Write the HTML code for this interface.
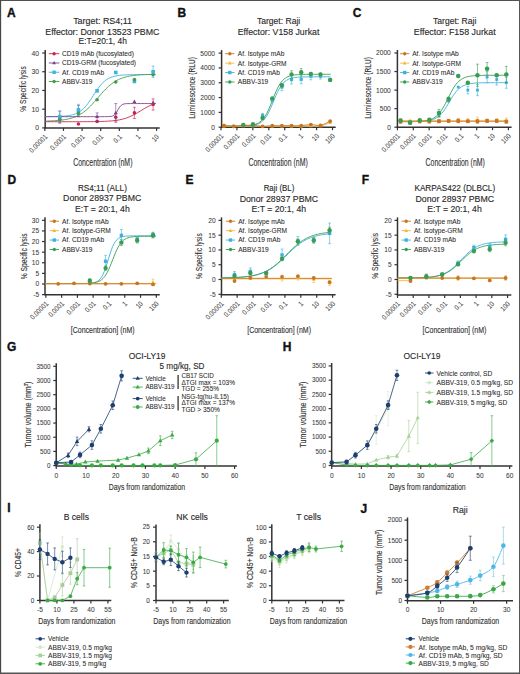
<!DOCTYPE html><html><head><meta charset="utf-8"><style>html,body{margin:0;padding:0;background:#fff;overflow:hidden;}svg{display:block;font-family:"Liberation Sans", sans-serif;}</style></head><body><svg width="520" height="674" viewBox="0 0 520 674">
<rect x="0" y="0" width="520" height="674" fill="#fff"/>
<text x="7.00" y="16.90" font-size="12" text-anchor="start" fill="#111" stroke="#111" stroke-width="0.35" font-weight="bold">A</text>
<text x="102.60" y="24.40" font-size="9" text-anchor="middle" fill="#2a2a2a" font-weight="normal" stroke="#2a2a2a" stroke-width="0.13" textLength="58.9" lengthAdjust="spacingAndGlyphs">Target: RS4;11</text>
<text x="102.40" y="34.70" font-size="9" text-anchor="middle" fill="#2a2a2a" font-weight="normal" stroke="#2a2a2a" stroke-width="0.13" textLength="114.2" lengthAdjust="spacingAndGlyphs">Effector: Donor 13523 PBMC</text>
<text x="102.70" y="44.20" font-size="9" text-anchor="middle" fill="#2a2a2a" font-weight="normal" stroke="#2a2a2a" stroke-width="0.13" textLength="48.5" lengthAdjust="spacingAndGlyphs">E:T=20:1, 4h</text>
<line x1="45.20" y1="50.00" x2="45.20" y2="127.90" stroke="#333" stroke-width="1.5"/>
<line x1="42.20" y1="127.90" x2="45.20" y2="127.90" stroke="#333" stroke-width="1.2"/>
<text x="39.00" y="130.42" font-size="7.62" text-anchor="end" fill="#3a3a3a" font-weight="normal" stroke="#3a3a3a" stroke-width="0.06" textLength="3.78" lengthAdjust="spacingAndGlyphs">0</text>
<line x1="42.20" y1="109.18" x2="45.20" y2="109.18" stroke="#333" stroke-width="1.2"/>
<text x="39.00" y="111.69" font-size="7.62" text-anchor="end" fill="#3a3a3a" font-weight="normal" stroke="#3a3a3a" stroke-width="0.06" textLength="7.56" lengthAdjust="spacingAndGlyphs">10</text>
<line x1="42.20" y1="90.45" x2="45.20" y2="90.45" stroke="#333" stroke-width="1.2"/>
<text x="39.00" y="92.97" font-size="7.62" text-anchor="end" fill="#3a3a3a" font-weight="normal" stroke="#3a3a3a" stroke-width="0.06" textLength="7.56" lengthAdjust="spacingAndGlyphs">20</text>
<line x1="42.20" y1="71.72" x2="45.20" y2="71.72" stroke="#333" stroke-width="1.2"/>
<text x="39.00" y="74.24" font-size="7.62" text-anchor="end" fill="#3a3a3a" font-weight="normal" stroke="#3a3a3a" stroke-width="0.06" textLength="7.56" lengthAdjust="spacingAndGlyphs">30</text>
<line x1="42.20" y1="53.00" x2="45.20" y2="53.00" stroke="#333" stroke-width="1.2"/>
<text x="39.00" y="55.52" font-size="7.62" text-anchor="end" fill="#3a3a3a" font-weight="normal" stroke="#3a3a3a" stroke-width="0.06" textLength="7.56" lengthAdjust="spacingAndGlyphs">40</text>
<line x1="44.50" y1="127.90" x2="159.70" y2="127.90" stroke="#333" stroke-width="1.5"/>
<line x1="44.85" y1="127.90" x2="44.85" y2="130.90" stroke="#333" stroke-width="1.2"/>
<text x="47.85" y="137.30" font-size="7.25" text-anchor="end" fill="#3a3a3a" font-weight="normal" stroke="#3a3a3a" stroke-width="0.06" transform="rotate(-45 47.85 137.30)" textLength="22.41" lengthAdjust="spacingAndGlyphs">0.00001</text>
<line x1="63.47" y1="127.90" x2="63.47" y2="130.90" stroke="#333" stroke-width="1.2"/>
<text x="66.47" y="137.30" font-size="7.25" text-anchor="end" fill="#3a3a3a" font-weight="normal" stroke="#3a3a3a" stroke-width="0.06" transform="rotate(-45 66.47 137.30)" textLength="18.96" lengthAdjust="spacingAndGlyphs">0.0001</text>
<line x1="82.09" y1="127.90" x2="82.09" y2="130.90" stroke="#333" stroke-width="1.2"/>
<text x="85.09" y="137.30" font-size="7.25" text-anchor="end" fill="#3a3a3a" font-weight="normal" stroke="#3a3a3a" stroke-width="0.06" transform="rotate(-45 85.09 137.30)" textLength="15.52" lengthAdjust="spacingAndGlyphs">0.001</text>
<line x1="100.71" y1="127.90" x2="100.71" y2="130.90" stroke="#333" stroke-width="1.2"/>
<text x="103.71" y="137.30" font-size="7.25" text-anchor="end" fill="#3a3a3a" font-weight="normal" stroke="#3a3a3a" stroke-width="0.06" transform="rotate(-45 103.71 137.30)" textLength="12.07" lengthAdjust="spacingAndGlyphs">0.01</text>
<line x1="119.33" y1="127.90" x2="119.33" y2="130.90" stroke="#333" stroke-width="1.2"/>
<text x="122.33" y="137.30" font-size="7.25" text-anchor="end" fill="#3a3a3a" font-weight="normal" stroke="#3a3a3a" stroke-width="0.06" transform="rotate(-45 122.33 137.30)" textLength="8.62" lengthAdjust="spacingAndGlyphs">0.1</text>
<line x1="137.95" y1="127.90" x2="137.95" y2="130.90" stroke="#333" stroke-width="1.2"/>
<text x="140.95" y="137.30" font-size="7.25" text-anchor="end" fill="#3a3a3a" font-weight="normal" stroke="#3a3a3a" stroke-width="0.06" transform="rotate(-45 140.95 137.30)" textLength="3.45" lengthAdjust="spacingAndGlyphs">1</text>
<line x1="156.57" y1="127.90" x2="156.57" y2="130.90" stroke="#333" stroke-width="1.2"/>
<text x="159.57" y="137.30" font-size="7.25" text-anchor="end" fill="#3a3a3a" font-weight="normal" stroke="#3a3a3a" stroke-width="0.06" transform="rotate(-45 159.57 137.30)" textLength="6.9" lengthAdjust="spacingAndGlyphs">10</text>
<text x="26.00" y="89.00" font-size="8.8" text-anchor="middle" fill="#333" font-weight="normal" stroke="#333" stroke-width="0.13" transform="rotate(-90 26.00 89.00)" textLength="45.4" lengthAdjust="spacingAndGlyphs">% Specific lysis</text>
<text x="102.80" y="165.60" font-size="10.5" text-anchor="middle" fill="#333" font-weight="normal" stroke="#333" stroke-width="0.13" textLength="59.3" lengthAdjust="spacingAndGlyphs">Concentration (nM)</text>
<line x1="48.80" y1="53.70" x2="59.40" y2="53.70" stroke="#c8244e" stroke-width="0.9"/>
<circle cx="54.10" cy="53.70" r="1.7" fill="#c8244e"/>
<text x="62.00" y="56.08" font-size="6.6" text-anchor="start" fill="#2a2a2a" font-weight="normal" stroke="#2a2a2a" stroke-width="0.06">CD19 mAb (fucosylated)</text>
<line x1="48.80" y1="62.97" x2="59.40" y2="62.97" stroke="#7b3f8e" stroke-width="0.9"/>
<polygon points="54.10,60.93 55.97,64.33 52.23,64.33" fill="#7b3f8e"/>
<text x="62.00" y="65.35" font-size="6.6" text-anchor="start" fill="#2a2a2a" font-weight="normal" stroke="#2a2a2a" stroke-width="0.06">CD19-GRM (fucosylated)</text>
<line x1="48.80" y1="72.24" x2="59.40" y2="72.24" stroke="#3db3de" stroke-width="0.9"/>
<rect x="52.40" y="70.54" width="3.40" height="3.40" fill="#3db3de"/>
<text x="62.00" y="74.62" font-size="6.6" text-anchor="start" fill="#2a2a2a" font-weight="normal" stroke="#2a2a2a" stroke-width="0.06">Af. CD19 mAb</text>
<line x1="48.80" y1="81.51" x2="59.40" y2="81.51" stroke="#3f9f4a" stroke-width="0.9"/>
<circle cx="54.10" cy="81.51" r="1.7" fill="#3f9f4a"/>
<text x="62.00" y="83.89" font-size="6.6" text-anchor="start" fill="#2a2a2a" font-weight="normal" stroke="#2a2a2a" stroke-width="0.06">ABBV-319</text>
<polyline points="44.85,116.63 46.23,116.63 47.62,116.62 49.00,116.61 50.39,116.59 51.77,116.58 53.16,116.56 54.54,116.53 55.93,116.50 57.31,116.46 58.70,116.42 60.08,116.36 61.47,116.29 62.85,116.21 64.24,116.10 65.62,115.98 67.01,115.83 68.39,115.64 69.78,115.41 71.16,115.14 72.55,114.80 73.93,114.40 75.32,113.92 76.70,113.34 78.09,112.65 79.47,111.84 80.86,110.90 82.24,109.79 83.63,108.53 85.01,107.09 86.40,105.49 87.78,103.72 89.17,101.81 90.55,99.78 91.94,97.67 93.32,95.51 94.71,93.35 96.09,91.24 97.47,89.22 98.86,87.32 100.24,85.57 101.63,83.98 103.01,82.56 104.40,81.31 105.78,80.22 107.17,79.28 108.55,78.48 109.94,77.81 111.32,77.24 112.71,76.76 114.09,76.37 115.48,76.04 116.86,75.77 118.25,75.54 119.63,75.36 121.02,75.21 122.40,75.08 123.79,74.98 125.17,74.90 126.56,74.83 127.94,74.78 129.33,74.73 130.71,74.70 132.10,74.67 133.48,74.64 134.87,74.62 136.25,74.61 137.64,74.59 139.02,74.58 140.41,74.57 141.79,74.57 143.18,74.56 144.56,74.55 145.94,74.55 147.33,74.55 148.71,74.54 150.10,74.54 151.48,74.54 152.87,74.54 154.25,74.54 155.64,74.54" fill="none" stroke="#3db3de" stroke-width="0.9" stroke-linejoin="round"/>
<polyline points="44.85,121.10 46.23,121.06 47.62,121.02 49.00,120.98 50.39,120.92 51.77,120.86 53.16,120.79 54.54,120.71 55.93,120.62 57.31,120.51 58.70,120.39 60.08,120.25 61.47,120.10 62.85,119.92 64.24,119.72 65.62,119.49 67.01,119.23 68.39,118.93 69.78,118.60 71.16,118.22 72.55,117.80 73.93,117.32 75.32,116.79 76.70,116.19 78.09,115.53 79.47,114.79 80.86,113.98 82.24,113.09 83.63,112.11 85.01,111.05 86.40,109.91 87.78,108.68 89.17,107.37 90.55,105.99 91.94,104.54 93.32,103.03 94.71,101.47 96.09,99.88 97.47,98.27 98.86,96.65 100.24,95.05 101.63,93.47 103.01,91.93 104.40,90.44 105.78,89.01 107.17,87.65 108.55,86.37 109.94,85.17 111.32,84.06 112.71,83.03 114.09,82.08 115.48,81.22 116.86,80.44 118.25,79.73 119.63,79.09 121.02,78.52 122.40,78.00 123.79,77.55 125.17,77.14 126.56,76.78 127.94,76.46 129.33,76.18 130.71,75.93 132.10,75.71 133.48,75.52 134.87,75.35 136.25,75.20 137.64,75.07 139.02,74.95 140.41,74.85 141.79,74.77 143.18,74.69 144.56,74.62 145.94,74.56 147.33,74.51 148.71,74.47 150.10,74.43 151.48,74.39 152.87,74.36 154.25,74.34 155.64,74.31" fill="none" stroke="#3f9f4a" stroke-width="0.9" stroke-linejoin="round"/>
<polyline points="44.85,116.67 46.23,116.67 47.62,116.67 49.00,116.67 50.39,116.67 51.77,116.67 53.16,116.67 54.54,116.66 55.93,116.66 57.31,116.66 58.70,116.66 60.08,116.66 61.47,116.66 62.85,116.66 64.24,116.66 65.62,116.66 67.01,116.66 68.39,116.66 69.78,116.66 71.16,116.66 72.55,116.66 73.93,116.66 75.32,116.66 76.70,116.66 78.09,116.66 79.47,116.66 80.86,116.66 82.24,116.66 83.63,116.66 85.01,116.66 86.40,116.66 87.78,116.66 89.17,116.66 90.55,116.66 91.94,116.66 93.32,116.66 94.71,116.66 96.09,116.66 97.47,116.66 98.86,116.66 100.24,116.66 101.63,116.66 103.01,116.66 104.40,116.66 105.78,116.65 107.17,116.63 108.55,116.59 109.94,116.51 111.32,116.33 112.71,115.95 114.09,115.22 115.48,113.89 116.86,111.85 118.25,109.37 119.63,107.09 121.02,105.47 122.40,104.52 123.79,104.02 125.17,103.78 126.56,103.66 127.94,103.60 129.33,103.58 130.71,103.57 132.10,103.56 133.48,103.56 134.87,103.56 136.25,103.56 137.64,103.56 139.02,103.56 140.41,103.56 141.79,103.56 143.18,103.56 144.56,103.56 145.94,103.56 147.33,103.56 148.71,103.56 150.10,103.56 151.48,103.56 152.87,103.56 154.25,103.56 155.64,103.56" fill="none" stroke="#7b3f8e" stroke-width="0.9" stroke-linejoin="round"/>
<polyline points="44.85,121.72 46.23,121.72 47.62,121.72 49.00,121.72 50.39,121.72 51.77,121.72 53.16,121.72 54.54,121.72 55.93,121.72 57.31,121.72 58.70,121.72 60.08,121.72 61.47,121.72 62.85,121.72 64.24,121.72 65.62,121.72 67.01,121.71 68.39,121.71 69.78,121.71 71.16,121.71 72.55,121.71 73.93,121.71 75.32,121.71 76.70,121.70 78.09,121.70 79.47,121.70 80.86,121.69 82.24,121.69 83.63,121.68 85.01,121.68 86.40,121.67 87.78,121.66 89.17,121.65 90.55,121.64 91.94,121.63 93.32,121.61 94.71,121.59 96.09,121.57 97.47,121.54 98.86,121.52 100.24,121.48 101.63,121.44 103.01,121.40 104.40,121.34 105.78,121.28 107.17,121.21 108.55,121.13 109.94,121.03 111.32,120.92 112.71,120.79 114.09,120.65 115.48,120.48 116.86,120.29 118.25,120.06 119.63,119.81 121.02,119.53 122.40,119.20 123.79,118.84 125.17,118.43 126.56,117.98 127.94,117.47 129.33,116.92 130.71,116.32 132.10,115.67 133.48,114.97 134.87,114.23 136.25,113.45 137.64,112.64 139.02,111.81 140.41,110.97 141.79,110.13 143.18,109.29 144.56,108.47 145.94,107.68 147.33,106.92 148.71,106.20 150.10,105.53 151.48,104.90 152.87,104.32 154.25,103.80 155.64,103.32" fill="none" stroke="#c8244e" stroke-width="0.9" stroke-linejoin="round"/>
<line x1="59.76" y1="115.73" x2="59.76" y2="123.22" stroke="#c8244e" stroke-width="0.6"/>
<line x1="58.26" y1="115.73" x2="61.26" y2="115.73" stroke="#c8244e" stroke-width="0.6"/>
<line x1="58.26" y1="123.22" x2="61.26" y2="123.22" stroke="#c8244e" stroke-width="0.6"/>
<circle cx="59.76" cy="119.47" r="1.8" fill="#c8244e"/>
<circle cx="78.43" cy="123.97" r="1.8" fill="#c8244e"/>
<circle cx="97.10" cy="121.53" r="1.8" fill="#c8244e"/>
<line x1="115.77" y1="113.48" x2="115.77" y2="120.97" stroke="#c8244e" stroke-width="0.6"/>
<line x1="114.27" y1="113.48" x2="117.27" y2="113.48" stroke="#c8244e" stroke-width="0.6"/>
<line x1="114.27" y1="120.97" x2="117.27" y2="120.97" stroke="#c8244e" stroke-width="0.6"/>
<circle cx="115.77" cy="117.23" r="1.8" fill="#c8244e"/>
<line x1="134.44" y1="107.30" x2="134.44" y2="118.54" stroke="#c8244e" stroke-width="0.6"/>
<line x1="132.94" y1="107.30" x2="135.94" y2="107.30" stroke="#c8244e" stroke-width="0.6"/>
<line x1="132.94" y1="118.54" x2="135.94" y2="118.54" stroke="#c8244e" stroke-width="0.6"/>
<circle cx="134.44" cy="112.92" r="1.8" fill="#c8244e"/>
<line x1="153.11" y1="98.88" x2="153.11" y2="110.11" stroke="#c8244e" stroke-width="0.6"/>
<line x1="151.61" y1="98.88" x2="154.61" y2="98.88" stroke="#c8244e" stroke-width="0.6"/>
<line x1="151.61" y1="110.11" x2="154.61" y2="110.11" stroke="#c8244e" stroke-width="0.6"/>
<circle cx="153.11" cy="104.49" r="1.8" fill="#c8244e"/>
<line x1="59.76" y1="111.05" x2="59.76" y2="122.28" stroke="#7b3f8e" stroke-width="0.6"/>
<line x1="58.26" y1="111.05" x2="61.26" y2="111.05" stroke="#7b3f8e" stroke-width="0.6"/>
<line x1="58.26" y1="122.28" x2="61.26" y2="122.28" stroke="#7b3f8e" stroke-width="0.6"/>
<polygon points="59.76,114.51 61.74,118.11 57.78,118.11" fill="#7b3f8e"/>
<line x1="78.43" y1="105.43" x2="78.43" y2="116.67" stroke="#7b3f8e" stroke-width="0.6"/>
<line x1="76.93" y1="105.43" x2="79.93" y2="105.43" stroke="#7b3f8e" stroke-width="0.6"/>
<line x1="76.93" y1="116.67" x2="79.93" y2="116.67" stroke="#7b3f8e" stroke-width="0.6"/>
<polygon points="78.43,108.89 80.41,112.49 76.45,112.49" fill="#7b3f8e"/>
<line x1="97.10" y1="112.92" x2="97.10" y2="120.41" stroke="#7b3f8e" stroke-width="0.6"/>
<line x1="95.60" y1="112.92" x2="98.60" y2="112.92" stroke="#7b3f8e" stroke-width="0.6"/>
<line x1="95.60" y1="120.41" x2="98.60" y2="120.41" stroke="#7b3f8e" stroke-width="0.6"/>
<polygon points="97.10,114.51 99.08,118.11 95.12,118.11" fill="#7b3f8e"/>
<line x1="115.77" y1="103.56" x2="115.77" y2="122.28" stroke="#7b3f8e" stroke-width="0.6"/>
<line x1="114.27" y1="103.56" x2="117.27" y2="103.56" stroke="#7b3f8e" stroke-width="0.6"/>
<line x1="114.27" y1="122.28" x2="117.27" y2="122.28" stroke="#7b3f8e" stroke-width="0.6"/>
<polygon points="115.77,110.76 117.75,114.36 113.79,114.36" fill="#7b3f8e"/>
<polygon points="134.44,99.53 136.42,103.12 132.46,103.12" fill="#7b3f8e"/>
<polygon points="153.11,100.46 155.09,104.06 151.13,104.06" fill="#7b3f8e"/>
<line x1="59.76" y1="111.05" x2="59.76" y2="122.28" stroke="#3db3de" stroke-width="0.6"/>
<line x1="58.26" y1="111.05" x2="61.26" y2="111.05" stroke="#3db3de" stroke-width="0.6"/>
<line x1="58.26" y1="122.28" x2="61.26" y2="122.28" stroke="#3db3de" stroke-width="0.6"/>
<rect x="57.96" y="114.87" width="3.60" height="3.60" fill="#3db3de"/>
<line x1="78.43" y1="104.31" x2="78.43" y2="115.54" stroke="#3db3de" stroke-width="0.6"/>
<line x1="76.93" y1="104.31" x2="79.93" y2="104.31" stroke="#3db3de" stroke-width="0.6"/>
<line x1="76.93" y1="115.54" x2="79.93" y2="115.54" stroke="#3db3de" stroke-width="0.6"/>
<rect x="76.63" y="108.12" width="3.60" height="3.60" fill="#3db3de"/>
<rect x="95.30" y="89.02" width="3.60" height="3.60" fill="#3db3de"/>
<rect x="113.97" y="70.67" width="3.60" height="3.60" fill="#3db3de"/>
<rect x="132.64" y="79.66" width="3.60" height="3.60" fill="#3db3de"/>
<line x1="153.11" y1="66.11" x2="153.11" y2="77.34" stroke="#3db3de" stroke-width="0.6"/>
<line x1="151.61" y1="66.11" x2="154.61" y2="66.11" stroke="#3db3de" stroke-width="0.6"/>
<line x1="151.61" y1="77.34" x2="154.61" y2="77.34" stroke="#3db3de" stroke-width="0.6"/>
<rect x="151.31" y="69.92" width="3.60" height="3.60" fill="#3db3de"/>
<circle cx="59.76" cy="119.66" r="1.8" fill="#3f9f4a"/>
<circle cx="78.43" cy="113.48" r="1.8" fill="#3f9f4a"/>
<circle cx="97.10" cy="99.81" r="1.8" fill="#3f9f4a"/>
<circle cx="115.77" cy="82.02" r="1.8" fill="#3f9f4a"/>
<circle cx="134.44" cy="79.59" r="1.8" fill="#3f9f4a"/>
<circle cx="153.11" cy="74.72" r="1.8" fill="#3f9f4a"/>
<text x="177.40" y="16.80" font-size="12" text-anchor="start" fill="#111" stroke="#111" stroke-width="0.35" font-weight="bold">B</text>
<text x="278.60" y="24.40" font-size="9" text-anchor="middle" fill="#2a2a2a" font-weight="normal" stroke="#2a2a2a" stroke-width="0.13" textLength="43.3" lengthAdjust="spacingAndGlyphs">Target: Raji</text>
<text x="278.50" y="35.00" font-size="9" text-anchor="middle" fill="#2a2a2a" font-weight="normal" stroke="#2a2a2a" stroke-width="0.13" textLength="81.7" lengthAdjust="spacingAndGlyphs">Effector: V158 Jurkat</text>
<line x1="221.60" y1="50.10" x2="221.60" y2="127.20" stroke="#333" stroke-width="1.5"/>
<line x1="218.60" y1="127.20" x2="221.60" y2="127.20" stroke="#333" stroke-width="1.2"/>
<text x="215.00" y="129.64" font-size="7.39" text-anchor="end" fill="#3a3a3a" font-weight="normal" stroke="#3a3a3a" stroke-width="0.06" textLength="3.67" lengthAdjust="spacingAndGlyphs">0</text>
<line x1="218.60" y1="112.38" x2="221.60" y2="112.38" stroke="#333" stroke-width="1.2"/>
<text x="215.00" y="114.82" font-size="7.39" text-anchor="end" fill="#3a3a3a" font-weight="normal" stroke="#3a3a3a" stroke-width="0.06" textLength="14.68" lengthAdjust="spacingAndGlyphs">1000</text>
<line x1="218.60" y1="97.56" x2="221.60" y2="97.56" stroke="#333" stroke-width="1.2"/>
<text x="215.00" y="100.00" font-size="7.39" text-anchor="end" fill="#3a3a3a" font-weight="normal" stroke="#3a3a3a" stroke-width="0.06" textLength="14.68" lengthAdjust="spacingAndGlyphs">2000</text>
<line x1="218.60" y1="82.74" x2="221.60" y2="82.74" stroke="#333" stroke-width="1.2"/>
<text x="215.00" y="85.18" font-size="7.39" text-anchor="end" fill="#3a3a3a" font-weight="normal" stroke="#3a3a3a" stroke-width="0.06" textLength="14.68" lengthAdjust="spacingAndGlyphs">3000</text>
<line x1="218.60" y1="67.92" x2="221.60" y2="67.92" stroke="#333" stroke-width="1.2"/>
<text x="215.00" y="70.36" font-size="7.39" text-anchor="end" fill="#3a3a3a" font-weight="normal" stroke="#3a3a3a" stroke-width="0.06" textLength="14.68" lengthAdjust="spacingAndGlyphs">4000</text>
<line x1="218.60" y1="53.10" x2="221.60" y2="53.10" stroke="#333" stroke-width="1.2"/>
<text x="215.00" y="55.54" font-size="7.39" text-anchor="end" fill="#3a3a3a" font-weight="normal" stroke="#3a3a3a" stroke-width="0.06" textLength="14.68" lengthAdjust="spacingAndGlyphs">5000</text>
<line x1="220.90" y1="127.20" x2="335.70" y2="127.20" stroke="#333" stroke-width="1.5"/>
<line x1="221.00" y1="127.20" x2="221.00" y2="130.20" stroke="#333" stroke-width="1.2"/>
<text x="224.00" y="136.60" font-size="7.25" text-anchor="end" fill="#3a3a3a" font-weight="normal" stroke="#3a3a3a" stroke-width="0.06" transform="rotate(-45 224.00 136.60)" textLength="22.41" lengthAdjust="spacingAndGlyphs">0.00001</text>
<line x1="236.93" y1="127.20" x2="236.93" y2="130.20" stroke="#333" stroke-width="1.2"/>
<text x="239.93" y="136.60" font-size="7.25" text-anchor="end" fill="#3a3a3a" font-weight="normal" stroke="#3a3a3a" stroke-width="0.06" transform="rotate(-45 239.93 136.60)" textLength="18.96" lengthAdjust="spacingAndGlyphs">0.0001</text>
<line x1="252.86" y1="127.20" x2="252.86" y2="130.20" stroke="#333" stroke-width="1.2"/>
<text x="255.86" y="136.60" font-size="7.25" text-anchor="end" fill="#3a3a3a" font-weight="normal" stroke="#3a3a3a" stroke-width="0.06" transform="rotate(-45 255.86 136.60)" textLength="15.52" lengthAdjust="spacingAndGlyphs">0.001</text>
<line x1="268.79" y1="127.20" x2="268.79" y2="130.20" stroke="#333" stroke-width="1.2"/>
<text x="271.79" y="136.60" font-size="7.25" text-anchor="end" fill="#3a3a3a" font-weight="normal" stroke="#3a3a3a" stroke-width="0.06" transform="rotate(-45 271.79 136.60)" textLength="12.07" lengthAdjust="spacingAndGlyphs">0.01</text>
<line x1="284.72" y1="127.20" x2="284.72" y2="130.20" stroke="#333" stroke-width="1.2"/>
<text x="287.72" y="136.60" font-size="7.25" text-anchor="end" fill="#3a3a3a" font-weight="normal" stroke="#3a3a3a" stroke-width="0.06" transform="rotate(-45 287.72 136.60)" textLength="8.62" lengthAdjust="spacingAndGlyphs">0.1</text>
<line x1="300.65" y1="127.20" x2="300.65" y2="130.20" stroke="#333" stroke-width="1.2"/>
<text x="303.65" y="136.60" font-size="7.25" text-anchor="end" fill="#3a3a3a" font-weight="normal" stroke="#3a3a3a" stroke-width="0.06" transform="rotate(-45 303.65 136.60)" textLength="3.45" lengthAdjust="spacingAndGlyphs">1</text>
<line x1="316.58" y1="127.20" x2="316.58" y2="130.20" stroke="#333" stroke-width="1.2"/>
<text x="319.58" y="136.60" font-size="7.25" text-anchor="end" fill="#3a3a3a" font-weight="normal" stroke="#3a3a3a" stroke-width="0.06" transform="rotate(-45 319.58 136.60)" textLength="6.9" lengthAdjust="spacingAndGlyphs">10</text>
<line x1="332.51" y1="127.20" x2="332.51" y2="130.20" stroke="#333" stroke-width="1.2"/>
<text x="335.51" y="136.60" font-size="7.25" text-anchor="end" fill="#3a3a3a" font-weight="normal" stroke="#3a3a3a" stroke-width="0.06" transform="rotate(-45 335.51 136.60)" textLength="10.34" lengthAdjust="spacingAndGlyphs">100</text>
<text x="195.40" y="88.00" font-size="9" text-anchor="middle" fill="#333" font-weight="normal" stroke="#333" stroke-width="0.13" transform="rotate(-90 195.40 88.00)" textLength="61.7" lengthAdjust="spacingAndGlyphs">Luminescence (RLU)</text>
<text x="278.10" y="165.60" font-size="10.5" text-anchor="middle" fill="#333" font-weight="normal" stroke="#333" stroke-width="0.13" textLength="59.3" lengthAdjust="spacingAndGlyphs">Concentration (nM)</text>
<line x1="225.10" y1="53.70" x2="234.50" y2="53.70" stroke="#c9741f" stroke-width="0.9"/>
<circle cx="229.80" cy="53.70" r="1.7" fill="#c9741f"/>
<text x="237.80" y="56.08" font-size="6.6" text-anchor="start" fill="#2a2a2a" font-weight="normal" stroke="#2a2a2a" stroke-width="0.06">Af. Isotype mAb</text>
<line x1="225.10" y1="63.13" x2="234.50" y2="63.13" stroke="#f4b840" stroke-width="0.9"/>
<polygon points="229.80,61.09 231.67,64.49 227.93,64.49" fill="#f4b840"/>
<text x="237.80" y="65.51" font-size="6.6" text-anchor="start" fill="#2a2a2a" font-weight="normal" stroke="#2a2a2a" stroke-width="0.06">Af. Isotype-GRM</text>
<line x1="225.10" y1="72.56" x2="234.50" y2="72.56" stroke="#3cb1dd" stroke-width="0.9"/>
<rect x="228.10" y="70.86" width="3.40" height="3.40" fill="#3cb1dd"/>
<text x="237.80" y="74.94" font-size="6.6" text-anchor="start" fill="#2a2a2a" font-weight="normal" stroke="#2a2a2a" stroke-width="0.06">Af. CD19 mAb</text>
<line x1="225.10" y1="81.99" x2="234.50" y2="81.99" stroke="#3a9c52" stroke-width="0.9"/>
<circle cx="229.80" cy="81.99" r="1.7" fill="#3a9c52"/>
<text x="237.80" y="84.37" font-size="6.6" text-anchor="start" fill="#2a2a2a" font-weight="normal" stroke="#2a2a2a" stroke-width="0.06">ABBV-319</text>
<polyline points="223.97,126.31 225.30,126.31 226.64,126.31 227.97,126.30 229.30,126.30 230.64,126.30 231.97,126.30 233.30,126.29 234.63,126.29 235.97,126.28 237.30,126.27 238.63,126.26 239.97,126.24 241.30,126.22 242.63,126.20 243.97,126.16 245.30,126.12 246.63,126.06 247.97,125.98 249.30,125.88 250.63,125.76 251.97,125.59 253.30,125.38 254.63,125.11 255.97,124.77 257.30,124.32 258.63,123.75 259.96,123.04 261.30,122.14 262.63,121.02 263.96,119.65 265.30,117.99 266.63,116.01 267.96,113.71 269.30,111.09 270.63,108.20 271.96,105.10 273.30,101.87 274.63,98.64 275.96,95.51 277.30,92.57 278.63,89.89 279.96,87.53 281.29,85.49 282.63,83.77 283.96,82.34 285.29,81.18 286.63,80.24 287.96,79.49 289.29,78.90 290.63,78.43 291.96,78.07 293.29,77.79 294.63,77.56 295.96,77.39 297.29,77.26 298.62,77.16 299.96,77.08 301.29,77.02 302.62,76.97 303.96,76.93 305.29,76.91 306.62,76.88 307.96,76.87 309.29,76.85 310.62,76.84 311.96,76.84 313.29,76.83 314.62,76.83 315.96,76.82 317.29,76.82 318.62,76.82 319.96,76.82 321.29,76.82 322.62,76.82 323.95,76.81 325.29,76.81 326.62,76.81 327.95,76.81 329.29,76.81 330.62,76.81" fill="none" stroke="#3cb1dd" stroke-width="0.9" stroke-linejoin="round"/>
<polyline points="223.97,126.01 225.30,126.01 226.64,126.01 227.97,126.01 229.30,126.00 230.64,126.00 231.97,126.00 233.30,125.99 234.63,125.98 235.97,125.98 237.30,125.96 238.63,125.95 239.97,125.93 241.30,125.90 242.63,125.87 243.97,125.83 245.30,125.77 246.63,125.70 247.97,125.60 249.30,125.48 250.63,125.32 251.97,125.12 253.30,124.85 254.63,124.51 255.97,124.08 257.30,123.53 258.63,122.83 259.96,121.95 261.30,120.85 262.63,119.50 263.96,117.85 265.30,115.88 266.63,113.58 267.96,110.93 269.30,107.99 270.63,104.80 271.96,101.46 273.30,98.07 274.63,94.76 275.96,91.62 277.30,88.74 278.63,86.17 279.96,83.94 281.29,82.05 282.63,80.47 283.96,79.18 285.29,78.14 286.63,77.30 287.96,76.64 289.29,76.12 290.63,75.71 291.96,75.39 293.29,75.14 294.63,74.95 295.96,74.80 297.29,74.68 298.62,74.59 299.96,74.52 301.29,74.47 302.62,74.43 303.96,74.40 305.29,74.37 306.62,74.36 307.96,74.34 309.29,74.33 310.62,74.32 311.96,74.31 313.29,74.31 314.62,74.31 315.96,74.30 317.29,74.30 318.62,74.30 319.96,74.30 321.29,74.30 322.62,74.30 323.95,74.29 325.29,74.29 326.62,74.29 327.95,74.29 329.29,74.29 330.62,74.29" fill="none" stroke="#3a9c52" stroke-width="0.9" stroke-linejoin="round"/>
<path d="M224.00,126.31 C225.61,126.36 230.43,126.66 233.65,126.61 C236.87,126.56 240.08,126.14 243.30,126.01 C246.52,125.89 249.73,125.79 252.95,125.87 C256.17,125.94 259.38,126.38 262.60,126.46 C265.82,126.53 269.03,126.36 272.25,126.31 C275.47,126.26 278.68,126.16 281.90,126.16 C285.12,126.16 288.33,126.29 291.55,126.31 C294.77,126.34 297.98,126.38 301.20,126.31 C304.42,126.24 307.63,125.92 310.85,125.87 C314.07,125.82 317.28,126.53 320.50,126.01 C323.72,125.50 328.54,123.30 330.15,122.75" fill="none" stroke="#f4b840" stroke-width="0.9"/>
<path d="M224.00,125.72 C225.61,125.82 230.43,126.38 233.65,126.31 C236.87,126.24 240.08,125.42 243.30,125.27 C246.52,125.13 249.73,125.25 252.95,125.42 C256.17,125.59 259.38,126.26 262.60,126.31 C265.82,126.36 269.03,125.82 272.25,125.72 C275.47,125.62 278.68,125.72 281.90,125.72 C285.12,125.72 288.33,125.72 291.55,125.72 C294.77,125.72 297.98,125.92 301.20,125.72 C304.42,125.52 307.63,124.58 310.85,124.53 C314.07,124.48 317.28,125.97 320.50,125.42 C323.72,124.88 328.54,121.96 330.15,121.27" fill="none" stroke="#c9741f" stroke-width="0.9"/>
<polygon points="224.00,124.39 225.76,127.59 222.24,127.59" fill="#f4b840"/>
<polygon points="233.65,124.69 235.41,127.89 231.89,127.89" fill="#f4b840"/>
<polygon points="243.30,124.09 245.06,127.29 241.54,127.29" fill="#f4b840"/>
<polygon points="252.95,123.95 254.71,127.15 251.19,127.15" fill="#f4b840"/>
<polygon points="262.60,124.54 264.36,127.74 260.84,127.74" fill="#f4b840"/>
<polygon points="272.25,124.39 274.01,127.59 270.49,127.59" fill="#f4b840"/>
<polygon points="281.90,124.24 283.66,127.44 280.14,127.44" fill="#f4b840"/>
<polygon points="291.55,124.39 293.31,127.59 289.79,127.59" fill="#f4b840"/>
<polygon points="301.20,124.39 302.96,127.59 299.44,127.59" fill="#f4b840"/>
<polygon points="310.85,123.95 312.61,127.15 309.09,127.15" fill="#f4b840"/>
<polygon points="320.50,124.09 322.26,127.29 318.74,127.29" fill="#f4b840"/>
<polygon points="330.15,120.83 331.91,124.03 328.39,124.03" fill="#f4b840"/>
<circle cx="224.00" cy="125.72" r="1.9" fill="#c9741f"/>
<circle cx="233.65" cy="126.31" r="1.9" fill="#c9741f"/>
<circle cx="243.30" cy="125.27" r="1.9" fill="#c9741f"/>
<circle cx="252.95" cy="125.42" r="1.9" fill="#c9741f"/>
<circle cx="262.60" cy="126.31" r="1.9" fill="#c9741f"/>
<circle cx="272.25" cy="125.72" r="1.9" fill="#c9741f"/>
<circle cx="281.90" cy="125.72" r="1.9" fill="#c9741f"/>
<circle cx="291.55" cy="125.72" r="1.9" fill="#c9741f"/>
<circle cx="301.20" cy="125.72" r="1.9" fill="#c9741f"/>
<circle cx="310.85" cy="124.53" r="1.9" fill="#c9741f"/>
<circle cx="320.50" cy="125.42" r="1.9" fill="#c9741f"/>
<circle cx="330.15" cy="121.27" r="1.9" fill="#c9741f"/>
<rect x="251.35" y="123.38" width="3.20" height="3.20" fill="#3cb1dd"/>
<line x1="262.60" y1="113.37" x2="262.60" y2="117.82" stroke="#3cb1dd" stroke-width="0.6"/>
<line x1="261.20" y1="113.37" x2="264.00" y2="113.37" stroke="#3cb1dd" stroke-width="0.6"/>
<line x1="261.20" y1="117.82" x2="264.00" y2="117.82" stroke="#3cb1dd" stroke-width="0.6"/>
<rect x="261.00" y="114.00" width="3.20" height="3.20" fill="#3cb1dd"/>
<line x1="272.25" y1="97.78" x2="272.25" y2="102.23" stroke="#3cb1dd" stroke-width="0.6"/>
<line x1="270.85" y1="97.78" x2="273.65" y2="97.78" stroke="#3cb1dd" stroke-width="0.6"/>
<line x1="270.85" y1="102.23" x2="273.65" y2="102.23" stroke="#3cb1dd" stroke-width="0.6"/>
<rect x="270.65" y="98.41" width="3.20" height="3.20" fill="#3cb1dd"/>
<line x1="281.90" y1="83.30" x2="281.90" y2="90.71" stroke="#3cb1dd" stroke-width="0.6"/>
<line x1="280.50" y1="83.30" x2="283.30" y2="83.30" stroke="#3cb1dd" stroke-width="0.6"/>
<line x1="280.50" y1="90.71" x2="283.30" y2="90.71" stroke="#3cb1dd" stroke-width="0.6"/>
<rect x="280.30" y="85.41" width="3.20" height="3.20" fill="#3cb1dd"/>
<line x1="291.55" y1="75.15" x2="291.55" y2="84.04" stroke="#3cb1dd" stroke-width="0.6"/>
<line x1="290.15" y1="75.15" x2="292.95" y2="75.15" stroke="#3cb1dd" stroke-width="0.6"/>
<line x1="290.15" y1="84.04" x2="292.95" y2="84.04" stroke="#3cb1dd" stroke-width="0.6"/>
<rect x="289.95" y="78.00" width="3.20" height="3.20" fill="#3cb1dd"/>
<line x1="301.20" y1="74.86" x2="301.20" y2="83.75" stroke="#3cb1dd" stroke-width="0.6"/>
<line x1="299.80" y1="74.86" x2="302.60" y2="74.86" stroke="#3cb1dd" stroke-width="0.6"/>
<line x1="299.80" y1="83.75" x2="302.60" y2="83.75" stroke="#3cb1dd" stroke-width="0.6"/>
<rect x="299.60" y="77.70" width="3.20" height="3.20" fill="#3cb1dd"/>
<line x1="310.85" y1="72.37" x2="310.85" y2="79.78" stroke="#3cb1dd" stroke-width="0.6"/>
<line x1="309.45" y1="72.37" x2="312.25" y2="72.37" stroke="#3cb1dd" stroke-width="0.6"/>
<line x1="309.45" y1="79.78" x2="312.25" y2="79.78" stroke="#3cb1dd" stroke-width="0.6"/>
<rect x="309.25" y="74.47" width="3.20" height="3.20" fill="#3cb1dd"/>
<line x1="320.50" y1="73.11" x2="320.50" y2="79.03" stroke="#3cb1dd" stroke-width="0.6"/>
<line x1="319.10" y1="73.11" x2="321.90" y2="73.11" stroke="#3cb1dd" stroke-width="0.6"/>
<line x1="319.10" y1="79.03" x2="321.90" y2="79.03" stroke="#3cb1dd" stroke-width="0.6"/>
<rect x="318.90" y="74.47" width="3.20" height="3.20" fill="#3cb1dd"/>
<line x1="330.15" y1="78.29" x2="330.15" y2="81.26" stroke="#3cb1dd" stroke-width="0.6"/>
<line x1="328.75" y1="78.29" x2="331.55" y2="78.29" stroke="#3cb1dd" stroke-width="0.6"/>
<line x1="328.75" y1="81.26" x2="331.55" y2="81.26" stroke="#3cb1dd" stroke-width="0.6"/>
<rect x="328.55" y="78.18" width="3.20" height="3.20" fill="#3cb1dd"/>
<circle cx="243.30" cy="124.83" r="2.2" fill="#3a9c52"/>
<circle cx="252.95" cy="124.24" r="2.2" fill="#3a9c52"/>
<circle cx="262.60" cy="118.01" r="2.2" fill="#3a9c52"/>
<circle cx="272.25" cy="98.40" r="2.2" fill="#3a9c52"/>
<circle cx="281.90" cy="85.30" r="2.2" fill="#3a9c52"/>
<line x1="291.55" y1="70.71" x2="291.55" y2="78.12" stroke="#3a9c52" stroke-width="0.6"/>
<line x1="290.15" y1="70.71" x2="292.95" y2="70.71" stroke="#3a9c52" stroke-width="0.6"/>
<line x1="290.15" y1="78.12" x2="292.95" y2="78.12" stroke="#3a9c52" stroke-width="0.6"/>
<circle cx="291.55" cy="74.41" r="2.2" fill="#3a9c52"/>
<line x1="301.20" y1="68.60" x2="301.20" y2="76.01" stroke="#3a9c52" stroke-width="0.6"/>
<line x1="299.80" y1="68.60" x2="302.60" y2="68.60" stroke="#3a9c52" stroke-width="0.6"/>
<line x1="299.80" y1="76.01" x2="302.60" y2="76.01" stroke="#3a9c52" stroke-width="0.6"/>
<circle cx="301.20" cy="72.31" r="2.2" fill="#3a9c52"/>
<circle cx="310.85" cy="73.91" r="2.2" fill="#3a9c52"/>
<circle cx="320.50" cy="74.41" r="2.2" fill="#3a9c52"/>
<circle cx="330.15" cy="79.89" r="2.2" fill="#3a9c52"/>
<circle cx="224.00" cy="125.72" r="1.9" fill="#c9741f"/>
<circle cx="233.65" cy="126.31" r="1.9" fill="#c9741f"/>
<text x="352.80" y="17.10" font-size="12" text-anchor="start" fill="#111" stroke="#111" stroke-width="0.35" font-weight="bold">C</text>
<text x="454.70" y="24.40" font-size="9" text-anchor="middle" fill="#2a2a2a" font-weight="normal" stroke="#2a2a2a" stroke-width="0.13" textLength="43.2" lengthAdjust="spacingAndGlyphs">Target: Raji</text>
<text x="454.70" y="35.00" font-size="9" text-anchor="middle" fill="#2a2a2a" font-weight="normal" stroke="#2a2a2a" stroke-width="0.13" textLength="81.8" lengthAdjust="spacingAndGlyphs">Effector: F158 Jurkat</text>
<line x1="397.40" y1="50.00" x2="397.40" y2="127.20" stroke="#333" stroke-width="1.5"/>
<line x1="394.40" y1="127.20" x2="397.40" y2="127.20" stroke="#333" stroke-width="1.2"/>
<text x="390.80" y="129.64" font-size="7.39" text-anchor="end" fill="#3a3a3a" font-weight="normal" stroke="#3a3a3a" stroke-width="0.06" textLength="3.67" lengthAdjust="spacingAndGlyphs">0</text>
<line x1="394.40" y1="108.65" x2="397.40" y2="108.65" stroke="#333" stroke-width="1.2"/>
<text x="390.80" y="111.09" font-size="7.39" text-anchor="end" fill="#3a3a3a" font-weight="normal" stroke="#3a3a3a" stroke-width="0.06" textLength="11.01" lengthAdjust="spacingAndGlyphs">500</text>
<line x1="394.40" y1="90.10" x2="397.40" y2="90.10" stroke="#333" stroke-width="1.2"/>
<text x="390.80" y="92.54" font-size="7.39" text-anchor="end" fill="#3a3a3a" font-weight="normal" stroke="#3a3a3a" stroke-width="0.06" textLength="14.68" lengthAdjust="spacingAndGlyphs">1000</text>
<line x1="394.40" y1="71.55" x2="397.40" y2="71.55" stroke="#333" stroke-width="1.2"/>
<text x="390.80" y="73.99" font-size="7.39" text-anchor="end" fill="#3a3a3a" font-weight="normal" stroke="#3a3a3a" stroke-width="0.06" textLength="14.68" lengthAdjust="spacingAndGlyphs">1500</text>
<line x1="394.40" y1="53.00" x2="397.40" y2="53.00" stroke="#333" stroke-width="1.2"/>
<text x="390.80" y="55.44" font-size="7.39" text-anchor="end" fill="#3a3a3a" font-weight="normal" stroke="#3a3a3a" stroke-width="0.06" textLength="14.68" lengthAdjust="spacingAndGlyphs">2000</text>
<line x1="396.70" y1="127.20" x2="511.60" y2="127.20" stroke="#333" stroke-width="1.5"/>
<line x1="397.45" y1="127.20" x2="397.45" y2="130.20" stroke="#333" stroke-width="1.2"/>
<text x="400.45" y="136.60" font-size="7.25" text-anchor="end" fill="#3a3a3a" font-weight="normal" stroke="#3a3a3a" stroke-width="0.06" transform="rotate(-45 400.45 136.60)" textLength="22.41" lengthAdjust="spacingAndGlyphs">0.00001</text>
<line x1="413.30" y1="127.20" x2="413.30" y2="130.20" stroke="#333" stroke-width="1.2"/>
<text x="416.30" y="136.60" font-size="7.25" text-anchor="end" fill="#3a3a3a" font-weight="normal" stroke="#3a3a3a" stroke-width="0.06" transform="rotate(-45 416.30 136.60)" textLength="18.96" lengthAdjust="spacingAndGlyphs">0.0001</text>
<line x1="429.15" y1="127.20" x2="429.15" y2="130.20" stroke="#333" stroke-width="1.2"/>
<text x="432.15" y="136.60" font-size="7.25" text-anchor="end" fill="#3a3a3a" font-weight="normal" stroke="#3a3a3a" stroke-width="0.06" transform="rotate(-45 432.15 136.60)" textLength="15.52" lengthAdjust="spacingAndGlyphs">0.001</text>
<line x1="445.00" y1="127.20" x2="445.00" y2="130.20" stroke="#333" stroke-width="1.2"/>
<text x="448.00" y="136.60" font-size="7.25" text-anchor="end" fill="#3a3a3a" font-weight="normal" stroke="#3a3a3a" stroke-width="0.06" transform="rotate(-45 448.00 136.60)" textLength="12.07" lengthAdjust="spacingAndGlyphs">0.01</text>
<line x1="460.85" y1="127.20" x2="460.85" y2="130.20" stroke="#333" stroke-width="1.2"/>
<text x="463.85" y="136.60" font-size="7.25" text-anchor="end" fill="#3a3a3a" font-weight="normal" stroke="#3a3a3a" stroke-width="0.06" transform="rotate(-45 463.85 136.60)" textLength="8.62" lengthAdjust="spacingAndGlyphs">0.1</text>
<line x1="476.70" y1="127.20" x2="476.70" y2="130.20" stroke="#333" stroke-width="1.2"/>
<text x="479.70" y="136.60" font-size="7.25" text-anchor="end" fill="#3a3a3a" font-weight="normal" stroke="#3a3a3a" stroke-width="0.06" transform="rotate(-45 479.70 136.60)" textLength="3.45" lengthAdjust="spacingAndGlyphs">1</text>
<line x1="492.55" y1="127.20" x2="492.55" y2="130.20" stroke="#333" stroke-width="1.2"/>
<text x="495.55" y="136.60" font-size="7.25" text-anchor="end" fill="#3a3a3a" font-weight="normal" stroke="#3a3a3a" stroke-width="0.06" transform="rotate(-45 495.55 136.60)" textLength="6.9" lengthAdjust="spacingAndGlyphs">10</text>
<line x1="508.40" y1="127.20" x2="508.40" y2="130.20" stroke="#333" stroke-width="1.2"/>
<text x="511.40" y="136.60" font-size="7.25" text-anchor="end" fill="#3a3a3a" font-weight="normal" stroke="#3a3a3a" stroke-width="0.06" transform="rotate(-45 511.40 136.60)" textLength="10.34" lengthAdjust="spacingAndGlyphs">100</text>
<text x="371.20" y="88.00" font-size="9" text-anchor="middle" fill="#333" font-weight="normal" stroke="#333" stroke-width="0.13" transform="rotate(-90 371.20 88.00)" textLength="61.7" lengthAdjust="spacingAndGlyphs">Luminescence (RLU)</text>
<text x="455.20" y="165.60" font-size="10.5" text-anchor="middle" fill="#333" font-weight="normal" stroke="#333" stroke-width="0.13" textLength="59.3" lengthAdjust="spacingAndGlyphs">Concentration (nM)</text>
<line x1="400.10" y1="53.70" x2="409.30" y2="53.70" stroke="#c9741f" stroke-width="0.9"/>
<circle cx="404.70" cy="53.70" r="1.7" fill="#c9741f"/>
<text x="412.20" y="56.08" font-size="6.6" text-anchor="start" fill="#2a2a2a" font-weight="normal" stroke="#2a2a2a" stroke-width="0.06">Af. Isotype mAb</text>
<line x1="400.10" y1="63.13" x2="409.30" y2="63.13" stroke="#f4b840" stroke-width="0.9"/>
<polygon points="404.70,61.09 406.57,64.49 402.83,64.49" fill="#f4b840"/>
<text x="412.20" y="65.51" font-size="6.6" text-anchor="start" fill="#2a2a2a" font-weight="normal" stroke="#2a2a2a" stroke-width="0.06">Af. Isotype-GRM</text>
<line x1="400.10" y1="72.56" x2="409.30" y2="72.56" stroke="#3cb1dd" stroke-width="0.9"/>
<rect x="403.00" y="70.86" width="3.40" height="3.40" fill="#3cb1dd"/>
<text x="412.20" y="74.94" font-size="6.6" text-anchor="start" fill="#2a2a2a" font-weight="normal" stroke="#2a2a2a" stroke-width="0.06">Af. CD19 mAb</text>
<line x1="400.10" y1="81.99" x2="409.30" y2="81.99" stroke="#3a9c52" stroke-width="0.9"/>
<circle cx="404.70" cy="81.99" r="1.7" fill="#3a9c52"/>
<text x="412.20" y="84.37" font-size="6.6" text-anchor="start" fill="#2a2a2a" font-weight="normal" stroke="#2a2a2a" stroke-width="0.06">ABBV-319</text>
<polyline points="400.56,121.63 401.88,121.63 403.21,121.62 404.53,121.62 405.85,121.62 407.18,121.61 408.50,121.60 409.82,121.60 411.15,121.59 412.47,121.57 413.79,121.56 415.12,121.54 416.44,121.51 417.76,121.48 419.09,121.44 420.41,121.38 421.73,121.32 423.06,121.24 424.38,121.14 425.70,121.01 427.02,120.85 428.35,120.65 429.67,120.40 430.99,120.09 432.32,119.71 433.64,119.24 434.96,118.66 436.29,117.96 437.61,117.12 438.93,116.11 440.26,114.92 441.58,113.53 442.90,111.94 444.23,110.16 445.55,108.21 446.87,106.10 448.20,103.90 449.52,101.65 450.84,99.42 452.17,97.25 453.49,95.21 454.81,93.33 456.14,91.64 457.46,90.14 458.78,88.84 460.11,87.73 461.43,86.80 462.75,86.02 464.08,85.38 465.40,84.85 466.72,84.42 468.05,84.08 469.37,83.80 470.69,83.57 472.02,83.39 473.34,83.25 474.66,83.13 475.99,83.04 477.31,82.96 478.63,82.91 479.95,82.86 481.28,82.82 482.60,82.79 483.92,82.77 485.25,82.75 486.57,82.74 487.89,82.72 489.22,82.72 490.54,82.71 491.86,82.70 493.19,82.70 494.51,82.69 495.83,82.69 497.16,82.69 498.48,82.69 499.80,82.69 501.13,82.68 502.45,82.68 503.77,82.68 505.10,82.68 506.42,82.68" fill="none" stroke="#3cb1dd" stroke-width="0.9" stroke-linejoin="round"/>
<polyline points="400.56,121.62 401.88,121.62 403.21,121.62 404.53,121.61 405.85,121.61 407.18,121.60 408.50,121.59 409.82,121.58 411.15,121.56 412.47,121.54 413.79,121.52 415.12,121.49 416.44,121.45 417.76,121.40 419.09,121.34 420.41,121.26 421.73,121.17 423.06,121.05 424.38,120.90 425.70,120.71 427.02,120.47 428.35,120.18 429.67,119.82 430.99,119.37 432.32,118.81 433.64,118.13 434.96,117.30 436.29,116.30 437.61,115.11 438.93,113.70 440.26,112.07 441.58,110.19 442.90,108.08 444.23,105.76 445.55,103.26 446.87,100.64 448.20,97.97 449.52,95.30 450.84,92.72 452.17,90.28 453.49,88.03 454.81,86.01 456.14,84.22 457.46,82.66 458.78,81.33 460.11,80.21 461.43,79.28 462.75,78.51 464.08,77.87 465.40,77.36 466.72,76.94 468.05,76.60 469.37,76.33 470.69,76.11 472.02,75.94 473.34,75.80 474.66,75.69 475.99,75.60 477.31,75.53 478.63,75.48 479.95,75.43 481.28,75.40 482.60,75.37 483.92,75.35 485.25,75.33 486.57,75.31 487.89,75.30 489.22,75.29 490.54,75.29 491.86,75.28 493.19,75.28 494.51,75.27 495.83,75.27 497.16,75.27 498.48,75.27 499.80,75.27 501.13,75.26 502.45,75.26 503.77,75.26 505.10,75.26 506.42,75.26" fill="none" stroke="#3a9c52" stroke-width="0.9" stroke-linejoin="round"/>
<line x1="400.50" y1="121.26" x2="506.32" y2="121.26" stroke="#f4b840" stroke-width="1.0"/>
<line x1="400.50" y1="121.08" x2="506.32" y2="121.08" stroke="#c9741f" stroke-width="0.9"/>
<line x1="400.50" y1="118.67" x2="400.50" y2="123.12" stroke="#f4b840" stroke-width="0.6"/>
<line x1="399.10" y1="118.67" x2="401.90" y2="118.67" stroke="#f4b840" stroke-width="0.6"/>
<line x1="399.10" y1="123.12" x2="401.90" y2="123.12" stroke="#f4b840" stroke-width="0.6"/>
<polygon points="400.50,118.97 402.26,122.17 398.74,122.17" fill="#f4b840"/>
<line x1="410.12" y1="119.78" x2="410.12" y2="122.75" stroke="#f4b840" stroke-width="0.6"/>
<line x1="408.72" y1="119.78" x2="411.52" y2="119.78" stroke="#f4b840" stroke-width="0.6"/>
<line x1="408.72" y1="122.75" x2="411.52" y2="122.75" stroke="#f4b840" stroke-width="0.6"/>
<polygon points="410.12,119.34 411.88,122.54 408.36,122.54" fill="#f4b840"/>
<line x1="419.74" y1="118.30" x2="419.74" y2="122.75" stroke="#f4b840" stroke-width="0.6"/>
<line x1="418.34" y1="118.30" x2="421.14" y2="118.30" stroke="#f4b840" stroke-width="0.6"/>
<line x1="418.34" y1="122.75" x2="421.14" y2="122.75" stroke="#f4b840" stroke-width="0.6"/>
<polygon points="419.74,118.60 421.50,121.80 417.98,121.80" fill="#f4b840"/>
<line x1="429.36" y1="119.04" x2="429.36" y2="122.75" stroke="#f4b840" stroke-width="0.6"/>
<line x1="427.96" y1="119.04" x2="430.76" y2="119.04" stroke="#f4b840" stroke-width="0.6"/>
<line x1="427.96" y1="122.75" x2="430.76" y2="122.75" stroke="#f4b840" stroke-width="0.6"/>
<polygon points="429.36,118.97 431.12,122.17 427.60,122.17" fill="#f4b840"/>
<line x1="438.98" y1="119.41" x2="438.98" y2="122.38" stroke="#f4b840" stroke-width="0.6"/>
<line x1="437.58" y1="119.41" x2="440.38" y2="119.41" stroke="#f4b840" stroke-width="0.6"/>
<line x1="437.58" y1="122.38" x2="440.38" y2="122.38" stroke="#f4b840" stroke-width="0.6"/>
<polygon points="438.98,118.97 440.74,122.17 437.22,122.17" fill="#f4b840"/>
<line x1="448.60" y1="119.41" x2="448.60" y2="122.38" stroke="#f4b840" stroke-width="0.6"/>
<line x1="447.20" y1="119.41" x2="450.00" y2="119.41" stroke="#f4b840" stroke-width="0.6"/>
<line x1="447.20" y1="122.38" x2="450.00" y2="122.38" stroke="#f4b840" stroke-width="0.6"/>
<polygon points="448.60,118.97 450.36,122.17 446.84,122.17" fill="#f4b840"/>
<line x1="458.22" y1="118.67" x2="458.22" y2="122.38" stroke="#f4b840" stroke-width="0.6"/>
<line x1="456.82" y1="118.67" x2="459.62" y2="118.67" stroke="#f4b840" stroke-width="0.6"/>
<line x1="456.82" y1="122.38" x2="459.62" y2="122.38" stroke="#f4b840" stroke-width="0.6"/>
<polygon points="458.22,118.60 459.98,121.80 456.46,121.80" fill="#f4b840"/>
<line x1="467.84" y1="118.67" x2="467.84" y2="122.38" stroke="#f4b840" stroke-width="0.6"/>
<line x1="466.44" y1="118.67" x2="469.24" y2="118.67" stroke="#f4b840" stroke-width="0.6"/>
<line x1="466.44" y1="122.38" x2="469.24" y2="122.38" stroke="#f4b840" stroke-width="0.6"/>
<polygon points="467.84,118.60 469.60,121.80 466.08,121.80" fill="#f4b840"/>
<line x1="477.46" y1="117.18" x2="477.46" y2="123.12" stroke="#f4b840" stroke-width="0.6"/>
<line x1="476.06" y1="117.18" x2="478.86" y2="117.18" stroke="#f4b840" stroke-width="0.6"/>
<line x1="476.06" y1="123.12" x2="478.86" y2="123.12" stroke="#f4b840" stroke-width="0.6"/>
<polygon points="477.46,118.23 479.22,121.43 475.70,121.43" fill="#f4b840"/>
<line x1="487.08" y1="119.04" x2="487.08" y2="122.01" stroke="#f4b840" stroke-width="0.6"/>
<line x1="485.68" y1="119.04" x2="488.48" y2="119.04" stroke="#f4b840" stroke-width="0.6"/>
<line x1="485.68" y1="122.01" x2="488.48" y2="122.01" stroke="#f4b840" stroke-width="0.6"/>
<polygon points="487.08,118.60 488.84,121.80 485.32,121.80" fill="#f4b840"/>
<line x1="496.70" y1="118.67" x2="496.70" y2="122.38" stroke="#f4b840" stroke-width="0.6"/>
<line x1="495.30" y1="118.67" x2="498.10" y2="118.67" stroke="#f4b840" stroke-width="0.6"/>
<line x1="495.30" y1="122.38" x2="498.10" y2="122.38" stroke="#f4b840" stroke-width="0.6"/>
<polygon points="496.70,118.60 498.46,121.80 494.94,121.80" fill="#f4b840"/>
<line x1="506.32" y1="117.92" x2="506.32" y2="122.38" stroke="#f4b840" stroke-width="0.6"/>
<line x1="504.92" y1="117.92" x2="507.72" y2="117.92" stroke="#f4b840" stroke-width="0.6"/>
<line x1="504.92" y1="122.38" x2="507.72" y2="122.38" stroke="#f4b840" stroke-width="0.6"/>
<polygon points="506.32,118.23 508.08,121.43 504.56,121.43" fill="#f4b840"/>
<line x1="400.50" y1="120.15" x2="400.50" y2="123.12" stroke="#c9741f" stroke-width="0.6"/>
<line x1="399.10" y1="120.15" x2="401.90" y2="120.15" stroke="#c9741f" stroke-width="0.6"/>
<line x1="399.10" y1="123.12" x2="401.90" y2="123.12" stroke="#c9741f" stroke-width="0.6"/>
<rect x="398.70" y="119.84" width="3.60" height="3.60" fill="#c9741f"/>
<line x1="410.12" y1="120.89" x2="410.12" y2="123.86" stroke="#c9741f" stroke-width="0.6"/>
<line x1="408.72" y1="120.89" x2="411.52" y2="120.89" stroke="#c9741f" stroke-width="0.6"/>
<line x1="408.72" y1="123.86" x2="411.52" y2="123.86" stroke="#c9741f" stroke-width="0.6"/>
<rect x="408.32" y="120.58" width="3.60" height="3.60" fill="#c9741f"/>
<line x1="419.74" y1="118.67" x2="419.74" y2="123.12" stroke="#c9741f" stroke-width="0.6"/>
<line x1="418.34" y1="118.67" x2="421.14" y2="118.67" stroke="#c9741f" stroke-width="0.6"/>
<line x1="418.34" y1="123.12" x2="421.14" y2="123.12" stroke="#c9741f" stroke-width="0.6"/>
<rect x="417.94" y="119.09" width="3.60" height="3.60" fill="#c9741f"/>
<line x1="429.36" y1="119.41" x2="429.36" y2="123.12" stroke="#c9741f" stroke-width="0.6"/>
<line x1="427.96" y1="119.41" x2="430.76" y2="119.41" stroke="#c9741f" stroke-width="0.6"/>
<line x1="427.96" y1="123.12" x2="430.76" y2="123.12" stroke="#c9741f" stroke-width="0.6"/>
<rect x="427.56" y="119.46" width="3.60" height="3.60" fill="#c9741f"/>
<line x1="438.98" y1="119.78" x2="438.98" y2="122.75" stroke="#c9741f" stroke-width="0.6"/>
<line x1="437.58" y1="119.78" x2="440.38" y2="119.78" stroke="#c9741f" stroke-width="0.6"/>
<line x1="437.58" y1="122.75" x2="440.38" y2="122.75" stroke="#c9741f" stroke-width="0.6"/>
<rect x="437.18" y="119.46" width="3.60" height="3.60" fill="#c9741f"/>
<line x1="448.60" y1="119.41" x2="448.60" y2="122.38" stroke="#c9741f" stroke-width="0.6"/>
<line x1="447.20" y1="119.41" x2="450.00" y2="119.41" stroke="#c9741f" stroke-width="0.6"/>
<line x1="447.20" y1="122.38" x2="450.00" y2="122.38" stroke="#c9741f" stroke-width="0.6"/>
<rect x="446.80" y="119.09" width="3.60" height="3.60" fill="#c9741f"/>
<line x1="458.22" y1="119.04" x2="458.22" y2="122.75" stroke="#c9741f" stroke-width="0.6"/>
<line x1="456.82" y1="119.04" x2="459.62" y2="119.04" stroke="#c9741f" stroke-width="0.6"/>
<line x1="456.82" y1="122.75" x2="459.62" y2="122.75" stroke="#c9741f" stroke-width="0.6"/>
<rect x="456.42" y="119.09" width="3.60" height="3.60" fill="#c9741f"/>
<line x1="467.84" y1="120.15" x2="467.84" y2="122.38" stroke="#c9741f" stroke-width="0.6"/>
<line x1="466.44" y1="120.15" x2="469.24" y2="120.15" stroke="#c9741f" stroke-width="0.6"/>
<line x1="466.44" y1="122.38" x2="469.24" y2="122.38" stroke="#c9741f" stroke-width="0.6"/>
<rect x="466.04" y="119.46" width="3.60" height="3.60" fill="#c9741f"/>
<line x1="477.46" y1="119.41" x2="477.46" y2="123.12" stroke="#c9741f" stroke-width="0.6"/>
<line x1="476.06" y1="119.41" x2="478.86" y2="119.41" stroke="#c9741f" stroke-width="0.6"/>
<line x1="476.06" y1="123.12" x2="478.86" y2="123.12" stroke="#c9741f" stroke-width="0.6"/>
<rect x="475.66" y="119.46" width="3.60" height="3.60" fill="#c9741f"/>
<line x1="487.08" y1="119.41" x2="487.08" y2="122.38" stroke="#c9741f" stroke-width="0.6"/>
<line x1="485.68" y1="119.41" x2="488.48" y2="119.41" stroke="#c9741f" stroke-width="0.6"/>
<line x1="485.68" y1="122.38" x2="488.48" y2="122.38" stroke="#c9741f" stroke-width="0.6"/>
<rect x="485.28" y="119.09" width="3.60" height="3.60" fill="#c9741f"/>
<line x1="496.70" y1="119.41" x2="496.70" y2="122.38" stroke="#c9741f" stroke-width="0.6"/>
<line x1="495.30" y1="119.41" x2="498.10" y2="119.41" stroke="#c9741f" stroke-width="0.6"/>
<line x1="495.30" y1="122.38" x2="498.10" y2="122.38" stroke="#c9741f" stroke-width="0.6"/>
<rect x="494.90" y="119.09" width="3.60" height="3.60" fill="#c9741f"/>
<line x1="506.32" y1="120.15" x2="506.32" y2="123.12" stroke="#c9741f" stroke-width="0.6"/>
<line x1="504.92" y1="120.15" x2="507.72" y2="120.15" stroke="#c9741f" stroke-width="0.6"/>
<line x1="504.92" y1="123.12" x2="507.72" y2="123.12" stroke="#c9741f" stroke-width="0.6"/>
<rect x="504.52" y="119.84" width="3.60" height="3.60" fill="#c9741f"/>
<rect x="399.10" y="119.12" width="2.80" height="2.80" fill="#3cb1dd"/>
<rect x="408.72" y="120.23" width="2.80" height="2.80" fill="#3cb1dd"/>
<rect x="418.34" y="119.49" width="2.80" height="2.80" fill="#3cb1dd"/>
<rect x="427.96" y="118.38" width="2.80" height="2.80" fill="#3cb1dd"/>
<rect x="437.58" y="114.67" width="2.80" height="2.80" fill="#3cb1dd"/>
<rect x="447.20" y="99.83" width="2.80" height="2.80" fill="#3cb1dd"/>
<rect x="456.82" y="85.73" width="2.80" height="2.80" fill="#3cb1dd"/>
<line x1="467.84" y1="86.39" x2="467.84" y2="93.81" stroke="#3cb1dd" stroke-width="0.6"/>
<line x1="466.44" y1="86.39" x2="469.24" y2="86.39" stroke="#3cb1dd" stroke-width="0.6"/>
<line x1="466.44" y1="93.81" x2="469.24" y2="93.81" stroke="#3cb1dd" stroke-width="0.6"/>
<rect x="466.44" y="88.70" width="2.80" height="2.80" fill="#3cb1dd"/>
<line x1="477.46" y1="84.53" x2="477.46" y2="95.67" stroke="#3cb1dd" stroke-width="0.6"/>
<line x1="476.06" y1="84.53" x2="478.86" y2="84.53" stroke="#3cb1dd" stroke-width="0.6"/>
<line x1="476.06" y1="95.67" x2="478.86" y2="95.67" stroke="#3cb1dd" stroke-width="0.6"/>
<rect x="476.06" y="88.70" width="2.80" height="2.80" fill="#3cb1dd"/>
<line x1="487.08" y1="71.55" x2="487.08" y2="82.68" stroke="#3cb1dd" stroke-width="0.6"/>
<line x1="485.68" y1="71.55" x2="488.48" y2="71.55" stroke="#3cb1dd" stroke-width="0.6"/>
<line x1="485.68" y1="82.68" x2="488.48" y2="82.68" stroke="#3cb1dd" stroke-width="0.6"/>
<rect x="485.68" y="75.72" width="2.80" height="2.80" fill="#3cb1dd"/>
<line x1="496.70" y1="73.96" x2="496.70" y2="85.09" stroke="#3cb1dd" stroke-width="0.6"/>
<line x1="495.30" y1="73.96" x2="498.10" y2="73.96" stroke="#3cb1dd" stroke-width="0.6"/>
<line x1="495.30" y1="85.09" x2="498.10" y2="85.09" stroke="#3cb1dd" stroke-width="0.6"/>
<rect x="495.30" y="78.13" width="2.80" height="2.80" fill="#3cb1dd"/>
<line x1="506.32" y1="77.12" x2="506.32" y2="88.25" stroke="#3cb1dd" stroke-width="0.6"/>
<line x1="504.92" y1="77.12" x2="507.72" y2="77.12" stroke="#3cb1dd" stroke-width="0.6"/>
<line x1="504.92" y1="88.25" x2="507.72" y2="88.25" stroke="#3cb1dd" stroke-width="0.6"/>
<rect x="504.92" y="81.28" width="2.80" height="2.80" fill="#3cb1dd"/>
<circle cx="400.50" cy="120.52" r="2.3" fill="#3a9c52"/>
<circle cx="410.12" cy="122.75" r="2.3" fill="#3a9c52"/>
<circle cx="419.74" cy="120.52" r="2.3" fill="#3a9c52"/>
<circle cx="429.36" cy="119.78" r="2.3" fill="#3a9c52"/>
<line x1="438.98" y1="109.39" x2="438.98" y2="116.81" stroke="#3a9c52" stroke-width="0.6"/>
<line x1="437.58" y1="109.39" x2="440.38" y2="109.39" stroke="#3a9c52" stroke-width="0.6"/>
<line x1="437.58" y1="116.81" x2="440.38" y2="116.81" stroke="#3a9c52" stroke-width="0.6"/>
<circle cx="438.98" cy="113.10" r="2.3" fill="#3a9c52"/>
<line x1="448.60" y1="97.15" x2="448.60" y2="100.86" stroke="#3a9c52" stroke-width="0.6"/>
<line x1="447.20" y1="97.15" x2="450.00" y2="97.15" stroke="#3a9c52" stroke-width="0.6"/>
<line x1="447.20" y1="100.86" x2="450.00" y2="100.86" stroke="#3a9c52" stroke-width="0.6"/>
<circle cx="448.60" cy="99.00" r="2.3" fill="#3a9c52"/>
<circle cx="458.22" cy="76.00" r="2.3" fill="#3a9c52"/>
<circle cx="467.84" cy="82.68" r="2.3" fill="#3a9c52"/>
<line x1="477.46" y1="64.13" x2="477.46" y2="86.39" stroke="#3a9c52" stroke-width="0.6"/>
<line x1="476.06" y1="64.13" x2="478.86" y2="64.13" stroke="#3a9c52" stroke-width="0.6"/>
<line x1="476.06" y1="86.39" x2="478.86" y2="86.39" stroke="#3a9c52" stroke-width="0.6"/>
<circle cx="477.46" cy="75.26" r="2.3" fill="#3a9c52"/>
<line x1="487.08" y1="62.46" x2="487.08" y2="75.07" stroke="#3a9c52" stroke-width="0.6"/>
<line x1="485.68" y1="62.46" x2="488.48" y2="62.46" stroke="#3a9c52" stroke-width="0.6"/>
<line x1="485.68" y1="75.07" x2="488.48" y2="75.07" stroke="#3a9c52" stroke-width="0.6"/>
<circle cx="487.08" cy="68.77" r="2.3" fill="#3a9c52"/>
<circle cx="496.70" cy="75.26" r="2.3" fill="#3a9c52"/>
<line x1="506.32" y1="66.36" x2="506.32" y2="82.68" stroke="#3a9c52" stroke-width="0.6"/>
<line x1="504.92" y1="66.36" x2="507.72" y2="66.36" stroke="#3a9c52" stroke-width="0.6"/>
<line x1="504.92" y1="82.68" x2="507.72" y2="82.68" stroke="#3a9c52" stroke-width="0.6"/>
<circle cx="506.32" cy="74.52" r="2.3" fill="#3a9c52"/>
<text x="7.60" y="184.00" font-size="12" text-anchor="start" fill="#111" stroke="#111" stroke-width="0.35" font-weight="bold">D</text>
<text x="102.40" y="190.80" font-size="9" text-anchor="middle" fill="#2a2a2a" font-weight="normal" stroke="#2a2a2a" stroke-width="0.13" textLength="49" lengthAdjust="spacingAndGlyphs">RS4;11 (ALL)</text>
<text x="102.20" y="201.30" font-size="9" text-anchor="middle" fill="#2a2a2a" font-weight="normal" stroke="#2a2a2a" stroke-width="0.13" textLength="78.2" lengthAdjust="spacingAndGlyphs">Donor 28937 PBMC</text>
<text x="102.40" y="211.60" font-size="9" text-anchor="middle" fill="#2a2a2a" font-weight="normal" stroke="#2a2a2a" stroke-width="0.13" textLength="54.8" lengthAdjust="spacingAndGlyphs">E:T = 20:1, 4h</text>
<line x1="45.00" y1="217.30" x2="45.00" y2="294.80" stroke="#333" stroke-width="1.5"/>
<line x1="42.00" y1="294.62" x2="45.00" y2="294.62" stroke="#333" stroke-width="1.2"/>
<text x="39.20" y="297.06" font-size="7.39" text-anchor="end" fill="#3a3a3a" font-weight="normal" stroke="#3a3a3a" stroke-width="0.06" textLength="5.87" lengthAdjust="spacingAndGlyphs">-5</text>
<line x1="42.00" y1="284.00" x2="45.00" y2="284.00" stroke="#333" stroke-width="1.2"/>
<text x="39.20" y="286.44" font-size="7.39" text-anchor="end" fill="#3a3a3a" font-weight="normal" stroke="#3a3a3a" stroke-width="0.06" textLength="3.67" lengthAdjust="spacingAndGlyphs">0</text>
<line x1="42.00" y1="273.38" x2="45.00" y2="273.38" stroke="#333" stroke-width="1.2"/>
<text x="39.20" y="275.83" font-size="7.39" text-anchor="end" fill="#3a3a3a" font-weight="normal" stroke="#3a3a3a" stroke-width="0.06" textLength="3.67" lengthAdjust="spacingAndGlyphs">5</text>
<line x1="42.00" y1="262.77" x2="45.00" y2="262.77" stroke="#333" stroke-width="1.2"/>
<text x="39.20" y="265.21" font-size="7.39" text-anchor="end" fill="#3a3a3a" font-weight="normal" stroke="#3a3a3a" stroke-width="0.06" textLength="7.34" lengthAdjust="spacingAndGlyphs">10</text>
<line x1="42.00" y1="252.16" x2="45.00" y2="252.16" stroke="#333" stroke-width="1.2"/>
<text x="39.20" y="254.60" font-size="7.39" text-anchor="end" fill="#3a3a3a" font-weight="normal" stroke="#3a3a3a" stroke-width="0.06" textLength="7.34" lengthAdjust="spacingAndGlyphs">15</text>
<line x1="42.00" y1="241.54" x2="45.00" y2="241.54" stroke="#333" stroke-width="1.2"/>
<text x="39.20" y="243.98" font-size="7.39" text-anchor="end" fill="#3a3a3a" font-weight="normal" stroke="#3a3a3a" stroke-width="0.06" textLength="7.34" lengthAdjust="spacingAndGlyphs">20</text>
<line x1="42.00" y1="230.93" x2="45.00" y2="230.93" stroke="#333" stroke-width="1.2"/>
<text x="39.20" y="233.37" font-size="7.39" text-anchor="end" fill="#3a3a3a" font-weight="normal" stroke="#3a3a3a" stroke-width="0.06" textLength="7.34" lengthAdjust="spacingAndGlyphs">25</text>
<line x1="42.00" y1="220.31" x2="45.00" y2="220.31" stroke="#333" stroke-width="1.2"/>
<text x="39.20" y="222.75" font-size="7.39" text-anchor="end" fill="#3a3a3a" font-weight="normal" stroke="#3a3a3a" stroke-width="0.06" textLength="7.34" lengthAdjust="spacingAndGlyphs">30</text>
<line x1="44.30" y1="294.80" x2="159.80" y2="294.80" stroke="#333" stroke-width="1.5"/>
<line x1="45.85" y1="294.80" x2="45.85" y2="297.80" stroke="#333" stroke-width="1.2"/>
<text x="48.85" y="304.20" font-size="7.25" text-anchor="end" fill="#3a3a3a" font-weight="normal" stroke="#3a3a3a" stroke-width="0.06" transform="rotate(-45 48.85 304.20)" textLength="22.41" lengthAdjust="spacingAndGlyphs">0.00001</text>
<line x1="61.63" y1="294.80" x2="61.63" y2="297.80" stroke="#333" stroke-width="1.2"/>
<text x="64.63" y="304.20" font-size="7.25" text-anchor="end" fill="#3a3a3a" font-weight="normal" stroke="#3a3a3a" stroke-width="0.06" transform="rotate(-45 64.63 304.20)" textLength="18.96" lengthAdjust="spacingAndGlyphs">0.0001</text>
<line x1="77.41" y1="294.80" x2="77.41" y2="297.80" stroke="#333" stroke-width="1.2"/>
<text x="80.41" y="304.20" font-size="7.25" text-anchor="end" fill="#3a3a3a" font-weight="normal" stroke="#3a3a3a" stroke-width="0.06" transform="rotate(-45 80.41 304.20)" textLength="15.52" lengthAdjust="spacingAndGlyphs">0.001</text>
<line x1="93.19" y1="294.80" x2="93.19" y2="297.80" stroke="#333" stroke-width="1.2"/>
<text x="96.19" y="304.20" font-size="7.25" text-anchor="end" fill="#3a3a3a" font-weight="normal" stroke="#3a3a3a" stroke-width="0.06" transform="rotate(-45 96.19 304.20)" textLength="12.07" lengthAdjust="spacingAndGlyphs">0.01</text>
<line x1="108.97" y1="294.80" x2="108.97" y2="297.80" stroke="#333" stroke-width="1.2"/>
<text x="111.97" y="304.20" font-size="7.25" text-anchor="end" fill="#3a3a3a" font-weight="normal" stroke="#3a3a3a" stroke-width="0.06" transform="rotate(-45 111.97 304.20)" textLength="8.62" lengthAdjust="spacingAndGlyphs">0.1</text>
<line x1="124.75" y1="294.80" x2="124.75" y2="297.80" stroke="#333" stroke-width="1.2"/>
<text x="127.75" y="304.20" font-size="7.25" text-anchor="end" fill="#3a3a3a" font-weight="normal" stroke="#3a3a3a" stroke-width="0.06" transform="rotate(-45 127.75 304.20)" textLength="3.45" lengthAdjust="spacingAndGlyphs">1</text>
<line x1="140.53" y1="294.80" x2="140.53" y2="297.80" stroke="#333" stroke-width="1.2"/>
<text x="143.53" y="304.20" font-size="7.25" text-anchor="end" fill="#3a3a3a" font-weight="normal" stroke="#3a3a3a" stroke-width="0.06" transform="rotate(-45 143.53 304.20)" textLength="6.9" lengthAdjust="spacingAndGlyphs">10</text>
<line x1="156.31" y1="294.80" x2="156.31" y2="297.80" stroke="#333" stroke-width="1.2"/>
<text x="159.31" y="304.20" font-size="7.25" text-anchor="end" fill="#3a3a3a" font-weight="normal" stroke="#3a3a3a" stroke-width="0.06" transform="rotate(-45 159.31 304.20)" textLength="10.34" lengthAdjust="spacingAndGlyphs">100</text>
<text x="26.60" y="256.30" font-size="8.8" text-anchor="middle" fill="#333" font-weight="normal" stroke="#333" stroke-width="0.13" transform="rotate(-90 26.60 256.30)" textLength="45.8" lengthAdjust="spacingAndGlyphs">% Specific lysis</text>
<text x="102.70" y="333.30" font-size="9.5" text-anchor="middle" fill="#333" font-weight="normal" stroke="#333" stroke-width="0.13" textLength="63.8" lengthAdjust="spacingAndGlyphs">[Concentration] (nM)</text>
<line x1="49.60" y1="221.20" x2="59.00" y2="221.20" stroke="#c9741f" stroke-width="0.9"/>
<circle cx="54.30" cy="221.20" r="1.7" fill="#c9741f"/>
<text x="62.00" y="223.58" font-size="6.6" text-anchor="start" fill="#2a2a2a" font-weight="normal" stroke="#2a2a2a" stroke-width="0.06">Af. Isotype mAb</text>
<line x1="49.60" y1="230.63" x2="59.00" y2="230.63" stroke="#f4b840" stroke-width="0.9"/>
<polygon points="54.30,228.59 56.17,231.99 52.43,231.99" fill="#f4b840"/>
<text x="62.00" y="233.01" font-size="6.6" text-anchor="start" fill="#2a2a2a" font-weight="normal" stroke="#2a2a2a" stroke-width="0.06">Af. Isotype-GRM</text>
<line x1="49.60" y1="240.06" x2="59.00" y2="240.06" stroke="#3cb1dd" stroke-width="0.9"/>
<rect x="52.60" y="238.36" width="3.40" height="3.40" fill="#3cb1dd"/>
<text x="62.00" y="242.44" font-size="6.6" text-anchor="start" fill="#2a2a2a" font-weight="normal" stroke="#2a2a2a" stroke-width="0.06">Af. CD19 mAb</text>
<line x1="49.60" y1="249.49" x2="59.00" y2="249.49" stroke="#3a9c52" stroke-width="0.9"/>
<circle cx="54.30" cy="249.49" r="1.7" fill="#3a9c52"/>
<text x="62.00" y="251.87" font-size="6.6" text-anchor="start" fill="#2a2a2a" font-weight="normal" stroke="#2a2a2a" stroke-width="0.06">ABBV-319</text>
<polyline points="45.00,283.58 46.38,283.58 47.77,283.58 49.15,283.58 50.53,283.58 51.91,283.58 53.30,283.58 54.68,283.58 56.06,283.58 57.44,283.58 58.83,283.58 60.21,283.58 61.59,283.58 62.97,283.58 64.36,283.58 65.74,283.58 67.12,283.57 68.50,283.57 69.89,283.57 71.27,283.57 72.65,283.57 74.03,283.57 75.41,283.57 76.80,283.57 78.18,283.56 79.56,283.56 80.94,283.55 82.33,283.54 83.71,283.52 85.09,283.50 86.47,283.46 87.86,283.41 89.24,283.33 90.62,283.21 92.00,283.04 93.39,282.80 94.77,282.44 96.15,281.93 97.53,281.21 98.92,280.18 100.30,278.76 101.68,276.83 103.06,274.29 104.45,271.09 105.83,267.26 107.21,262.94 108.59,258.39 109.98,253.93 111.36,249.86 112.74,246.38 114.12,243.56 115.51,241.39 116.89,239.76 118.27,238.57 119.66,237.73 121.04,237.14 122.42,236.72 123.80,236.43 125.19,236.24 126.57,236.10 127.95,236.01 129.33,235.94 130.72,235.90 132.10,235.87 133.48,235.85 134.86,235.84 136.25,235.83 137.63,235.82 139.01,235.82 140.39,235.81 141.78,235.81 143.16,235.81 144.54,235.81 145.92,235.81 147.31,235.81 148.69,235.81 150.07,235.81 151.45,235.81 152.84,235.81 154.22,235.81 155.60,235.81" fill="none" stroke="#3cb1dd" stroke-width="0.9" stroke-linejoin="round"/>
<polyline points="45.00,283.58 46.38,283.58 47.77,283.58 49.15,283.58 50.53,283.58 51.91,283.58 53.30,283.58 54.68,283.58 56.06,283.58 57.44,283.58 58.83,283.58 60.21,283.57 61.59,283.57 62.97,283.57 64.36,283.57 65.74,283.57 67.12,283.57 68.50,283.57 69.89,283.57 71.27,283.57 72.65,283.57 74.03,283.57 75.41,283.56 76.80,283.56 78.18,283.55 79.56,283.54 80.94,283.53 82.33,283.51 83.71,283.49 85.09,283.46 86.47,283.42 87.86,283.37 89.24,283.29 90.62,283.19 92.00,283.06 93.39,282.88 94.77,282.64 96.15,282.32 97.53,281.89 98.92,281.32 100.30,280.58 101.68,279.61 103.06,278.36 104.45,276.79 105.83,274.83 107.21,272.47 108.59,269.70 109.98,266.57 111.36,263.15 112.74,259.60 114.12,256.05 115.51,252.68 116.89,249.60 118.27,246.90 119.66,244.61 121.04,242.73 122.42,241.21 123.80,240.02 125.19,239.09 126.57,238.38 127.95,237.84 129.33,237.43 130.72,237.12 132.10,236.89 133.48,236.72 134.86,236.60 136.25,236.50 137.63,236.43 139.01,236.38 140.39,236.34 141.78,236.31 143.16,236.29 144.54,236.28 145.92,236.27 147.31,236.26 148.69,236.25 150.07,236.25 151.45,236.24 152.84,236.24 154.22,236.24 155.60,236.24" fill="none" stroke="#3a9c52" stroke-width="0.9" stroke-linejoin="round"/>
<line x1="45.00" y1="283.58" x2="155.60" y2="283.58" stroke="#f4b840" stroke-width="0.9"/>
<line x1="45.00" y1="283.79" x2="155.60" y2="283.79" stroke="#c9741f" stroke-width="0.9"/>
<polygon points="58.20,281.66 59.96,284.86 56.44,284.86" fill="#f4b840"/>
<polygon points="74.00,281.44 75.76,284.64 72.24,284.64" fill="#f4b840"/>
<polygon points="89.80,281.66 91.56,284.86 88.04,284.86" fill="#f4b840"/>
<polygon points="105.60,281.87 107.36,285.07 103.84,285.07" fill="#f4b840"/>
<polygon points="121.40,281.87 123.16,285.07 119.64,285.07" fill="#f4b840"/>
<polygon points="137.20,281.44 138.96,284.64 135.44,284.64" fill="#f4b840"/>
<line x1="153.00" y1="279.12" x2="153.00" y2="285.49" stroke="#f4b840" stroke-width="0.6"/>
<line x1="151.60" y1="279.12" x2="154.40" y2="279.12" stroke="#f4b840" stroke-width="0.6"/>
<line x1="151.60" y1="285.49" x2="154.40" y2="285.49" stroke="#f4b840" stroke-width="0.6"/>
<polygon points="153.00,280.38 154.76,283.58 151.24,283.58" fill="#f4b840"/>
<circle cx="58.20" cy="283.79" r="1.9" fill="#c9741f"/>
<circle cx="74.00" cy="283.36" r="1.9" fill="#c9741f"/>
<circle cx="89.80" cy="283.58" r="1.9" fill="#c9741f"/>
<circle cx="105.60" cy="283.79" r="1.9" fill="#c9741f"/>
<circle cx="121.40" cy="283.79" r="1.9" fill="#c9741f"/>
<circle cx="137.20" cy="283.36" r="1.9" fill="#c9741f"/>
<circle cx="153.00" cy="284.42" r="1.9" fill="#c9741f"/>
<rect x="88.10" y="279.12" width="3.40" height="3.40" fill="#3cb1dd"/>
<line x1="105.60" y1="255.34" x2="105.60" y2="267.23" stroke="#3cb1dd" stroke-width="0.6"/>
<line x1="104.20" y1="255.34" x2="107.00" y2="255.34" stroke="#3cb1dd" stroke-width="0.6"/>
<line x1="104.20" y1="267.23" x2="107.00" y2="267.23" stroke="#3cb1dd" stroke-width="0.6"/>
<rect x="103.90" y="259.58" width="3.40" height="3.40" fill="#3cb1dd"/>
<line x1="121.40" y1="229.44" x2="121.40" y2="241.33" stroke="#3cb1dd" stroke-width="0.6"/>
<line x1="120.00" y1="229.44" x2="122.80" y2="229.44" stroke="#3cb1dd" stroke-width="0.6"/>
<line x1="120.00" y1="241.33" x2="122.80" y2="241.33" stroke="#3cb1dd" stroke-width="0.6"/>
<rect x="119.70" y="233.68" width="3.40" height="3.40" fill="#3cb1dd"/>
<line x1="137.20" y1="237.29" x2="137.20" y2="241.54" stroke="#3cb1dd" stroke-width="0.6"/>
<line x1="135.80" y1="237.29" x2="138.60" y2="237.29" stroke="#3cb1dd" stroke-width="0.6"/>
<line x1="135.80" y1="241.54" x2="138.60" y2="241.54" stroke="#3cb1dd" stroke-width="0.6"/>
<rect x="135.50" y="237.72" width="3.40" height="3.40" fill="#3cb1dd"/>
<line x1="153.00" y1="232.20" x2="153.00" y2="237.29" stroke="#3cb1dd" stroke-width="0.6"/>
<line x1="151.60" y1="232.20" x2="154.40" y2="232.20" stroke="#3cb1dd" stroke-width="0.6"/>
<line x1="151.60" y1="237.29" x2="154.40" y2="237.29" stroke="#3cb1dd" stroke-width="0.6"/>
<rect x="151.30" y="233.05" width="3.40" height="3.40" fill="#3cb1dd"/>
<line x1="89.80" y1="278.69" x2="89.80" y2="282.94" stroke="#3a9c52" stroke-width="0.6"/>
<line x1="88.40" y1="278.69" x2="91.20" y2="278.69" stroke="#3a9c52" stroke-width="0.6"/>
<line x1="88.40" y1="282.94" x2="91.20" y2="282.94" stroke="#3a9c52" stroke-width="0.6"/>
<circle cx="89.80" cy="280.82" r="2.2" fill="#3a9c52"/>
<line x1="105.60" y1="265.95" x2="105.60" y2="270.20" stroke="#3a9c52" stroke-width="0.6"/>
<line x1="104.20" y1="265.95" x2="107.00" y2="265.95" stroke="#3a9c52" stroke-width="0.6"/>
<line x1="104.20" y1="270.20" x2="107.00" y2="270.20" stroke="#3a9c52" stroke-width="0.6"/>
<circle cx="105.60" cy="268.08" r="2.2" fill="#3a9c52"/>
<line x1="121.40" y1="239.63" x2="121.40" y2="245.57" stroke="#3a9c52" stroke-width="0.6"/>
<line x1="120.00" y1="239.63" x2="122.80" y2="239.63" stroke="#3a9c52" stroke-width="0.6"/>
<line x1="120.00" y1="245.57" x2="122.80" y2="245.57" stroke="#3a9c52" stroke-width="0.6"/>
<circle cx="121.40" cy="242.60" r="2.2" fill="#3a9c52"/>
<line x1="137.20" y1="237.93" x2="137.20" y2="243.03" stroke="#3a9c52" stroke-width="0.6"/>
<line x1="135.80" y1="237.93" x2="138.60" y2="237.93" stroke="#3a9c52" stroke-width="0.6"/>
<line x1="135.80" y1="243.03" x2="138.60" y2="243.03" stroke="#3a9c52" stroke-width="0.6"/>
<circle cx="137.20" cy="240.48" r="2.2" fill="#3a9c52"/>
<line x1="153.00" y1="232.84" x2="153.00" y2="237.93" stroke="#3a9c52" stroke-width="0.6"/>
<line x1="151.60" y1="232.84" x2="154.40" y2="232.84" stroke="#3a9c52" stroke-width="0.6"/>
<line x1="151.60" y1="237.93" x2="154.40" y2="237.93" stroke="#3a9c52" stroke-width="0.6"/>
<circle cx="153.00" cy="235.38" r="2.2" fill="#3a9c52"/>
<text x="185.60" y="184.00" font-size="12" text-anchor="start" fill="#111" stroke="#111" stroke-width="0.35" font-weight="bold">E</text>
<text x="279.00" y="191.30" font-size="9" text-anchor="middle" fill="#2a2a2a" font-weight="normal" stroke="#2a2a2a" stroke-width="0.13" textLength="30.7" lengthAdjust="spacingAndGlyphs">Raji (BL)</text>
<text x="278.90" y="201.90" font-size="9" text-anchor="middle" fill="#2a2a2a" font-weight="normal" stroke="#2a2a2a" stroke-width="0.13" textLength="78.5" lengthAdjust="spacingAndGlyphs">Donor 28937 PBMC</text>
<text x="278.80" y="211.90" font-size="9" text-anchor="middle" fill="#2a2a2a" font-weight="normal" stroke="#2a2a2a" stroke-width="0.13" textLength="54.5" lengthAdjust="spacingAndGlyphs">E:T = 20:1, 4h</text>
<line x1="221.50" y1="217.40" x2="221.50" y2="294.80" stroke="#333" stroke-width="1.5"/>
<line x1="218.50" y1="294.28" x2="221.50" y2="294.28" stroke="#333" stroke-width="1.2"/>
<text x="215.70" y="296.72" font-size="7.39" text-anchor="end" fill="#3a3a3a" font-weight="normal" stroke="#3a3a3a" stroke-width="0.06" textLength="5.87" lengthAdjust="spacingAndGlyphs">-5</text>
<line x1="218.50" y1="279.50" x2="221.50" y2="279.50" stroke="#333" stroke-width="1.2"/>
<text x="215.70" y="281.94" font-size="7.39" text-anchor="end" fill="#3a3a3a" font-weight="normal" stroke="#3a3a3a" stroke-width="0.06" textLength="3.67" lengthAdjust="spacingAndGlyphs">0</text>
<line x1="218.50" y1="264.72" x2="221.50" y2="264.72" stroke="#333" stroke-width="1.2"/>
<text x="215.70" y="267.16" font-size="7.39" text-anchor="end" fill="#3a3a3a" font-weight="normal" stroke="#3a3a3a" stroke-width="0.06" textLength="3.67" lengthAdjust="spacingAndGlyphs">5</text>
<line x1="218.50" y1="249.94" x2="221.50" y2="249.94" stroke="#333" stroke-width="1.2"/>
<text x="215.70" y="252.38" font-size="7.39" text-anchor="end" fill="#3a3a3a" font-weight="normal" stroke="#3a3a3a" stroke-width="0.06" textLength="7.34" lengthAdjust="spacingAndGlyphs">10</text>
<line x1="218.50" y1="235.16" x2="221.50" y2="235.16" stroke="#333" stroke-width="1.2"/>
<text x="215.70" y="237.60" font-size="7.39" text-anchor="end" fill="#3a3a3a" font-weight="normal" stroke="#3a3a3a" stroke-width="0.06" textLength="7.34" lengthAdjust="spacingAndGlyphs">15</text>
<line x1="218.50" y1="220.38" x2="221.50" y2="220.38" stroke="#333" stroke-width="1.2"/>
<text x="215.70" y="222.82" font-size="7.39" text-anchor="end" fill="#3a3a3a" font-weight="normal" stroke="#3a3a3a" stroke-width="0.06" textLength="7.34" lengthAdjust="spacingAndGlyphs">20</text>
<line x1="220.80" y1="294.80" x2="335.60" y2="294.80" stroke="#333" stroke-width="1.5"/>
<line x1="221.30" y1="294.80" x2="221.30" y2="297.80" stroke="#333" stroke-width="1.2"/>
<text x="224.30" y="304.20" font-size="7.25" text-anchor="end" fill="#3a3a3a" font-weight="normal" stroke="#3a3a3a" stroke-width="0.06" transform="rotate(-45 224.30 304.20)" textLength="22.41" lengthAdjust="spacingAndGlyphs">0.00001</text>
<line x1="237.20" y1="294.80" x2="237.20" y2="297.80" stroke="#333" stroke-width="1.2"/>
<text x="240.20" y="304.20" font-size="7.25" text-anchor="end" fill="#3a3a3a" font-weight="normal" stroke="#3a3a3a" stroke-width="0.06" transform="rotate(-45 240.20 304.20)" textLength="18.96" lengthAdjust="spacingAndGlyphs">0.0001</text>
<line x1="253.10" y1="294.80" x2="253.10" y2="297.80" stroke="#333" stroke-width="1.2"/>
<text x="256.10" y="304.20" font-size="7.25" text-anchor="end" fill="#3a3a3a" font-weight="normal" stroke="#3a3a3a" stroke-width="0.06" transform="rotate(-45 256.10 304.20)" textLength="15.52" lengthAdjust="spacingAndGlyphs">0.001</text>
<line x1="269.00" y1="294.80" x2="269.00" y2="297.80" stroke="#333" stroke-width="1.2"/>
<text x="272.00" y="304.20" font-size="7.25" text-anchor="end" fill="#3a3a3a" font-weight="normal" stroke="#3a3a3a" stroke-width="0.06" transform="rotate(-45 272.00 304.20)" textLength="12.07" lengthAdjust="spacingAndGlyphs">0.01</text>
<line x1="284.90" y1="294.80" x2="284.90" y2="297.80" stroke="#333" stroke-width="1.2"/>
<text x="287.90" y="304.20" font-size="7.25" text-anchor="end" fill="#3a3a3a" font-weight="normal" stroke="#3a3a3a" stroke-width="0.06" transform="rotate(-45 287.90 304.20)" textLength="8.62" lengthAdjust="spacingAndGlyphs">0.1</text>
<line x1="300.80" y1="294.80" x2="300.80" y2="297.80" stroke="#333" stroke-width="1.2"/>
<text x="303.80" y="304.20" font-size="7.25" text-anchor="end" fill="#3a3a3a" font-weight="normal" stroke="#3a3a3a" stroke-width="0.06" transform="rotate(-45 303.80 304.20)" textLength="3.45" lengthAdjust="spacingAndGlyphs">1</text>
<line x1="316.70" y1="294.80" x2="316.70" y2="297.80" stroke="#333" stroke-width="1.2"/>
<text x="319.70" y="304.20" font-size="7.25" text-anchor="end" fill="#3a3a3a" font-weight="normal" stroke="#3a3a3a" stroke-width="0.06" transform="rotate(-45 319.70 304.20)" textLength="6.9" lengthAdjust="spacingAndGlyphs">10</text>
<line x1="332.60" y1="294.80" x2="332.60" y2="297.80" stroke="#333" stroke-width="1.2"/>
<text x="335.60" y="304.20" font-size="7.25" text-anchor="end" fill="#3a3a3a" font-weight="normal" stroke="#3a3a3a" stroke-width="0.06" transform="rotate(-45 335.60 304.20)" textLength="10.34" lengthAdjust="spacingAndGlyphs">100</text>
<text x="202.20" y="256.10" font-size="8.8" text-anchor="middle" fill="#333" font-weight="normal" stroke="#333" stroke-width="0.13" transform="rotate(-90 202.20 256.10)" textLength="45.8" lengthAdjust="spacingAndGlyphs">% Specific lysis</text>
<text x="279.10" y="333.30" font-size="9.5" text-anchor="middle" fill="#333" font-weight="normal" stroke="#333" stroke-width="0.13" textLength="63.8" lengthAdjust="spacingAndGlyphs">[Concentration] (nM)</text>
<line x1="225.80" y1="221.20" x2="235.20" y2="221.20" stroke="#c9741f" stroke-width="0.9"/>
<circle cx="230.50" cy="221.20" r="1.7" fill="#c9741f"/>
<text x="238.20" y="223.58" font-size="6.6" text-anchor="start" fill="#2a2a2a" font-weight="normal" stroke="#2a2a2a" stroke-width="0.06">Af. Isotype mAb</text>
<line x1="225.80" y1="230.63" x2="235.20" y2="230.63" stroke="#f4b840" stroke-width="0.9"/>
<polygon points="230.50,228.59 232.37,231.99 228.63,231.99" fill="#f4b840"/>
<text x="238.20" y="233.01" font-size="6.6" text-anchor="start" fill="#2a2a2a" font-weight="normal" stroke="#2a2a2a" stroke-width="0.06">Af. Isotype-GRM</text>
<line x1="225.80" y1="240.06" x2="235.20" y2="240.06" stroke="#3cb1dd" stroke-width="0.9"/>
<rect x="228.80" y="238.36" width="3.40" height="3.40" fill="#3cb1dd"/>
<text x="238.20" y="242.44" font-size="6.6" text-anchor="start" fill="#2a2a2a" font-weight="normal" stroke="#2a2a2a" stroke-width="0.06">Af. CD19 mAb</text>
<line x1="225.80" y1="249.49" x2="235.20" y2="249.49" stroke="#3a9c52" stroke-width="0.9"/>
<circle cx="230.50" cy="249.49" r="1.7" fill="#3a9c52"/>
<text x="238.20" y="251.87" font-size="6.6" text-anchor="start" fill="#2a2a2a" font-weight="normal" stroke="#2a2a2a" stroke-width="0.06">ABBV-319</text>
<polyline points="221.30,277.87 222.67,277.85 224.04,277.82 225.41,277.80 226.79,277.77 228.16,277.74 229.53,277.70 230.90,277.66 232.27,277.62 233.64,277.57 235.01,277.51 236.39,277.45 237.76,277.38 239.13,277.30 240.50,277.21 241.87,277.10 243.24,276.99 244.61,276.86 245.98,276.72 247.36,276.56 248.73,276.38 250.10,276.18 251.47,275.96 252.84,275.72 254.21,275.44 255.58,275.13 256.96,274.80 258.33,274.42 259.70,274.00 261.07,273.55 262.44,273.04 263.81,272.49 265.18,271.88 266.56,271.22 267.93,270.51 269.30,269.73 270.67,268.89 272.04,267.99 273.41,267.03 274.78,266.01 276.16,264.93 277.53,263.80 278.90,262.61 280.27,261.38 281.64,260.10 283.01,258.80 284.38,257.47 285.75,256.13 287.13,254.78 288.50,253.44 289.87,252.11 291.24,250.81 292.61,249.53 293.98,248.30 295.35,247.11 296.73,245.97 298.10,244.88 299.47,243.86 300.84,242.89 302.21,241.99 303.58,241.15 304.95,240.37 306.33,239.64 307.70,238.98 309.07,238.37 310.44,237.81 311.81,237.31 313.18,236.84 314.55,236.43 315.92,236.05 317.30,235.71 318.67,235.40 320.04,235.12 321.41,234.87 322.78,234.65 324.15,234.45 325.52,234.27 326.90,234.11 328.27,233.96 329.64,233.84 331.01,233.72" fill="none" stroke="#3cb1dd" stroke-width="0.9" stroke-linejoin="round"/>
<polyline points="221.30,277.86 222.67,277.84 224.04,277.82 225.41,277.79 226.79,277.76 228.16,277.73 229.53,277.69 230.90,277.65 232.27,277.61 233.64,277.55 235.01,277.49 236.39,277.43 237.76,277.36 239.13,277.27 240.50,277.18 241.87,277.07 243.24,276.96 244.61,276.83 245.98,276.68 247.36,276.51 248.73,276.33 250.10,276.12 251.47,275.90 252.84,275.64 254.21,275.36 255.58,275.04 256.96,274.69 258.33,274.30 259.70,273.87 261.07,273.40 262.44,272.88 263.81,272.31 265.18,271.68 266.56,271.00 267.93,270.26 269.30,269.46 270.67,268.59 272.04,267.67 273.41,266.67 274.78,265.62 276.16,264.50 277.53,263.33 278.90,262.10 280.27,260.83 281.64,259.52 283.01,258.17 284.38,256.80 285.75,255.42 287.13,254.02 288.50,252.64 289.87,251.27 291.24,249.92 292.61,248.60 293.98,247.33 295.35,246.10 296.73,244.92 298.10,243.80 299.47,242.74 300.84,241.74 302.21,240.81 303.58,239.94 304.95,239.13 306.33,238.39 307.70,237.70 309.07,237.07 310.44,236.50 311.81,235.98 313.18,235.50 314.55,235.07 315.92,234.68 317.30,234.32 318.67,234.00 320.04,233.72 321.41,233.46 322.78,233.23 324.15,233.02 325.52,232.84 326.90,232.67 328.27,232.52 329.64,232.39 331.01,232.27" fill="none" stroke="#3a9c52" stroke-width="0.9" stroke-linejoin="round"/>
<line x1="221.50" y1="278.91" x2="331.80" y2="278.91" stroke="#f4b840" stroke-width="0.9"/>
<line x1="221.50" y1="278.32" x2="331.80" y2="278.32" stroke="#c9741f" stroke-width="0.9"/>
<polygon points="234.50,279.06 236.26,282.26 232.74,282.26" fill="#f4b840"/>
<polygon points="250.35,276.69 252.11,279.89 248.59,279.89" fill="#f4b840"/>
<polygon points="266.20,275.81 267.96,279.01 264.44,279.01" fill="#f4b840"/>
<line x1="282.05" y1="275.07" x2="282.05" y2="280.98" stroke="#f4b840" stroke-width="0.6"/>
<line x1="280.65" y1="275.07" x2="283.45" y2="275.07" stroke="#f4b840" stroke-width="0.6"/>
<line x1="280.65" y1="280.98" x2="283.45" y2="280.98" stroke="#f4b840" stroke-width="0.6"/>
<polygon points="282.05,276.10 283.81,279.30 280.29,279.30" fill="#f4b840"/>
<line x1="297.90" y1="275.36" x2="297.90" y2="280.09" stroke="#f4b840" stroke-width="0.6"/>
<line x1="296.50" y1="275.36" x2="299.30" y2="275.36" stroke="#f4b840" stroke-width="0.6"/>
<line x1="296.50" y1="280.09" x2="299.30" y2="280.09" stroke="#f4b840" stroke-width="0.6"/>
<polygon points="297.90,275.81 299.66,279.01 296.14,279.01" fill="#f4b840"/>
<line x1="313.75" y1="276.54" x2="313.75" y2="282.46" stroke="#f4b840" stroke-width="0.6"/>
<line x1="312.35" y1="276.54" x2="315.15" y2="276.54" stroke="#f4b840" stroke-width="0.6"/>
<line x1="312.35" y1="282.46" x2="315.15" y2="282.46" stroke="#f4b840" stroke-width="0.6"/>
<polygon points="313.75,277.58 315.51,280.78 311.99,280.78" fill="#f4b840"/>
<line x1="329.60" y1="280.68" x2="329.60" y2="285.41" stroke="#f4b840" stroke-width="0.6"/>
<line x1="328.20" y1="280.68" x2="331.00" y2="280.68" stroke="#f4b840" stroke-width="0.6"/>
<line x1="328.20" y1="285.41" x2="331.00" y2="285.41" stroke="#f4b840" stroke-width="0.6"/>
<polygon points="329.60,281.13 331.36,284.33 327.84,284.33" fill="#f4b840"/>
<circle cx="234.50" cy="280.98" r="1.9" fill="#c9741f"/>
<circle cx="250.35" cy="277.73" r="1.9" fill="#c9741f"/>
<circle cx="266.20" cy="276.84" r="1.9" fill="#c9741f"/>
<circle cx="282.05" cy="276.84" r="1.9" fill="#c9741f"/>
<circle cx="297.90" cy="276.25" r="1.9" fill="#c9741f"/>
<circle cx="313.75" cy="278.02" r="1.9" fill="#c9741f"/>
<circle cx="329.60" cy="282.16" r="1.9" fill="#c9741f"/>
<line x1="234.50" y1="271.52" x2="234.50" y2="277.43" stroke="#3cb1dd" stroke-width="0.6"/>
<line x1="233.10" y1="271.52" x2="235.90" y2="271.52" stroke="#3cb1dd" stroke-width="0.6"/>
<line x1="233.10" y1="277.43" x2="235.90" y2="277.43" stroke="#3cb1dd" stroke-width="0.6"/>
<rect x="232.80" y="272.77" width="3.40" height="3.40" fill="#3cb1dd"/>
<line x1="250.35" y1="267.97" x2="250.35" y2="275.07" stroke="#3cb1dd" stroke-width="0.6"/>
<line x1="248.95" y1="267.97" x2="251.75" y2="267.97" stroke="#3cb1dd" stroke-width="0.6"/>
<line x1="248.95" y1="275.07" x2="251.75" y2="275.07" stroke="#3cb1dd" stroke-width="0.6"/>
<rect x="248.65" y="269.82" width="3.40" height="3.40" fill="#3cb1dd"/>
<rect x="264.50" y="271.89" width="3.40" height="3.40" fill="#3cb1dd"/>
<line x1="282.05" y1="249.05" x2="282.05" y2="260.88" stroke="#3cb1dd" stroke-width="0.6"/>
<line x1="280.65" y1="249.05" x2="283.45" y2="249.05" stroke="#3cb1dd" stroke-width="0.6"/>
<line x1="280.65" y1="260.88" x2="283.45" y2="260.88" stroke="#3cb1dd" stroke-width="0.6"/>
<rect x="280.35" y="253.27" width="3.40" height="3.40" fill="#3cb1dd"/>
<line x1="297.90" y1="236.64" x2="297.90" y2="245.51" stroke="#3cb1dd" stroke-width="0.6"/>
<line x1="296.50" y1="236.64" x2="299.30" y2="236.64" stroke="#3cb1dd" stroke-width="0.6"/>
<line x1="296.50" y1="245.51" x2="299.30" y2="245.51" stroke="#3cb1dd" stroke-width="0.6"/>
<rect x="296.20" y="239.37" width="3.40" height="3.40" fill="#3cb1dd"/>
<line x1="313.75" y1="237.52" x2="313.75" y2="243.44" stroke="#3cb1dd" stroke-width="0.6"/>
<line x1="312.35" y1="237.52" x2="315.15" y2="237.52" stroke="#3cb1dd" stroke-width="0.6"/>
<line x1="312.35" y1="243.44" x2="315.15" y2="243.44" stroke="#3cb1dd" stroke-width="0.6"/>
<rect x="312.05" y="238.78" width="3.40" height="3.40" fill="#3cb1dd"/>
<line x1="329.60" y1="223.04" x2="329.60" y2="243.73" stroke="#3cb1dd" stroke-width="0.6"/>
<line x1="328.20" y1="223.04" x2="331.00" y2="223.04" stroke="#3cb1dd" stroke-width="0.6"/>
<line x1="328.20" y1="243.73" x2="331.00" y2="243.73" stroke="#3cb1dd" stroke-width="0.6"/>
<rect x="327.90" y="231.69" width="3.40" height="3.40" fill="#3cb1dd"/>
<circle cx="234.50" cy="275.95" r="2.2" fill="#3a9c52"/>
<circle cx="250.35" cy="273.00" r="2.2" fill="#3a9c52"/>
<circle cx="266.20" cy="273.00" r="2.2" fill="#3a9c52"/>
<circle cx="282.05" cy="258.81" r="2.2" fill="#3a9c52"/>
<line x1="297.90" y1="239.00" x2="297.90" y2="243.73" stroke="#3a9c52" stroke-width="0.6"/>
<line x1="296.50" y1="239.00" x2="299.30" y2="239.00" stroke="#3a9c52" stroke-width="0.6"/>
<line x1="296.50" y1="243.73" x2="299.30" y2="243.73" stroke="#3a9c52" stroke-width="0.6"/>
<circle cx="297.90" cy="241.37" r="2.2" fill="#3a9c52"/>
<line x1="313.75" y1="237.82" x2="313.75" y2="242.55" stroke="#3a9c52" stroke-width="0.6"/>
<line x1="312.35" y1="237.82" x2="315.15" y2="237.82" stroke="#3a9c52" stroke-width="0.6"/>
<line x1="312.35" y1="242.55" x2="315.15" y2="242.55" stroke="#3a9c52" stroke-width="0.6"/>
<circle cx="313.75" cy="240.19" r="2.2" fill="#3a9c52"/>
<line x1="329.60" y1="227.18" x2="329.60" y2="233.09" stroke="#3a9c52" stroke-width="0.6"/>
<line x1="328.20" y1="227.18" x2="331.00" y2="227.18" stroke="#3a9c52" stroke-width="0.6"/>
<line x1="328.20" y1="233.09" x2="331.00" y2="233.09" stroke="#3a9c52" stroke-width="0.6"/>
<circle cx="329.60" cy="230.13" r="2.2" fill="#3a9c52"/>
<text x="361.70" y="184.00" font-size="12" text-anchor="start" fill="#111" stroke="#111" stroke-width="0.35" font-weight="bold">F</text>
<text x="454.80" y="191.30" font-size="9" text-anchor="middle" fill="#2a2a2a" font-weight="normal" stroke="#2a2a2a" stroke-width="0.13" textLength="80.8" lengthAdjust="spacingAndGlyphs">KARPAS422 (DLBCL)</text>
<text x="454.80" y="201.90" font-size="9" text-anchor="middle" fill="#2a2a2a" font-weight="normal" stroke="#2a2a2a" stroke-width="0.13" textLength="78.8" lengthAdjust="spacingAndGlyphs">Donor 28937 PBMC</text>
<text x="454.50" y="211.90" font-size="9" text-anchor="middle" fill="#2a2a2a" font-weight="normal" stroke="#2a2a2a" stroke-width="0.13" textLength="54.4" lengthAdjust="spacingAndGlyphs">E:T = 20:1, 4h</text>
<line x1="397.50" y1="217.40" x2="397.50" y2="295.00" stroke="#333" stroke-width="1.5"/>
<line x1="394.50" y1="294.28" x2="397.50" y2="294.28" stroke="#333" stroke-width="1.2"/>
<text x="391.70" y="296.72" font-size="7.39" text-anchor="end" fill="#3a3a3a" font-weight="normal" stroke="#3a3a3a" stroke-width="0.06" textLength="5.87" lengthAdjust="spacingAndGlyphs">-5</text>
<line x1="394.50" y1="279.50" x2="397.50" y2="279.50" stroke="#333" stroke-width="1.2"/>
<text x="391.70" y="281.94" font-size="7.39" text-anchor="end" fill="#3a3a3a" font-weight="normal" stroke="#3a3a3a" stroke-width="0.06" textLength="3.67" lengthAdjust="spacingAndGlyphs">0</text>
<line x1="394.50" y1="264.72" x2="397.50" y2="264.72" stroke="#333" stroke-width="1.2"/>
<text x="391.70" y="267.16" font-size="7.39" text-anchor="end" fill="#3a3a3a" font-weight="normal" stroke="#3a3a3a" stroke-width="0.06" textLength="3.67" lengthAdjust="spacingAndGlyphs">5</text>
<line x1="394.50" y1="249.94" x2="397.50" y2="249.94" stroke="#333" stroke-width="1.2"/>
<text x="391.70" y="252.38" font-size="7.39" text-anchor="end" fill="#3a3a3a" font-weight="normal" stroke="#3a3a3a" stroke-width="0.06" textLength="7.34" lengthAdjust="spacingAndGlyphs">10</text>
<line x1="394.50" y1="235.16" x2="397.50" y2="235.16" stroke="#333" stroke-width="1.2"/>
<text x="391.70" y="237.60" font-size="7.39" text-anchor="end" fill="#3a3a3a" font-weight="normal" stroke="#3a3a3a" stroke-width="0.06" textLength="7.34" lengthAdjust="spacingAndGlyphs">15</text>
<line x1="394.50" y1="220.38" x2="397.50" y2="220.38" stroke="#333" stroke-width="1.2"/>
<text x="391.70" y="222.82" font-size="7.39" text-anchor="end" fill="#3a3a3a" font-weight="normal" stroke="#3a3a3a" stroke-width="0.06" textLength="7.34" lengthAdjust="spacingAndGlyphs">20</text>
<line x1="396.80" y1="295.00" x2="511.30" y2="295.00" stroke="#333" stroke-width="1.5"/>
<line x1="397.50" y1="295.00" x2="397.50" y2="298.00" stroke="#333" stroke-width="1.2"/>
<text x="400.50" y="304.40" font-size="7.25" text-anchor="end" fill="#3a3a3a" font-weight="normal" stroke="#3a3a3a" stroke-width="0.06" transform="rotate(-45 400.50 304.40)" textLength="22.41" lengthAdjust="spacingAndGlyphs">0.00001</text>
<line x1="413.22" y1="295.00" x2="413.22" y2="298.00" stroke="#333" stroke-width="1.2"/>
<text x="416.22" y="304.40" font-size="7.25" text-anchor="end" fill="#3a3a3a" font-weight="normal" stroke="#3a3a3a" stroke-width="0.06" transform="rotate(-45 416.22 304.40)" textLength="18.96" lengthAdjust="spacingAndGlyphs">0.0001</text>
<line x1="428.94" y1="295.00" x2="428.94" y2="298.00" stroke="#333" stroke-width="1.2"/>
<text x="431.94" y="304.40" font-size="7.25" text-anchor="end" fill="#3a3a3a" font-weight="normal" stroke="#3a3a3a" stroke-width="0.06" transform="rotate(-45 431.94 304.40)" textLength="15.52" lengthAdjust="spacingAndGlyphs">0.001</text>
<line x1="444.66" y1="295.00" x2="444.66" y2="298.00" stroke="#333" stroke-width="1.2"/>
<text x="447.66" y="304.40" font-size="7.25" text-anchor="end" fill="#3a3a3a" font-weight="normal" stroke="#3a3a3a" stroke-width="0.06" transform="rotate(-45 447.66 304.40)" textLength="12.07" lengthAdjust="spacingAndGlyphs">0.01</text>
<line x1="460.38" y1="295.00" x2="460.38" y2="298.00" stroke="#333" stroke-width="1.2"/>
<text x="463.38" y="304.40" font-size="7.25" text-anchor="end" fill="#3a3a3a" font-weight="normal" stroke="#3a3a3a" stroke-width="0.06" transform="rotate(-45 463.38 304.40)" textLength="8.62" lengthAdjust="spacingAndGlyphs">0.1</text>
<line x1="476.10" y1="295.00" x2="476.10" y2="298.00" stroke="#333" stroke-width="1.2"/>
<text x="479.10" y="304.40" font-size="7.25" text-anchor="end" fill="#3a3a3a" font-weight="normal" stroke="#3a3a3a" stroke-width="0.06" transform="rotate(-45 479.10 304.40)" textLength="3.45" lengthAdjust="spacingAndGlyphs">1</text>
<line x1="491.82" y1="295.00" x2="491.82" y2="298.00" stroke="#333" stroke-width="1.2"/>
<text x="494.82" y="304.40" font-size="7.25" text-anchor="end" fill="#3a3a3a" font-weight="normal" stroke="#3a3a3a" stroke-width="0.06" transform="rotate(-45 494.82 304.40)" textLength="6.9" lengthAdjust="spacingAndGlyphs">10</text>
<line x1="507.54" y1="295.00" x2="507.54" y2="298.00" stroke="#333" stroke-width="1.2"/>
<text x="510.54" y="304.40" font-size="7.25" text-anchor="end" fill="#3a3a3a" font-weight="normal" stroke="#3a3a3a" stroke-width="0.06" transform="rotate(-45 510.54 304.40)" textLength="10.34" lengthAdjust="spacingAndGlyphs">100</text>
<text x="378.30" y="255.90" font-size="8.8" text-anchor="middle" fill="#333" font-weight="normal" stroke="#333" stroke-width="0.13" transform="rotate(-90 378.30 255.90)" textLength="45.8" lengthAdjust="spacingAndGlyphs">% Specific lysis</text>
<text x="454.40" y="333.30" font-size="9.5" text-anchor="middle" fill="#333" font-weight="normal" stroke="#333" stroke-width="0.13" textLength="63.8" lengthAdjust="spacingAndGlyphs">[Concentration] (nM)</text>
<line x1="401.50" y1="221.20" x2="410.90" y2="221.20" stroke="#c9741f" stroke-width="0.9"/>
<circle cx="406.20" cy="221.20" r="1.7" fill="#c9741f"/>
<text x="413.90" y="223.58" font-size="6.6" text-anchor="start" fill="#2a2a2a" font-weight="normal" stroke="#2a2a2a" stroke-width="0.06">Af. Isotype mAb</text>
<line x1="401.50" y1="230.63" x2="410.90" y2="230.63" stroke="#f4b840" stroke-width="0.9"/>
<polygon points="406.20,228.59 408.07,231.99 404.33,231.99" fill="#f4b840"/>
<text x="413.90" y="233.01" font-size="6.6" text-anchor="start" fill="#2a2a2a" font-weight="normal" stroke="#2a2a2a" stroke-width="0.06">Af. Isotype-GRM</text>
<line x1="401.50" y1="240.06" x2="410.90" y2="240.06" stroke="#3cb1dd" stroke-width="0.9"/>
<rect x="404.50" y="238.36" width="3.40" height="3.40" fill="#3cb1dd"/>
<text x="413.90" y="242.44" font-size="6.6" text-anchor="start" fill="#2a2a2a" font-weight="normal" stroke="#2a2a2a" stroke-width="0.06">Af. CD19 mAb</text>
<line x1="401.50" y1="249.49" x2="410.90" y2="249.49" stroke="#3a9c52" stroke-width="0.9"/>
<circle cx="406.20" cy="249.49" r="1.7" fill="#3a9c52"/>
<text x="413.90" y="251.87" font-size="6.6" text-anchor="start" fill="#2a2a2a" font-weight="normal" stroke="#2a2a2a" stroke-width="0.06">ABBV-319</text>
<polyline points="397.50,278.00 398.86,278.00 400.21,277.99 401.57,277.99 402.92,277.98 404.28,277.98 405.64,277.97 406.99,277.96 408.35,277.95 409.70,277.93 411.06,277.92 412.41,277.90 413.77,277.88 415.13,277.86 416.48,277.83 417.84,277.80 419.19,277.76 420.55,277.71 421.91,277.66 423.26,277.60 424.62,277.53 425.97,277.44 427.33,277.35 428.68,277.23 430.04,277.10 431.40,276.94 432.75,276.77 434.11,276.56 435.46,276.32 436.82,276.04 438.18,275.72 439.53,275.35 440.89,274.93 442.24,274.45 443.60,273.91 444.95,273.29 446.31,272.60 447.67,271.82 449.02,270.96 450.38,270.01 451.73,268.98 453.09,267.86 454.45,266.65 455.80,265.38 457.16,264.04 458.51,262.65 459.87,261.22 461.22,259.78 462.58,258.34 463.94,256.92 465.29,255.53 466.65,254.20 468.00,252.93 469.36,251.73 470.72,250.61 472.07,249.59 473.43,248.65 474.78,247.79 476.14,247.03 477.50,246.34 478.85,245.73 480.21,245.19 481.56,244.71 482.92,244.30 484.27,243.94 485.63,243.62 486.99,243.35 488.34,243.11 489.70,242.90 491.05,242.73 492.41,242.57 493.77,242.44 495.12,242.33 496.48,242.23 497.83,242.15 499.19,242.08 500.54,242.02 501.90,241.97 503.26,241.92 504.61,241.89 505.97,241.85" fill="none" stroke="#3cb1dd" stroke-width="0.9" stroke-linejoin="round"/>
<polyline points="397.50,278.00 398.86,278.00 400.21,278.00 401.57,277.99 402.92,277.99 404.28,277.98 405.64,277.97 406.99,277.96 408.35,277.95 409.70,277.94 411.06,277.93 412.41,277.91 413.77,277.89 415.13,277.87 416.48,277.84 417.84,277.81 419.19,277.78 420.55,277.73 421.91,277.68 423.26,277.63 424.62,277.56 425.97,277.48 427.33,277.39 428.68,277.28 430.04,277.16 431.40,277.01 432.75,276.85 434.11,276.65 435.46,276.43 436.82,276.17 438.18,275.87 439.53,275.53 440.89,275.13 442.24,274.68 443.60,274.17 444.95,273.60 446.31,272.95 447.67,272.23 449.02,271.42 450.38,270.53 451.73,269.57 453.09,268.52 454.45,267.39 455.80,266.20 457.16,264.95 458.51,263.65 459.87,262.31 461.22,260.97 462.58,259.62 463.94,258.29 465.29,256.99 466.65,255.75 468.00,254.56 469.36,253.44 470.72,252.40 472.07,251.44 473.43,250.56 474.78,249.76 476.14,249.04 477.50,248.40 478.85,247.83 480.21,247.32 481.56,246.88 482.92,246.49 484.27,246.15 485.63,245.86 486.99,245.60 488.34,245.38 489.70,245.19 491.05,245.02 492.41,244.88 493.77,244.76 495.12,244.65 496.48,244.56 497.83,244.48 499.19,244.42 500.54,244.36 501.90,244.31 503.26,244.27 504.61,244.24 505.97,244.21" fill="none" stroke="#3a9c52" stroke-width="0.9" stroke-linejoin="round"/>
<line x1="397.50" y1="280.68" x2="411.50" y2="280.68" stroke="#f4b840" stroke-width="0.9"/>
<line x1="397.50" y1="278.32" x2="505.80" y2="278.32" stroke="#f4b840" stroke-width="0.9"/>
<line x1="397.50" y1="278.02" x2="505.80" y2="278.02" stroke="#c9741f" stroke-width="0.9"/>
<polygon points="410.50,279.06 412.26,282.26 408.74,282.26" fill="#f4b840"/>
<line x1="426.35" y1="274.18" x2="426.35" y2="278.91" stroke="#f4b840" stroke-width="0.6"/>
<line x1="424.95" y1="274.18" x2="427.75" y2="274.18" stroke="#f4b840" stroke-width="0.6"/>
<line x1="424.95" y1="278.91" x2="427.75" y2="278.91" stroke="#f4b840" stroke-width="0.6"/>
<polygon points="426.35,274.62 428.11,277.82 424.59,277.82" fill="#f4b840"/>
<polygon points="442.20,275.81 443.96,279.01 440.44,279.01" fill="#f4b840"/>
<line x1="458.05" y1="275.66" x2="458.05" y2="280.39" stroke="#f4b840" stroke-width="0.6"/>
<line x1="456.65" y1="275.66" x2="459.45" y2="275.66" stroke="#f4b840" stroke-width="0.6"/>
<line x1="456.65" y1="280.39" x2="459.45" y2="280.39" stroke="#f4b840" stroke-width="0.6"/>
<polygon points="458.05,276.10 459.81,279.30 456.29,279.30" fill="#f4b840"/>
<polygon points="473.90,276.40 475.66,279.60 472.14,279.60" fill="#f4b840"/>
<polygon points="489.75,277.58 491.51,280.78 487.99,280.78" fill="#f4b840"/>
<line x1="505.60" y1="275.66" x2="505.60" y2="280.39" stroke="#f4b840" stroke-width="0.6"/>
<line x1="504.20" y1="275.66" x2="507.00" y2="275.66" stroke="#f4b840" stroke-width="0.6"/>
<line x1="504.20" y1="280.39" x2="507.00" y2="280.39" stroke="#f4b840" stroke-width="0.6"/>
<polygon points="505.60,276.10 507.36,279.30 503.84,279.30" fill="#f4b840"/>
<circle cx="410.50" cy="280.98" r="1.9" fill="#c9741f"/>
<circle cx="426.35" cy="277.14" r="1.9" fill="#c9741f"/>
<circle cx="442.20" cy="278.02" r="1.9" fill="#c9741f"/>
<circle cx="458.05" cy="278.02" r="1.9" fill="#c9741f"/>
<circle cx="473.90" cy="278.32" r="1.9" fill="#c9741f"/>
<circle cx="489.75" cy="280.39" r="1.9" fill="#c9741f"/>
<circle cx="505.60" cy="278.02" r="1.9" fill="#c9741f"/>
<rect x="408.80" y="276.03" width="3.40" height="3.40" fill="#3cb1dd"/>
<rect x="424.65" y="274.84" width="3.40" height="3.40" fill="#3cb1dd"/>
<rect x="440.50" y="272.48" width="3.40" height="3.40" fill="#3cb1dd"/>
<line x1="458.05" y1="260.88" x2="458.05" y2="265.61" stroke="#3cb1dd" stroke-width="0.6"/>
<line x1="456.65" y1="260.88" x2="459.45" y2="260.88" stroke="#3cb1dd" stroke-width="0.6"/>
<line x1="456.65" y1="265.61" x2="459.45" y2="265.61" stroke="#3cb1dd" stroke-width="0.6"/>
<rect x="456.35" y="261.54" width="3.40" height="3.40" fill="#3cb1dd"/>
<line x1="473.90" y1="245.21" x2="473.90" y2="249.94" stroke="#3cb1dd" stroke-width="0.6"/>
<line x1="472.50" y1="245.21" x2="475.30" y2="245.21" stroke="#3cb1dd" stroke-width="0.6"/>
<line x1="472.50" y1="249.94" x2="475.30" y2="249.94" stroke="#3cb1dd" stroke-width="0.6"/>
<rect x="472.20" y="245.88" width="3.40" height="3.40" fill="#3cb1dd"/>
<line x1="489.75" y1="243.44" x2="489.75" y2="249.35" stroke="#3cb1dd" stroke-width="0.6"/>
<line x1="488.35" y1="243.44" x2="491.15" y2="243.44" stroke="#3cb1dd" stroke-width="0.6"/>
<line x1="488.35" y1="249.35" x2="491.15" y2="249.35" stroke="#3cb1dd" stroke-width="0.6"/>
<rect x="488.05" y="244.69" width="3.40" height="3.40" fill="#3cb1dd"/>
<line x1="505.60" y1="234.86" x2="505.60" y2="243.73" stroke="#3cb1dd" stroke-width="0.6"/>
<line x1="504.20" y1="234.86" x2="507.00" y2="234.86" stroke="#3cb1dd" stroke-width="0.6"/>
<line x1="504.20" y1="243.73" x2="507.00" y2="243.73" stroke="#3cb1dd" stroke-width="0.6"/>
<rect x="503.90" y="237.60" width="3.40" height="3.40" fill="#3cb1dd"/>
<circle cx="410.50" cy="278.02" r="2.2" fill="#3a9c52"/>
<line x1="426.35" y1="274.18" x2="426.35" y2="278.91" stroke="#3a9c52" stroke-width="0.6"/>
<line x1="424.95" y1="274.18" x2="427.75" y2="274.18" stroke="#3a9c52" stroke-width="0.6"/>
<line x1="424.95" y1="278.91" x2="427.75" y2="278.91" stroke="#3a9c52" stroke-width="0.6"/>
<circle cx="426.35" cy="276.54" r="2.2" fill="#3a9c52"/>
<circle cx="442.20" cy="274.47" r="2.2" fill="#3a9c52"/>
<line x1="458.05" y1="262.36" x2="458.05" y2="265.90" stroke="#3a9c52" stroke-width="0.6"/>
<line x1="456.65" y1="262.36" x2="459.45" y2="262.36" stroke="#3a9c52" stroke-width="0.6"/>
<line x1="456.65" y1="265.90" x2="459.45" y2="265.90" stroke="#3a9c52" stroke-width="0.6"/>
<circle cx="458.05" cy="264.13" r="2.2" fill="#3a9c52"/>
<line x1="473.90" y1="249.35" x2="473.90" y2="252.90" stroke="#3a9c52" stroke-width="0.6"/>
<line x1="472.50" y1="249.35" x2="475.30" y2="249.35" stroke="#3a9c52" stroke-width="0.6"/>
<line x1="472.50" y1="252.90" x2="475.30" y2="252.90" stroke="#3a9c52" stroke-width="0.6"/>
<circle cx="473.90" cy="251.12" r="2.2" fill="#3a9c52"/>
<line x1="489.75" y1="246.98" x2="489.75" y2="251.71" stroke="#3a9c52" stroke-width="0.6"/>
<line x1="488.35" y1="246.98" x2="491.15" y2="246.98" stroke="#3a9c52" stroke-width="0.6"/>
<line x1="488.35" y1="251.71" x2="491.15" y2="251.71" stroke="#3a9c52" stroke-width="0.6"/>
<circle cx="489.75" cy="249.35" r="2.2" fill="#3a9c52"/>
<line x1="505.60" y1="239.89" x2="505.60" y2="245.80" stroke="#3a9c52" stroke-width="0.6"/>
<line x1="504.20" y1="239.89" x2="507.00" y2="239.89" stroke="#3a9c52" stroke-width="0.6"/>
<line x1="504.20" y1="245.80" x2="507.00" y2="245.80" stroke="#3a9c52" stroke-width="0.6"/>
<circle cx="505.60" cy="242.85" r="2.2" fill="#3a9c52"/>
<text x="7.10" y="351.30" font-size="12" text-anchor="start" fill="#111" stroke="#111" stroke-width="0.35" font-weight="bold">G</text>
<text x="147.10" y="359.00" font-size="9.2" text-anchor="middle" fill="#2a2a2a" font-weight="normal" stroke="#2a2a2a" stroke-width="0.13" textLength="36.8" lengthAdjust="spacingAndGlyphs">OCI-LY19</text>
<text x="182.00" y="369.00" font-size="9.2" text-anchor="middle" fill="#2a2a2a" font-weight="normal" stroke="#2a2a2a" stroke-width="0.13" textLength="45" lengthAdjust="spacingAndGlyphs">5 mg/kg, SD</text>
<line x1="56.25" y1="363.30" x2="56.25" y2="466.00" stroke="#333" stroke-width="1.5"/>
<line x1="53.25" y1="465.60" x2="56.25" y2="465.60" stroke="#333" stroke-width="1.2"/>
<text x="50.60" y="467.93" font-size="7.06" text-anchor="end" fill="#3a3a3a" font-weight="normal" stroke="#3a3a3a" stroke-width="0.06" textLength="3.5" lengthAdjust="spacingAndGlyphs">0</text>
<line x1="53.25" y1="451.42" x2="56.25" y2="451.42" stroke="#333" stroke-width="1.2"/>
<text x="50.60" y="453.75" font-size="7.06" text-anchor="end" fill="#3a3a3a" font-weight="normal" stroke="#3a3a3a" stroke-width="0.06" textLength="10.51" lengthAdjust="spacingAndGlyphs">500</text>
<line x1="53.25" y1="437.23" x2="56.25" y2="437.23" stroke="#333" stroke-width="1.2"/>
<text x="50.60" y="439.56" font-size="7.06" text-anchor="end" fill="#3a3a3a" font-weight="normal" stroke="#3a3a3a" stroke-width="0.06" textLength="14.02" lengthAdjust="spacingAndGlyphs">1000</text>
<line x1="53.25" y1="423.05" x2="56.25" y2="423.05" stroke="#333" stroke-width="1.2"/>
<text x="50.60" y="425.38" font-size="7.06" text-anchor="end" fill="#3a3a3a" font-weight="normal" stroke="#3a3a3a" stroke-width="0.06" textLength="14.02" lengthAdjust="spacingAndGlyphs">1500</text>
<line x1="53.25" y1="408.86" x2="56.25" y2="408.86" stroke="#333" stroke-width="1.2"/>
<text x="50.60" y="411.19" font-size="7.06" text-anchor="end" fill="#3a3a3a" font-weight="normal" stroke="#3a3a3a" stroke-width="0.06" textLength="14.02" lengthAdjust="spacingAndGlyphs">2000</text>
<line x1="53.25" y1="394.68" x2="56.25" y2="394.68" stroke="#333" stroke-width="1.2"/>
<text x="50.60" y="397.01" font-size="7.06" text-anchor="end" fill="#3a3a3a" font-weight="normal" stroke="#3a3a3a" stroke-width="0.06" textLength="14.02" lengthAdjust="spacingAndGlyphs">2500</text>
<line x1="53.25" y1="380.49" x2="56.25" y2="380.49" stroke="#333" stroke-width="1.2"/>
<text x="50.60" y="382.82" font-size="7.06" text-anchor="end" fill="#3a3a3a" font-weight="normal" stroke="#3a3a3a" stroke-width="0.06" textLength="14.02" lengthAdjust="spacingAndGlyphs">3000</text>
<line x1="53.25" y1="366.31" x2="56.25" y2="366.31" stroke="#333" stroke-width="1.2"/>
<text x="50.60" y="368.64" font-size="7.06" text-anchor="end" fill="#3a3a3a" font-weight="normal" stroke="#3a3a3a" stroke-width="0.06" textLength="14.02" lengthAdjust="spacingAndGlyphs">3500</text>
<line x1="55.55" y1="465.90" x2="236.90" y2="465.90" stroke="#333" stroke-width="1.5"/>
<line x1="56.25" y1="465.90" x2="56.25" y2="468.90" stroke="#333" stroke-width="1.2"/>
<text x="56.25" y="477.70" font-size="7.39" text-anchor="middle" fill="#3a3a3a" font-weight="normal" stroke="#3a3a3a" stroke-width="0.06" textLength="3.67" lengthAdjust="spacingAndGlyphs">0</text>
<line x1="85.97" y1="465.90" x2="85.97" y2="468.90" stroke="#333" stroke-width="1.2"/>
<text x="85.97" y="477.70" font-size="7.39" text-anchor="middle" fill="#3a3a3a" font-weight="normal" stroke="#3a3a3a" stroke-width="0.06" textLength="7.34" lengthAdjust="spacingAndGlyphs">10</text>
<line x1="115.70" y1="465.90" x2="115.70" y2="468.90" stroke="#333" stroke-width="1.2"/>
<text x="115.70" y="477.70" font-size="7.39" text-anchor="middle" fill="#3a3a3a" font-weight="normal" stroke="#3a3a3a" stroke-width="0.06" textLength="7.34" lengthAdjust="spacingAndGlyphs">20</text>
<line x1="145.43" y1="465.90" x2="145.43" y2="468.90" stroke="#333" stroke-width="1.2"/>
<text x="145.43" y="477.70" font-size="7.39" text-anchor="middle" fill="#3a3a3a" font-weight="normal" stroke="#3a3a3a" stroke-width="0.06" textLength="7.34" lengthAdjust="spacingAndGlyphs">30</text>
<line x1="175.15" y1="465.90" x2="175.15" y2="468.90" stroke="#333" stroke-width="1.2"/>
<text x="175.15" y="477.70" font-size="7.39" text-anchor="middle" fill="#3a3a3a" font-weight="normal" stroke="#3a3a3a" stroke-width="0.06" textLength="7.34" lengthAdjust="spacingAndGlyphs">40</text>
<line x1="204.88" y1="465.90" x2="204.88" y2="468.90" stroke="#333" stroke-width="1.2"/>
<text x="204.88" y="477.70" font-size="7.39" text-anchor="middle" fill="#3a3a3a" font-weight="normal" stroke="#3a3a3a" stroke-width="0.06" textLength="7.34" lengthAdjust="spacingAndGlyphs">50</text>
<line x1="234.60" y1="465.90" x2="234.60" y2="468.90" stroke="#333" stroke-width="1.2"/>
<text x="234.60" y="477.70" font-size="7.39" text-anchor="middle" fill="#3a3a3a" font-weight="normal" stroke="#3a3a3a" stroke-width="0.06" textLength="7.34" lengthAdjust="spacingAndGlyphs">60</text>
<text x="30.60" y="414.50" font-size="8.5" text-anchor="middle" fill="#333" stroke="#333" stroke-width="0.15" transform="rotate(-90 30.60 414.50)" textLength="66" lengthAdjust="spacingAndGlyphs">Tumor volume (mm<tspan font-size="5.27" dy="-3">3</tspan><tspan dy="3">)</tspan></text>
<text x="146.90" y="489.90" font-size="9.5" text-anchor="middle" fill="#333" font-weight="normal" stroke="#333" stroke-width="0.13" textLength="76.4" lengthAdjust="spacingAndGlyphs">Days from randomization</text>
<line x1="132.70" y1="378.30" x2="142.70" y2="378.30" stroke="#1d3e70" stroke-width="0.9"/>
<polygon points="137.70,376.02 139.79,379.82 135.61,379.82" fill="#1d3e70"/>
<text x="145.40" y="380.60" font-size="6.3" text-anchor="start" fill="#2a2a2a" font-weight="normal" stroke="#2a2a2a" stroke-width="0.06">Vehicle</text>
<line x1="132.70" y1="387.10" x2="142.70" y2="387.10" stroke="#3aaa44" stroke-width="0.9"/>
<polygon points="137.70,384.82 139.79,388.62 135.61,388.62" fill="#3aaa44"/>
<text x="145.40" y="389.40" font-size="6.3" text-anchor="start" fill="#2a2a2a" font-weight="normal" stroke="#2a2a2a" stroke-width="0.06">ABBV-319</text>
<line x1="132.70" y1="398.60" x2="142.70" y2="398.60" stroke="#1d3e70" stroke-width="0.9"/>
<circle cx="137.70" cy="398.60" r="1.9" fill="#1d3e70"/>
<text x="145.40" y="400.90" font-size="6.3" text-anchor="start" fill="#2a2a2a" font-weight="normal" stroke="#2a2a2a" stroke-width="0.06">Vehicle</text>
<line x1="132.70" y1="407.00" x2="142.70" y2="407.00" stroke="#3aaa44" stroke-width="0.9"/>
<circle cx="137.70" cy="407.00" r="1.9" fill="#3aaa44"/>
<text x="145.40" y="409.30" font-size="6.3" text-anchor="start" fill="#2a2a2a" font-weight="normal" stroke="#2a2a2a" stroke-width="0.06">ABBV-319</text>
<line x1="178.10" y1="375.00" x2="178.10" y2="389.00" stroke="#333" stroke-width="1.3"/>
<line x1="178.10" y1="396.00" x2="178.10" y2="410.40" stroke="#333" stroke-width="1.3"/>
<text x="181.40" y="378.10" font-size="6.4" text-anchor="start" fill="#2a2a2a" font-weight="normal" stroke="#2a2a2a" stroke-width="0.06" textLength="32.5" lengthAdjust="spacingAndGlyphs">CB17 SCID</text>
<text x="181.40" y="384.70" font-size="6.4" text-anchor="start" fill="#2a2a2a" font-weight="normal" stroke="#2a2a2a" stroke-width="0.06" textLength="53.6" lengthAdjust="spacingAndGlyphs">ΔTGI max = 103%</text>
<text x="181.40" y="390.90" font-size="6.4" text-anchor="start" fill="#2a2a2a" font-weight="normal" stroke="#2a2a2a" stroke-width="0.06" textLength="37.6" lengthAdjust="spacingAndGlyphs">TGD = 255%</text>
<text x="181.40" y="399.10" font-size="6.4" text-anchor="start" fill="#2a2a2a" font-weight="normal" stroke="#2a2a2a" stroke-width="0.06" textLength="47.6" lengthAdjust="spacingAndGlyphs">NSG-tg(hu-IL15)</text>
<text x="181.40" y="405.30" font-size="6.4" text-anchor="start" fill="#2a2a2a" font-weight="normal" stroke="#2a2a2a" stroke-width="0.06" textLength="53.6" lengthAdjust="spacingAndGlyphs">ΔTGI max = 137%</text>
<text x="181.40" y="411.90" font-size="6.4" text-anchor="start" fill="#2a2a2a" font-weight="normal" stroke="#2a2a2a" stroke-width="0.06" textLength="38.6" lengthAdjust="spacingAndGlyphs">TGD &gt; 350%</text>
<polyline points="56.25,462.76 71.11,465.03 80.03,465.32 91.92,465.46 100.84,465.46 112.73,465.46 121.65,465.46 133.53,465.46 142.45,465.46 154.34,465.46 160.29,465.46 175.15,465.03 195.96,459.30 216.77,440.69" fill="none" stroke="#3aaa44" stroke-width="0.8" stroke-linejoin="round"/>
<circle cx="56.25" cy="462.76" r="2.1" fill="#3aaa44"/>
<circle cx="71.11" cy="465.03" r="2.1" fill="#3aaa44"/>
<circle cx="80.03" cy="465.32" r="2.1" fill="#3aaa44"/>
<circle cx="91.92" cy="465.46" r="2.1" fill="#3aaa44"/>
<circle cx="100.84" cy="465.46" r="2.1" fill="#3aaa44"/>
<circle cx="112.73" cy="465.46" r="2.1" fill="#3aaa44"/>
<circle cx="121.65" cy="465.46" r="2.1" fill="#3aaa44"/>
<circle cx="133.53" cy="465.46" r="2.1" fill="#3aaa44"/>
<circle cx="142.45" cy="465.46" r="2.1" fill="#3aaa44"/>
<circle cx="154.34" cy="465.46" r="2.1" fill="#3aaa44"/>
<circle cx="160.29" cy="465.46" r="2.1" fill="#3aaa44"/>
<circle cx="175.15" cy="465.03" r="2.1" fill="#3aaa44"/>
<line x1="195.96" y1="452.78" x2="195.96" y2="465.60" stroke="#3aaa44" stroke-width="0.6"/>
<line x1="194.66" y1="452.78" x2="197.26" y2="452.78" stroke="#3aaa44" stroke-width="0.6"/>
<line x1="194.66" y1="465.60" x2="197.26" y2="465.60" stroke="#3aaa44" stroke-width="0.6"/>
<circle cx="195.96" cy="459.30" r="2.1" fill="#3aaa44"/>
<line x1="216.77" y1="415.73" x2="216.77" y2="465.60" stroke="#3aaa44" stroke-width="0.6"/>
<line x1="215.47" y1="415.73" x2="218.07" y2="415.73" stroke="#3aaa44" stroke-width="0.6"/>
<line x1="215.47" y1="465.60" x2="218.07" y2="465.60" stroke="#3aaa44" stroke-width="0.6"/>
<circle cx="216.77" cy="440.69" r="2.1" fill="#3aaa44"/>
<polyline points="56.25,462.76 65.76,463.90 76.46,464.18 85.38,462.00 97.57,461.06 118.08,460.10 127.00,458.08 138.89,454.71 148.40,450.90 160.29,440.69 172.18,434.99" fill="none" stroke="#3aaa44" stroke-width="0.8" stroke-linejoin="round"/>
<polygon points="56.25,460.36 58.45,464.36 54.05,464.36" fill="#3aaa44"/>
<polygon points="65.76,461.50 67.96,465.50 63.56,465.50" fill="#3aaa44"/>
<polygon points="76.46,461.78 78.66,465.78 74.26,465.78" fill="#3aaa44"/>
<polygon points="85.38,459.60 87.58,463.60 83.18,463.60" fill="#3aaa44"/>
<polygon points="97.57,458.66 99.77,462.66 95.37,462.66" fill="#3aaa44"/>
<polygon points="118.08,457.70 120.28,461.70 115.88,461.70" fill="#3aaa44"/>
<polygon points="127.00,455.68 129.20,459.68 124.80,459.68" fill="#3aaa44"/>
<polygon points="138.89,452.31 141.09,456.31 136.69,456.31" fill="#3aaa44"/>
<line x1="148.40" y1="448.07" x2="148.40" y2="453.74" stroke="#3aaa44" stroke-width="0.6"/>
<line x1="147.10" y1="448.07" x2="149.70" y2="448.07" stroke="#3aaa44" stroke-width="0.6"/>
<line x1="147.10" y1="453.74" x2="149.70" y2="453.74" stroke="#3aaa44" stroke-width="0.6"/>
<polygon points="148.40,448.50 150.60,452.50 146.20,452.50" fill="#3aaa44"/>
<line x1="160.29" y1="435.87" x2="160.29" y2="445.51" stroke="#3aaa44" stroke-width="0.6"/>
<line x1="158.99" y1="435.87" x2="161.59" y2="435.87" stroke="#3aaa44" stroke-width="0.6"/>
<line x1="158.99" y1="445.51" x2="161.59" y2="445.51" stroke="#3aaa44" stroke-width="0.6"/>
<polygon points="160.29,438.29 162.49,442.29 158.09,442.29" fill="#3aaa44"/>
<line x1="172.18" y1="431.30" x2="172.18" y2="438.68" stroke="#3aaa44" stroke-width="0.6"/>
<line x1="170.88" y1="431.30" x2="173.48" y2="431.30" stroke="#3aaa44" stroke-width="0.6"/>
<line x1="170.88" y1="438.68" x2="173.48" y2="438.68" stroke="#3aaa44" stroke-width="0.6"/>
<polygon points="172.18,432.59 174.38,436.59 169.98,436.59" fill="#3aaa44"/>
<polyline points="56.25,462.76 68.14,455.30 77.06,441.40 88.95,429.29" fill="none" stroke="#1d3e70" stroke-width="0.8" stroke-linejoin="round"/>
<polygon points="56.25,460.36 58.45,464.36 54.05,464.36" fill="#1d3e70"/>
<line x1="68.14" y1="453.03" x2="68.14" y2="457.57" stroke="#1d3e70" stroke-width="0.6"/>
<line x1="66.84" y1="453.03" x2="69.44" y2="453.03" stroke="#1d3e70" stroke-width="0.6"/>
<line x1="66.84" y1="457.57" x2="69.44" y2="457.57" stroke="#1d3e70" stroke-width="0.6"/>
<polygon points="68.14,452.90 70.34,456.90 65.94,456.90" fill="#1d3e70"/>
<line x1="77.06" y1="437.14" x2="77.06" y2="445.66" stroke="#1d3e70" stroke-width="0.6"/>
<line x1="75.76" y1="437.14" x2="78.36" y2="437.14" stroke="#1d3e70" stroke-width="0.6"/>
<line x1="75.76" y1="445.66" x2="78.36" y2="445.66" stroke="#1d3e70" stroke-width="0.6"/>
<polygon points="77.06,439.00 79.26,443.00 74.86,443.00" fill="#1d3e70"/>
<line x1="88.95" y1="426.73" x2="88.95" y2="431.84" stroke="#1d3e70" stroke-width="0.6"/>
<line x1="87.65" y1="426.73" x2="90.25" y2="426.73" stroke="#1d3e70" stroke-width="0.6"/>
<line x1="87.65" y1="431.84" x2="90.25" y2="431.84" stroke="#1d3e70" stroke-width="0.6"/>
<polygon points="88.95,426.89 91.15,430.89 86.75,430.89" fill="#1d3e70"/>
<polyline points="56.25,462.76 71.11,462.00 80.03,454.90 91.92,445.09 100.84,428.80 112.73,405.29 121.65,375.87" fill="none" stroke="#1d3e70" stroke-width="0.8" stroke-linejoin="round"/>
<circle cx="56.25" cy="462.76" r="2.3" fill="#1d3e70"/>
<line x1="71.11" y1="460.86" x2="71.11" y2="463.13" stroke="#1d3e70" stroke-width="0.6"/>
<line x1="69.81" y1="460.86" x2="72.41" y2="460.86" stroke="#1d3e70" stroke-width="0.6"/>
<line x1="69.81" y1="463.13" x2="72.41" y2="463.13" stroke="#1d3e70" stroke-width="0.6"/>
<circle cx="71.11" cy="462.00" r="2.3" fill="#1d3e70"/>
<line x1="80.03" y1="452.07" x2="80.03" y2="457.74" stroke="#1d3e70" stroke-width="0.6"/>
<line x1="78.73" y1="452.07" x2="81.33" y2="452.07" stroke="#1d3e70" stroke-width="0.6"/>
<line x1="78.73" y1="457.74" x2="81.33" y2="457.74" stroke="#1d3e70" stroke-width="0.6"/>
<circle cx="80.03" cy="454.90" r="2.3" fill="#1d3e70"/>
<line x1="91.92" y1="440.83" x2="91.92" y2="449.34" stroke="#1d3e70" stroke-width="0.6"/>
<line x1="90.62" y1="440.83" x2="93.22" y2="440.83" stroke="#1d3e70" stroke-width="0.6"/>
<line x1="90.62" y1="449.34" x2="93.22" y2="449.34" stroke="#1d3e70" stroke-width="0.6"/>
<circle cx="91.92" cy="445.09" r="2.3" fill="#1d3e70"/>
<line x1="100.84" y1="424.55" x2="100.84" y2="433.06" stroke="#1d3e70" stroke-width="0.6"/>
<line x1="99.54" y1="424.55" x2="102.14" y2="424.55" stroke="#1d3e70" stroke-width="0.6"/>
<line x1="99.54" y1="433.06" x2="102.14" y2="433.06" stroke="#1d3e70" stroke-width="0.6"/>
<circle cx="100.84" cy="428.80" r="2.3" fill="#1d3e70"/>
<line x1="112.73" y1="401.03" x2="112.73" y2="409.54" stroke="#1d3e70" stroke-width="0.6"/>
<line x1="111.43" y1="401.03" x2="114.03" y2="401.03" stroke="#1d3e70" stroke-width="0.6"/>
<line x1="111.43" y1="409.54" x2="114.03" y2="409.54" stroke="#1d3e70" stroke-width="0.6"/>
<circle cx="112.73" cy="405.29" r="2.3" fill="#1d3e70"/>
<line x1="121.65" y1="370.76" x2="121.65" y2="380.97" stroke="#1d3e70" stroke-width="0.6"/>
<line x1="120.35" y1="370.76" x2="122.95" y2="370.76" stroke="#1d3e70" stroke-width="0.6"/>
<line x1="120.35" y1="380.97" x2="122.95" y2="380.97" stroke="#1d3e70" stroke-width="0.6"/>
<circle cx="121.65" cy="375.87" r="2.3" fill="#1d3e70"/>
<text x="282.80" y="351.30" font-size="12" text-anchor="start" fill="#111" stroke="#111" stroke-width="0.35" font-weight="bold">H</text>
<text x="422.00" y="358.80" font-size="9.2" text-anchor="middle" fill="#2a2a2a" font-weight="normal" stroke="#2a2a2a" stroke-width="0.13" textLength="36.9" lengthAdjust="spacingAndGlyphs">OCI-LY19</text>
<line x1="331.65" y1="363.00" x2="331.65" y2="466.10" stroke="#333" stroke-width="1.5"/>
<line x1="328.65" y1="465.50" x2="331.65" y2="465.50" stroke="#333" stroke-width="1.2"/>
<text x="326.00" y="467.83" font-size="7.06" text-anchor="end" fill="#3a3a3a" font-weight="normal" stroke="#3a3a3a" stroke-width="0.06" textLength="3.5" lengthAdjust="spacingAndGlyphs">0</text>
<line x1="328.65" y1="451.27" x2="331.65" y2="451.27" stroke="#333" stroke-width="1.2"/>
<text x="326.00" y="453.61" font-size="7.06" text-anchor="end" fill="#3a3a3a" font-weight="normal" stroke="#3a3a3a" stroke-width="0.06" textLength="10.51" lengthAdjust="spacingAndGlyphs">500</text>
<line x1="328.65" y1="437.05" x2="331.65" y2="437.05" stroke="#333" stroke-width="1.2"/>
<text x="326.00" y="439.38" font-size="7.06" text-anchor="end" fill="#3a3a3a" font-weight="normal" stroke="#3a3a3a" stroke-width="0.06" textLength="14.02" lengthAdjust="spacingAndGlyphs">1000</text>
<line x1="328.65" y1="422.82" x2="331.65" y2="422.82" stroke="#333" stroke-width="1.2"/>
<text x="326.00" y="425.16" font-size="7.06" text-anchor="end" fill="#3a3a3a" font-weight="normal" stroke="#3a3a3a" stroke-width="0.06" textLength="14.02" lengthAdjust="spacingAndGlyphs">1500</text>
<line x1="328.65" y1="408.60" x2="331.65" y2="408.60" stroke="#333" stroke-width="1.2"/>
<text x="326.00" y="410.93" font-size="7.06" text-anchor="end" fill="#3a3a3a" font-weight="normal" stroke="#3a3a3a" stroke-width="0.06" textLength="14.02" lengthAdjust="spacingAndGlyphs">2000</text>
<line x1="328.65" y1="394.38" x2="331.65" y2="394.38" stroke="#333" stroke-width="1.2"/>
<text x="326.00" y="396.71" font-size="7.06" text-anchor="end" fill="#3a3a3a" font-weight="normal" stroke="#3a3a3a" stroke-width="0.06" textLength="14.02" lengthAdjust="spacingAndGlyphs">2500</text>
<line x1="328.65" y1="380.15" x2="331.65" y2="380.15" stroke="#333" stroke-width="1.2"/>
<text x="326.00" y="382.48" font-size="7.06" text-anchor="end" fill="#3a3a3a" font-weight="normal" stroke="#3a3a3a" stroke-width="0.06" textLength="14.02" lengthAdjust="spacingAndGlyphs">3000</text>
<line x1="328.65" y1="365.93" x2="331.65" y2="365.93" stroke="#333" stroke-width="1.2"/>
<text x="326.00" y="368.26" font-size="7.06" text-anchor="end" fill="#3a3a3a" font-weight="normal" stroke="#3a3a3a" stroke-width="0.06" textLength="14.02" lengthAdjust="spacingAndGlyphs">3500</text>
<line x1="330.95" y1="466.00" x2="512.40" y2="466.00" stroke="#333" stroke-width="1.5"/>
<line x1="331.75" y1="466.00" x2="331.75" y2="469.00" stroke="#333" stroke-width="1.2"/>
<text x="331.75" y="477.80" font-size="7.39" text-anchor="middle" fill="#3a3a3a" font-weight="normal" stroke="#3a3a3a" stroke-width="0.06" textLength="3.67" lengthAdjust="spacingAndGlyphs">0</text>
<line x1="361.40" y1="466.00" x2="361.40" y2="469.00" stroke="#333" stroke-width="1.2"/>
<text x="361.40" y="477.80" font-size="7.39" text-anchor="middle" fill="#3a3a3a" font-weight="normal" stroke="#3a3a3a" stroke-width="0.06" textLength="7.34" lengthAdjust="spacingAndGlyphs">10</text>
<line x1="391.05" y1="466.00" x2="391.05" y2="469.00" stroke="#333" stroke-width="1.2"/>
<text x="391.05" y="477.80" font-size="7.39" text-anchor="middle" fill="#3a3a3a" font-weight="normal" stroke="#3a3a3a" stroke-width="0.06" textLength="7.34" lengthAdjust="spacingAndGlyphs">20</text>
<line x1="420.70" y1="466.00" x2="420.70" y2="469.00" stroke="#333" stroke-width="1.2"/>
<text x="420.70" y="477.80" font-size="7.39" text-anchor="middle" fill="#3a3a3a" font-weight="normal" stroke="#3a3a3a" stroke-width="0.06" textLength="7.34" lengthAdjust="spacingAndGlyphs">30</text>
<line x1="450.35" y1="466.00" x2="450.35" y2="469.00" stroke="#333" stroke-width="1.2"/>
<text x="450.35" y="477.80" font-size="7.39" text-anchor="middle" fill="#3a3a3a" font-weight="normal" stroke="#3a3a3a" stroke-width="0.06" textLength="7.34" lengthAdjust="spacingAndGlyphs">40</text>
<line x1="480.00" y1="466.00" x2="480.00" y2="469.00" stroke="#333" stroke-width="1.2"/>
<text x="480.00" y="477.80" font-size="7.39" text-anchor="middle" fill="#3a3a3a" font-weight="normal" stroke="#3a3a3a" stroke-width="0.06" textLength="7.34" lengthAdjust="spacingAndGlyphs">50</text>
<line x1="509.65" y1="466.00" x2="509.65" y2="469.00" stroke="#333" stroke-width="1.2"/>
<text x="509.65" y="477.80" font-size="7.39" text-anchor="middle" fill="#3a3a3a" font-weight="normal" stroke="#3a3a3a" stroke-width="0.06" textLength="7.34" lengthAdjust="spacingAndGlyphs">60</text>
<text x="305.60" y="414.50" font-size="8.5" text-anchor="middle" fill="#333" stroke="#333" stroke-width="0.15" transform="rotate(-90 305.60 414.50)" textLength="66" lengthAdjust="spacingAndGlyphs">Tumor volume (mm<tspan font-size="5.27" dy="-3">3</tspan><tspan dy="3">)</tspan></text>
<text x="427.50" y="489.90" font-size="9.5" text-anchor="middle" fill="#333" font-weight="normal" stroke="#333" stroke-width="0.13" textLength="76.4" lengthAdjust="spacingAndGlyphs">Days from randomization</text>
<line x1="425.00" y1="373.00" x2="433.50" y2="373.00" stroke="#1d3e70" stroke-width="0.9"/>
<circle cx="429.20" cy="373.00" r="1.8" fill="#1d3e70"/>
<text x="436.50" y="375.50" font-size="6.5" text-anchor="start" fill="#2a2a2a" font-weight="normal" stroke="#2a2a2a" stroke-width="0.06" textLength="55.8" lengthAdjust="spacingAndGlyphs">Vehicle control, SD</text>
<line x1="425.00" y1="382.67" x2="433.50" y2="382.67" stroke="#d3e8cc" stroke-width="0.9"/>
<circle cx="429.20" cy="382.67" r="1.8" fill="#d3e8cc"/>
<text x="436.50" y="385.17" font-size="6.5" text-anchor="start" fill="#2a2a2a" font-weight="normal" stroke="#2a2a2a" stroke-width="0.06" textLength="76.6" lengthAdjust="spacingAndGlyphs">ABBV-319, 0.5 mg/kg, SD</text>
<line x1="425.00" y1="392.34" x2="433.50" y2="392.34" stroke="#a6d294" stroke-width="0.9"/>
<polygon points="429.20,390.18 431.18,393.78 427.22,393.78" fill="#a6d294"/>
<text x="436.50" y="394.84" font-size="6.5" text-anchor="start" fill="#2a2a2a" font-weight="normal" stroke="#2a2a2a" stroke-width="0.06" textLength="76.6" lengthAdjust="spacingAndGlyphs">ABBV-319, 1.5 mg/kg, SD</text>
<line x1="425.00" y1="402.01" x2="433.50" y2="402.01" stroke="#3aaa44" stroke-width="0.9"/>
<polygon points="429.20,399.85 431.36,402.01 429.20,404.17 427.04,402.01" fill="#3aaa44"/>
<text x="436.50" y="404.51" font-size="6.5" text-anchor="start" fill="#2a2a2a" font-weight="normal" stroke="#2a2a2a" stroke-width="0.06" textLength="70.8" lengthAdjust="spacingAndGlyphs">ABBV-319, 5 mg/kg, SD</text>
<polyline points="331.75,462.65 346.57,461.80 355.47,454.69 367.33,445.02 376.23,429.94 388.08,408.60" fill="none" stroke="#d3e8cc" stroke-width="0.8" stroke-linejoin="round"/>
<circle cx="331.75" cy="462.65" r="1.9" fill="#d3e8cc"/>
<circle cx="346.57" cy="461.80" r="1.9" fill="#d3e8cc"/>
<circle cx="355.47" cy="454.69" r="1.9" fill="#d3e8cc"/>
<circle cx="367.33" cy="445.02" r="1.9" fill="#d3e8cc"/>
<line x1="376.23" y1="415.71" x2="376.23" y2="444.16" stroke="#d3e8cc" stroke-width="0.6"/>
<line x1="374.93" y1="415.71" x2="377.53" y2="415.71" stroke="#d3e8cc" stroke-width="0.6"/>
<line x1="374.93" y1="444.16" x2="377.53" y2="444.16" stroke="#d3e8cc" stroke-width="0.6"/>
<circle cx="376.23" cy="429.94" r="1.9" fill="#d3e8cc"/>
<line x1="388.08" y1="391.53" x2="388.08" y2="425.67" stroke="#d3e8cc" stroke-width="0.6"/>
<line x1="386.78" y1="391.53" x2="389.38" y2="391.53" stroke="#d3e8cc" stroke-width="0.6"/>
<line x1="386.78" y1="425.67" x2="389.38" y2="425.67" stroke="#d3e8cc" stroke-width="0.6"/>
<circle cx="388.08" cy="408.60" r="1.9" fill="#d3e8cc"/>
<polyline points="331.75,462.65 346.57,463.22 355.47,464.08 367.33,463.79 376.23,459.95 388.08,457.25 396.98,455.97 408.84,436.11 417.74,417.85" fill="none" stroke="#a6d294" stroke-width="0.8" stroke-linejoin="round"/>
<polygon points="331.75,460.38 333.84,464.17 329.66,464.17" fill="#a6d294"/>
<polygon points="346.57,460.94 348.66,464.74 344.49,464.74" fill="#a6d294"/>
<polygon points="355.47,461.80 357.56,465.60 353.38,465.60" fill="#a6d294"/>
<polygon points="367.33,461.51 369.42,465.31 365.24,465.31" fill="#a6d294"/>
<polygon points="376.23,457.67 378.31,461.47 374.14,461.47" fill="#a6d294"/>
<line x1="388.08" y1="455.54" x2="388.08" y2="458.96" stroke="#a6d294" stroke-width="0.6"/>
<line x1="386.78" y1="455.54" x2="389.38" y2="455.54" stroke="#a6d294" stroke-width="0.6"/>
<line x1="386.78" y1="458.96" x2="389.38" y2="458.96" stroke="#a6d294" stroke-width="0.6"/>
<polygon points="388.08,454.97 390.17,458.77 386.00,458.77" fill="#a6d294"/>
<line x1="396.98" y1="454.26" x2="396.98" y2="457.68" stroke="#a6d294" stroke-width="0.6"/>
<line x1="395.68" y1="454.26" x2="398.28" y2="454.26" stroke="#a6d294" stroke-width="0.6"/>
<line x1="395.68" y1="457.68" x2="398.28" y2="457.68" stroke="#a6d294" stroke-width="0.6"/>
<polygon points="396.98,453.69 399.07,457.49 394.89,457.49" fill="#a6d294"/>
<line x1="408.84" y1="420.46" x2="408.84" y2="451.76" stroke="#a6d294" stroke-width="0.6"/>
<line x1="407.54" y1="420.46" x2="410.14" y2="420.46" stroke="#a6d294" stroke-width="0.6"/>
<line x1="407.54" y1="451.76" x2="410.14" y2="451.76" stroke="#a6d294" stroke-width="0.6"/>
<polygon points="408.84,433.83 410.93,437.63 406.75,437.63" fill="#a6d294"/>
<line x1="417.74" y1="392.24" x2="417.74" y2="443.45" stroke="#a6d294" stroke-width="0.6"/>
<line x1="416.44" y1="392.24" x2="419.04" y2="392.24" stroke="#a6d294" stroke-width="0.6"/>
<line x1="416.44" y1="443.45" x2="419.04" y2="443.45" stroke="#a6d294" stroke-width="0.6"/>
<polygon points="417.74,415.57 419.82,419.37 415.65,419.37" fill="#a6d294"/>
<polyline points="331.75,462.65 346.57,464.93 355.47,465.22 367.33,465.36 376.23,465.36 388.08,465.36 396.98,465.36 408.84,465.36 417.74,465.36 429.60,465.36 435.52,465.36 450.35,464.93 471.11,459.18 491.86,440.75" fill="none" stroke="#3aaa44" stroke-width="0.8" stroke-linejoin="round"/>
<polygon points="331.75,460.38 334.03,462.65 331.75,464.93 329.47,462.65" fill="#3aaa44"/>
<polygon points="346.57,462.65 348.85,464.93 346.57,467.21 344.30,464.93" fill="#3aaa44"/>
<polygon points="355.47,462.94 357.75,465.22 355.47,467.50 353.19,465.22" fill="#3aaa44"/>
<polygon points="367.33,463.08 369.61,465.36 367.33,467.64 365.05,465.36" fill="#3aaa44"/>
<polygon points="376.23,463.08 378.50,465.36 376.23,467.64 373.95,465.36" fill="#3aaa44"/>
<polygon points="388.08,463.08 390.36,465.36 388.08,467.64 385.81,465.36" fill="#3aaa44"/>
<polygon points="396.98,463.08 399.26,465.36 396.98,467.64 394.70,465.36" fill="#3aaa44"/>
<polygon points="408.84,463.08 411.12,465.36 408.84,467.64 406.56,465.36" fill="#3aaa44"/>
<polygon points="417.74,463.08 420.01,465.36 417.74,467.64 415.46,465.36" fill="#3aaa44"/>
<polygon points="429.60,463.08 431.88,465.36 429.60,467.64 427.32,465.36" fill="#3aaa44"/>
<polygon points="435.52,463.08 437.80,465.36 435.52,467.64 433.25,465.36" fill="#3aaa44"/>
<polygon points="450.35,462.65 452.63,464.93 450.35,467.21 448.07,464.93" fill="#3aaa44"/>
<line x1="471.11" y1="452.64" x2="471.11" y2="465.50" stroke="#3aaa44" stroke-width="0.6"/>
<line x1="469.81" y1="452.64" x2="472.41" y2="452.64" stroke="#3aaa44" stroke-width="0.6"/>
<line x1="469.81" y1="465.50" x2="472.41" y2="465.50" stroke="#3aaa44" stroke-width="0.6"/>
<polygon points="471.11,456.90 473.38,459.18 471.11,461.46 468.83,459.18" fill="#3aaa44"/>
<line x1="491.86" y1="415.71" x2="491.86" y2="465.50" stroke="#3aaa44" stroke-width="0.6"/>
<line x1="490.56" y1="415.71" x2="493.16" y2="415.71" stroke="#3aaa44" stroke-width="0.6"/>
<line x1="490.56" y1="465.50" x2="493.16" y2="465.50" stroke="#3aaa44" stroke-width="0.6"/>
<polygon points="491.86,438.47 494.14,440.75 491.86,443.03 489.58,440.75" fill="#3aaa44"/>
<polyline points="331.75,462.65 346.57,461.89 355.47,455.17 367.33,445.13 376.23,428.80 388.08,405.10 396.98,375.31" fill="none" stroke="#1d3e70" stroke-width="0.8" stroke-linejoin="round"/>
<circle cx="331.75" cy="462.65" r="2.3" fill="#1d3e70"/>
<line x1="346.57" y1="460.75" x2="346.57" y2="463.02" stroke="#1d3e70" stroke-width="0.6"/>
<line x1="345.27" y1="460.75" x2="347.88" y2="460.75" stroke="#1d3e70" stroke-width="0.6"/>
<line x1="345.27" y1="463.02" x2="347.88" y2="463.02" stroke="#1d3e70" stroke-width="0.6"/>
<circle cx="346.57" cy="461.89" r="2.3" fill="#1d3e70"/>
<line x1="355.47" y1="452.33" x2="355.47" y2="458.02" stroke="#1d3e70" stroke-width="0.6"/>
<line x1="354.17" y1="452.33" x2="356.77" y2="452.33" stroke="#1d3e70" stroke-width="0.6"/>
<line x1="354.17" y1="458.02" x2="356.77" y2="458.02" stroke="#1d3e70" stroke-width="0.6"/>
<circle cx="355.47" cy="455.17" r="2.3" fill="#1d3e70"/>
<line x1="367.33" y1="440.86" x2="367.33" y2="449.40" stroke="#1d3e70" stroke-width="0.6"/>
<line x1="366.03" y1="440.86" x2="368.63" y2="440.86" stroke="#1d3e70" stroke-width="0.6"/>
<line x1="366.03" y1="449.40" x2="368.63" y2="449.40" stroke="#1d3e70" stroke-width="0.6"/>
<circle cx="367.33" cy="445.13" r="2.3" fill="#1d3e70"/>
<line x1="376.23" y1="424.53" x2="376.23" y2="433.07" stroke="#1d3e70" stroke-width="0.6"/>
<line x1="374.93" y1="424.53" x2="377.53" y2="424.53" stroke="#1d3e70" stroke-width="0.6"/>
<line x1="374.93" y1="433.07" x2="377.53" y2="433.07" stroke="#1d3e70" stroke-width="0.6"/>
<circle cx="376.23" cy="428.80" r="2.3" fill="#1d3e70"/>
<line x1="388.08" y1="400.83" x2="388.08" y2="409.37" stroke="#1d3e70" stroke-width="0.6"/>
<line x1="386.78" y1="400.83" x2="389.38" y2="400.83" stroke="#1d3e70" stroke-width="0.6"/>
<line x1="386.78" y1="409.37" x2="389.38" y2="409.37" stroke="#1d3e70" stroke-width="0.6"/>
<circle cx="388.08" cy="405.10" r="2.3" fill="#1d3e70"/>
<line x1="396.98" y1="370.19" x2="396.98" y2="380.43" stroke="#1d3e70" stroke-width="0.6"/>
<line x1="395.68" y1="370.19" x2="398.28" y2="370.19" stroke="#1d3e70" stroke-width="0.6"/>
<line x1="395.68" y1="380.43" x2="398.28" y2="380.43" stroke="#1d3e70" stroke-width="0.6"/>
<circle cx="396.98" cy="375.31" r="2.3" fill="#1d3e70"/>
<text x="7.30" y="512.00" font-size="12" text-anchor="start" fill="#111" stroke="#111" stroke-width="0.35" font-weight="bold">I</text>
<text x="76.30" y="520.00" font-size="8.6" text-anchor="middle" fill="#2a2a2a" font-weight="normal" stroke="#2a2a2a" stroke-width="0.13">B cells</text>
<line x1="39.90" y1="524.20" x2="39.90" y2="600.50" stroke="#333" stroke-width="1.5"/>
<line x1="36.90" y1="600.40" x2="39.90" y2="600.40" stroke="#333" stroke-width="1.2"/>
<text x="34.30" y="602.77" font-size="7.17" text-anchor="end" fill="#3a3a3a" font-weight="normal" stroke="#3a3a3a" stroke-width="0.06" textLength="3.56" lengthAdjust="spacingAndGlyphs">0</text>
<line x1="36.90" y1="576.00" x2="39.90" y2="576.00" stroke="#333" stroke-width="1.2"/>
<text x="34.30" y="578.37" font-size="7.17" text-anchor="end" fill="#3a3a3a" font-weight="normal" stroke="#3a3a3a" stroke-width="0.06" textLength="7.12" lengthAdjust="spacingAndGlyphs">20</text>
<line x1="36.90" y1="551.60" x2="39.90" y2="551.60" stroke="#333" stroke-width="1.2"/>
<text x="34.30" y="553.97" font-size="7.17" text-anchor="end" fill="#3a3a3a" font-weight="normal" stroke="#3a3a3a" stroke-width="0.06" textLength="7.12" lengthAdjust="spacingAndGlyphs">40</text>
<line x1="36.90" y1="527.20" x2="39.90" y2="527.20" stroke="#333" stroke-width="1.2"/>
<text x="34.30" y="529.57" font-size="7.17" text-anchor="end" fill="#3a3a3a" font-weight="normal" stroke="#3a3a3a" stroke-width="0.06" textLength="7.12" lengthAdjust="spacingAndGlyphs">60</text>
<line x1="39.20" y1="600.50" x2="111.30" y2="600.50" stroke="#333" stroke-width="1.5"/>
<line x1="39.90" y1="600.50" x2="39.90" y2="603.50" stroke="#333" stroke-width="1.2"/>
<text x="39.90" y="612.00" font-size="7.39" text-anchor="middle" fill="#3a3a3a" font-weight="normal" stroke="#3a3a3a" stroke-width="0.06" textLength="5.87" lengthAdjust="spacingAndGlyphs">-5</text>
<line x1="56.90" y1="600.50" x2="56.90" y2="603.50" stroke="#333" stroke-width="1.2"/>
<text x="56.90" y="612.00" font-size="7.39" text-anchor="middle" fill="#3a3a3a" font-weight="normal" stroke="#3a3a3a" stroke-width="0.06" textLength="7.34" lengthAdjust="spacingAndGlyphs">10</text>
<line x1="73.90" y1="600.50" x2="73.90" y2="603.50" stroke="#333" stroke-width="1.2"/>
<text x="73.90" y="612.00" font-size="7.39" text-anchor="middle" fill="#3a3a3a" font-weight="normal" stroke="#3a3a3a" stroke-width="0.06" textLength="7.34" lengthAdjust="spacingAndGlyphs">25</text>
<line x1="90.90" y1="600.50" x2="90.90" y2="603.50" stroke="#333" stroke-width="1.2"/>
<text x="90.90" y="612.00" font-size="7.39" text-anchor="middle" fill="#3a3a3a" font-weight="normal" stroke="#3a3a3a" stroke-width="0.06" textLength="7.34" lengthAdjust="spacingAndGlyphs">40</text>
<line x1="107.90" y1="600.50" x2="107.90" y2="603.50" stroke="#333" stroke-width="1.2"/>
<text x="107.90" y="612.00" font-size="7.39" text-anchor="middle" fill="#3a3a3a" font-weight="normal" stroke="#3a3a3a" stroke-width="0.06" textLength="7.34" lengthAdjust="spacingAndGlyphs">55</text>
<text x="76.80" y="624.20" font-size="9.5" text-anchor="middle" fill="#333" font-weight="normal" stroke="#333" stroke-width="0.13" textLength="77.3" lengthAdjust="spacingAndGlyphs">Days from randomization</text>
<text x="20.90" y="562.60" font-size="8.6" text-anchor="middle" fill="#333" font-weight="normal" stroke="#333" stroke-width="0.13" transform="rotate(-90 20.90 562.60)" textLength="29" lengthAdjust="spacingAndGlyphs">% CD45+</text>
<polyline points="39.90,543.06 47.60,600.40 62.40,546.72" fill="none" stroke="#d3e8cc" stroke-width="0.8" stroke-linejoin="round"/>
<circle cx="39.90" cy="543.06" r="1.6" fill="#d3e8cc"/>
<circle cx="47.60" cy="600.40" r="1.6" fill="#d3e8cc"/>
<line x1="62.40" y1="536.96" x2="62.40" y2="556.48" stroke="#c8dcc0" stroke-width="0.6"/>
<line x1="61.10" y1="536.96" x2="63.70" y2="536.96" stroke="#c8dcc0" stroke-width="0.6"/>
<line x1="61.10" y1="556.48" x2="63.70" y2="556.48" stroke="#c8dcc0" stroke-width="0.6"/>
<circle cx="62.40" cy="546.72" r="1.6" fill="#d3e8cc"/>
<polyline points="39.90,543.06 47.60,600.40 54.70,597.23 62.40,585.03 70.40,573.19 77.20,559.41" fill="none" stroke="#aacb9c" stroke-width="0.8" stroke-linejoin="round"/>
<line x1="39.90" y1="533.30" x2="39.90" y2="552.82" stroke="#aacb9c" stroke-width="0.6"/>
<line x1="38.60" y1="533.30" x2="41.20" y2="533.30" stroke="#aacb9c" stroke-width="0.6"/>
<line x1="38.60" y1="552.82" x2="41.20" y2="552.82" stroke="#aacb9c" stroke-width="0.6"/>
<rect x="38.00" y="541.16" width="3.80" height="3.80" fill="#aacb9c"/>
<rect x="45.70" y="598.50" width="3.80" height="3.80" fill="#aacb9c"/>
<rect x="52.80" y="595.33" width="3.80" height="3.80" fill="#aacb9c"/>
<line x1="62.40" y1="574.05" x2="62.40" y2="596.01" stroke="#aacb9c" stroke-width="0.6"/>
<line x1="61.10" y1="574.05" x2="63.70" y2="574.05" stroke="#aacb9c" stroke-width="0.6"/>
<line x1="61.10" y1="596.01" x2="63.70" y2="596.01" stroke="#aacb9c" stroke-width="0.6"/>
<rect x="60.50" y="583.13" width="3.80" height="3.80" fill="#aacb9c"/>
<line x1="70.40" y1="562.21" x2="70.40" y2="584.17" stroke="#aacb9c" stroke-width="0.6"/>
<line x1="69.10" y1="562.21" x2="71.70" y2="562.21" stroke="#aacb9c" stroke-width="0.6"/>
<line x1="69.10" y1="584.17" x2="71.70" y2="584.17" stroke="#aacb9c" stroke-width="0.6"/>
<rect x="68.50" y="571.29" width="3.80" height="3.80" fill="#aacb9c"/>
<line x1="77.20" y1="538.67" x2="77.20" y2="580.15" stroke="#aacb9c" stroke-width="0.6"/>
<line x1="75.90" y1="538.67" x2="78.50" y2="538.67" stroke="#aacb9c" stroke-width="0.6"/>
<line x1="75.90" y1="580.15" x2="78.50" y2="580.15" stroke="#aacb9c" stroke-width="0.6"/>
<rect x="75.30" y="557.51" width="3.80" height="3.80" fill="#aacb9c"/>
<polyline points="47.60,600.40 54.70,600.40 62.40,600.40 70.40,596.13 77.20,578.68 84.00,567.70 109.70,567.70" fill="none" stroke="#3aaa44" stroke-width="0.8" stroke-linejoin="round"/>
<circle cx="47.60" cy="600.40" r="1.9" fill="#3aaa44"/>
<circle cx="54.70" cy="600.40" r="1.9" fill="#3aaa44"/>
<circle cx="62.40" cy="600.40" r="1.9" fill="#3aaa44"/>
<circle cx="70.40" cy="596.13" r="1.9" fill="#3aaa44"/>
<line x1="77.20" y1="572.58" x2="77.20" y2="584.78" stroke="#3aaa44" stroke-width="0.6"/>
<line x1="75.90" y1="572.58" x2="78.50" y2="572.58" stroke="#3aaa44" stroke-width="0.6"/>
<line x1="75.90" y1="584.78" x2="78.50" y2="584.78" stroke="#3aaa44" stroke-width="0.6"/>
<circle cx="77.20" cy="578.68" r="1.9" fill="#3aaa44"/>
<line x1="84.00" y1="549.40" x2="84.00" y2="586.00" stroke="#3aaa44" stroke-width="0.6"/>
<line x1="82.70" y1="549.40" x2="85.30" y2="549.40" stroke="#3aaa44" stroke-width="0.6"/>
<line x1="82.70" y1="586.00" x2="85.30" y2="586.00" stroke="#3aaa44" stroke-width="0.6"/>
<circle cx="84.00" cy="567.70" r="1.9" fill="#3aaa44"/>
<line x1="109.70" y1="548.18" x2="109.70" y2="587.22" stroke="#3aaa44" stroke-width="0.6"/>
<line x1="108.40" y1="548.18" x2="111.00" y2="548.18" stroke="#3aaa44" stroke-width="0.6"/>
<line x1="108.40" y1="587.22" x2="111.00" y2="587.22" stroke="#3aaa44" stroke-width="0.6"/>
<circle cx="109.70" cy="567.70" r="1.9" fill="#3aaa44"/>
<polyline points="39.90,549.53 47.60,553.92 54.70,558.92 62.40,562.21 70.40,557.70" fill="none" stroke="#1d3e70" stroke-width="0.8" stroke-linejoin="round"/>
<line x1="39.90" y1="539.77" x2="39.90" y2="559.29" stroke="#1d3e70" stroke-width="0.6"/>
<line x1="38.60" y1="539.77" x2="41.20" y2="539.77" stroke="#1d3e70" stroke-width="0.6"/>
<line x1="38.60" y1="559.29" x2="41.20" y2="559.29" stroke="#1d3e70" stroke-width="0.6"/>
<circle cx="39.90" cy="549.53" r="2.2" fill="#1d3e70"/>
<line x1="47.60" y1="542.94" x2="47.60" y2="564.90" stroke="#1d3e70" stroke-width="0.6"/>
<line x1="46.30" y1="542.94" x2="48.90" y2="542.94" stroke="#1d3e70" stroke-width="0.6"/>
<line x1="46.30" y1="564.90" x2="48.90" y2="564.90" stroke="#1d3e70" stroke-width="0.6"/>
<circle cx="47.60" cy="553.92" r="2.2" fill="#1d3e70"/>
<line x1="54.70" y1="547.94" x2="54.70" y2="569.90" stroke="#1d3e70" stroke-width="0.6"/>
<line x1="53.40" y1="547.94" x2="56.00" y2="547.94" stroke="#1d3e70" stroke-width="0.6"/>
<line x1="53.40" y1="569.90" x2="56.00" y2="569.90" stroke="#1d3e70" stroke-width="0.6"/>
<circle cx="54.70" cy="558.92" r="2.2" fill="#1d3e70"/>
<line x1="62.40" y1="551.23" x2="62.40" y2="573.19" stroke="#1d3e70" stroke-width="0.6"/>
<line x1="61.10" y1="551.23" x2="63.70" y2="551.23" stroke="#1d3e70" stroke-width="0.6"/>
<line x1="61.10" y1="573.19" x2="63.70" y2="573.19" stroke="#1d3e70" stroke-width="0.6"/>
<circle cx="62.40" cy="562.21" r="2.2" fill="#1d3e70"/>
<line x1="70.40" y1="547.94" x2="70.40" y2="567.46" stroke="#1d3e70" stroke-width="0.6"/>
<line x1="69.10" y1="547.94" x2="71.70" y2="547.94" stroke="#1d3e70" stroke-width="0.6"/>
<line x1="69.10" y1="567.46" x2="71.70" y2="567.46" stroke="#1d3e70" stroke-width="0.6"/>
<circle cx="70.40" cy="557.70" r="2.2" fill="#1d3e70"/>
<text x="192.10" y="520.00" font-size="8.6" text-anchor="middle" fill="#2a2a2a" font-weight="normal" stroke="#2a2a2a" stroke-width="0.13">NK cells</text>
<line x1="156.00" y1="524.40" x2="156.00" y2="600.50" stroke="#333" stroke-width="1.5"/>
<line x1="153.00" y1="600.50" x2="156.00" y2="600.50" stroke="#333" stroke-width="1.2"/>
<text x="149.80" y="602.87" font-size="7.17" text-anchor="end" fill="#3a3a3a" font-weight="normal" stroke="#3a3a3a" stroke-width="0.06" textLength="3.56" lengthAdjust="spacingAndGlyphs">0</text>
<line x1="153.00" y1="585.83" x2="156.00" y2="585.83" stroke="#333" stroke-width="1.2"/>
<text x="149.80" y="588.19" font-size="7.17" text-anchor="end" fill="#3a3a3a" font-weight="normal" stroke="#3a3a3a" stroke-width="0.06" textLength="3.56" lengthAdjust="spacingAndGlyphs">5</text>
<line x1="153.00" y1="571.15" x2="156.00" y2="571.15" stroke="#333" stroke-width="1.2"/>
<text x="149.80" y="573.52" font-size="7.17" text-anchor="end" fill="#3a3a3a" font-weight="normal" stroke="#3a3a3a" stroke-width="0.06" textLength="7.12" lengthAdjust="spacingAndGlyphs">10</text>
<line x1="153.00" y1="556.48" x2="156.00" y2="556.48" stroke="#333" stroke-width="1.2"/>
<text x="149.80" y="558.84" font-size="7.17" text-anchor="end" fill="#3a3a3a" font-weight="normal" stroke="#3a3a3a" stroke-width="0.06" textLength="7.12" lengthAdjust="spacingAndGlyphs">15</text>
<line x1="153.00" y1="541.80" x2="156.00" y2="541.80" stroke="#333" stroke-width="1.2"/>
<text x="149.80" y="544.17" font-size="7.17" text-anchor="end" fill="#3a3a3a" font-weight="normal" stroke="#3a3a3a" stroke-width="0.06" textLength="7.12" lengthAdjust="spacingAndGlyphs">20</text>
<line x1="153.00" y1="527.12" x2="156.00" y2="527.12" stroke="#333" stroke-width="1.2"/>
<text x="149.80" y="529.49" font-size="7.17" text-anchor="end" fill="#3a3a3a" font-weight="normal" stroke="#3a3a3a" stroke-width="0.06" textLength="7.12" lengthAdjust="spacingAndGlyphs">25</text>
<line x1="155.30" y1="600.50" x2="228.80" y2="600.50" stroke="#333" stroke-width="1.5"/>
<line x1="156.00" y1="600.50" x2="156.00" y2="603.50" stroke="#333" stroke-width="1.2"/>
<text x="156.00" y="612.00" font-size="7.39" text-anchor="middle" fill="#3a3a3a" font-weight="normal" stroke="#3a3a3a" stroke-width="0.06" textLength="5.87" lengthAdjust="spacingAndGlyphs">-5</text>
<line x1="172.91" y1="600.50" x2="172.91" y2="603.50" stroke="#333" stroke-width="1.2"/>
<text x="172.91" y="612.00" font-size="7.39" text-anchor="middle" fill="#3a3a3a" font-weight="normal" stroke="#3a3a3a" stroke-width="0.06" textLength="7.34" lengthAdjust="spacingAndGlyphs">10</text>
<line x1="189.81" y1="600.50" x2="189.81" y2="603.50" stroke="#333" stroke-width="1.2"/>
<text x="189.81" y="612.00" font-size="7.39" text-anchor="middle" fill="#3a3a3a" font-weight="normal" stroke="#3a3a3a" stroke-width="0.06" textLength="7.34" lengthAdjust="spacingAndGlyphs">25</text>
<line x1="206.72" y1="600.50" x2="206.72" y2="603.50" stroke="#333" stroke-width="1.2"/>
<text x="206.72" y="612.00" font-size="7.39" text-anchor="middle" fill="#3a3a3a" font-weight="normal" stroke="#3a3a3a" stroke-width="0.06" textLength="7.34" lengthAdjust="spacingAndGlyphs">40</text>
<line x1="223.62" y1="600.50" x2="223.62" y2="603.50" stroke="#333" stroke-width="1.2"/>
<text x="223.62" y="612.00" font-size="7.39" text-anchor="middle" fill="#3a3a3a" font-weight="normal" stroke="#3a3a3a" stroke-width="0.06" textLength="7.34" lengthAdjust="spacingAndGlyphs">55</text>
<text x="191.90" y="624.20" font-size="9.5" text-anchor="middle" fill="#333" font-weight="normal" stroke="#333" stroke-width="0.13" textLength="77.3" lengthAdjust="spacingAndGlyphs">Days from randomization</text>
<text x="137.40" y="562.60" font-size="8.6" text-anchor="middle" fill="#333" font-weight="normal" stroke="#333" stroke-width="0.13" transform="rotate(-90 137.40 562.60)" textLength="50.7" lengthAdjust="spacingAndGlyphs">% CD45+ Non-B</text>
<polyline points="156.00,556.48 163.70,553.54 170.80,540.92 178.50,549.14 186.50,562.35 193.30,563.81" fill="none" stroke="#d3e8cc" stroke-width="0.8" stroke-linejoin="round"/>
<line x1="156.00" y1="552.07" x2="156.00" y2="560.88" stroke="#c8dcc0" stroke-width="0.6"/>
<line x1="154.70" y1="552.07" x2="157.30" y2="552.07" stroke="#c8dcc0" stroke-width="0.6"/>
<line x1="154.70" y1="560.88" x2="157.30" y2="560.88" stroke="#c8dcc0" stroke-width="0.6"/>
<circle cx="156.00" cy="556.48" r="1.6" fill="#d3e8cc"/>
<line x1="163.70" y1="547.67" x2="163.70" y2="559.41" stroke="#c8dcc0" stroke-width="0.6"/>
<line x1="162.40" y1="547.67" x2="165.00" y2="547.67" stroke="#c8dcc0" stroke-width="0.6"/>
<line x1="162.40" y1="559.41" x2="165.00" y2="559.41" stroke="#c8dcc0" stroke-width="0.6"/>
<circle cx="163.70" cy="553.54" r="1.6" fill="#d3e8cc"/>
<line x1="170.80" y1="535.05" x2="170.80" y2="546.79" stroke="#c8dcc0" stroke-width="0.6"/>
<line x1="169.50" y1="535.05" x2="172.10" y2="535.05" stroke="#c8dcc0" stroke-width="0.6"/>
<line x1="169.50" y1="546.79" x2="172.10" y2="546.79" stroke="#c8dcc0" stroke-width="0.6"/>
<circle cx="170.80" cy="540.92" r="1.6" fill="#d3e8cc"/>
<line x1="178.50" y1="543.27" x2="178.50" y2="555.01" stroke="#c8dcc0" stroke-width="0.6"/>
<line x1="177.20" y1="543.27" x2="179.80" y2="543.27" stroke="#c8dcc0" stroke-width="0.6"/>
<line x1="177.20" y1="555.01" x2="179.80" y2="555.01" stroke="#c8dcc0" stroke-width="0.6"/>
<circle cx="178.50" cy="549.14" r="1.6" fill="#d3e8cc"/>
<line x1="186.50" y1="556.48" x2="186.50" y2="568.22" stroke="#c8dcc0" stroke-width="0.6"/>
<line x1="185.20" y1="556.48" x2="187.80" y2="556.48" stroke="#c8dcc0" stroke-width="0.6"/>
<line x1="185.20" y1="568.22" x2="187.80" y2="568.22" stroke="#c8dcc0" stroke-width="0.6"/>
<circle cx="186.50" cy="562.35" r="1.6" fill="#d3e8cc"/>
<line x1="193.30" y1="557.94" x2="193.30" y2="569.68" stroke="#c8dcc0" stroke-width="0.6"/>
<line x1="192.00" y1="557.94" x2="194.60" y2="557.94" stroke="#c8dcc0" stroke-width="0.6"/>
<line x1="192.00" y1="569.68" x2="194.60" y2="569.68" stroke="#c8dcc0" stroke-width="0.6"/>
<circle cx="193.30" cy="563.81" r="1.6" fill="#d3e8cc"/>
<polyline points="156.00,557.36 163.70,553.25 170.80,550.02 178.50,562.35 186.50,563.81 193.30,564.69" fill="none" stroke="#a6d294" stroke-width="0.8" stroke-linejoin="round"/>
<line x1="156.00" y1="552.95" x2="156.00" y2="561.76" stroke="#a6d294" stroke-width="0.6"/>
<line x1="154.70" y1="552.95" x2="157.30" y2="552.95" stroke="#a6d294" stroke-width="0.6"/>
<line x1="154.70" y1="561.76" x2="157.30" y2="561.76" stroke="#a6d294" stroke-width="0.6"/>
<rect x="154.10" y="555.46" width="3.80" height="3.80" fill="#a6d294"/>
<line x1="163.70" y1="548.84" x2="163.70" y2="557.65" stroke="#a6d294" stroke-width="0.6"/>
<line x1="162.40" y1="548.84" x2="165.00" y2="548.84" stroke="#a6d294" stroke-width="0.6"/>
<line x1="162.40" y1="557.65" x2="165.00" y2="557.65" stroke="#a6d294" stroke-width="0.6"/>
<rect x="161.80" y="551.35" width="3.80" height="3.80" fill="#a6d294"/>
<line x1="170.80" y1="545.62" x2="170.80" y2="554.42" stroke="#a6d294" stroke-width="0.6"/>
<line x1="169.50" y1="545.62" x2="172.10" y2="545.62" stroke="#a6d294" stroke-width="0.6"/>
<line x1="169.50" y1="554.42" x2="172.10" y2="554.42" stroke="#a6d294" stroke-width="0.6"/>
<rect x="168.90" y="548.12" width="3.80" height="3.80" fill="#a6d294"/>
<line x1="178.50" y1="556.48" x2="178.50" y2="568.22" stroke="#a6d294" stroke-width="0.6"/>
<line x1="177.20" y1="556.48" x2="179.80" y2="556.48" stroke="#a6d294" stroke-width="0.6"/>
<line x1="177.20" y1="568.22" x2="179.80" y2="568.22" stroke="#a6d294" stroke-width="0.6"/>
<rect x="176.60" y="560.45" width="3.80" height="3.80" fill="#a6d294"/>
<line x1="186.50" y1="555.01" x2="186.50" y2="572.62" stroke="#a6d294" stroke-width="0.6"/>
<line x1="185.20" y1="555.01" x2="187.80" y2="555.01" stroke="#a6d294" stroke-width="0.6"/>
<line x1="185.20" y1="572.62" x2="187.80" y2="572.62" stroke="#a6d294" stroke-width="0.6"/>
<rect x="184.60" y="561.91" width="3.80" height="3.80" fill="#a6d294"/>
<line x1="193.30" y1="555.89" x2="193.30" y2="573.50" stroke="#a6d294" stroke-width="0.6"/>
<line x1="192.00" y1="555.89" x2="194.60" y2="555.89" stroke="#a6d294" stroke-width="0.6"/>
<line x1="192.00" y1="573.50" x2="194.60" y2="573.50" stroke="#a6d294" stroke-width="0.6"/>
<rect x="191.40" y="562.79" width="3.80" height="3.80" fill="#a6d294"/>
<polyline points="156.00,557.36 163.70,550.02 170.80,550.61 178.50,554.71 186.50,557.36 193.30,562.35 200.10,557.36 225.80,564.11" fill="none" stroke="#3aaa44" stroke-width="0.8" stroke-linejoin="round"/>
<line x1="156.00" y1="554.42" x2="156.00" y2="560.29" stroke="#3aaa44" stroke-width="0.6"/>
<line x1="154.70" y1="554.42" x2="157.30" y2="554.42" stroke="#3aaa44" stroke-width="0.6"/>
<line x1="154.70" y1="560.29" x2="157.30" y2="560.29" stroke="#3aaa44" stroke-width="0.6"/>
<circle cx="156.00" cy="557.36" r="1.9" fill="#3aaa44"/>
<line x1="163.70" y1="542.68" x2="163.70" y2="557.36" stroke="#3aaa44" stroke-width="0.6"/>
<line x1="162.40" y1="542.68" x2="165.00" y2="542.68" stroke="#3aaa44" stroke-width="0.6"/>
<line x1="162.40" y1="557.36" x2="165.00" y2="557.36" stroke="#3aaa44" stroke-width="0.6"/>
<circle cx="163.70" cy="550.02" r="1.9" fill="#3aaa44"/>
<line x1="170.80" y1="546.20" x2="170.80" y2="555.01" stroke="#3aaa44" stroke-width="0.6"/>
<line x1="169.50" y1="546.20" x2="172.10" y2="546.20" stroke="#3aaa44" stroke-width="0.6"/>
<line x1="169.50" y1="555.01" x2="172.10" y2="555.01" stroke="#3aaa44" stroke-width="0.6"/>
<circle cx="170.80" cy="550.61" r="1.9" fill="#3aaa44"/>
<line x1="178.50" y1="542.97" x2="178.50" y2="566.45" stroke="#3aaa44" stroke-width="0.6"/>
<line x1="177.20" y1="542.97" x2="179.80" y2="542.97" stroke="#3aaa44" stroke-width="0.6"/>
<line x1="177.20" y1="566.45" x2="179.80" y2="566.45" stroke="#3aaa44" stroke-width="0.6"/>
<circle cx="178.50" cy="554.71" r="1.9" fill="#3aaa44"/>
<line x1="186.50" y1="548.55" x2="186.50" y2="566.16" stroke="#3aaa44" stroke-width="0.6"/>
<line x1="185.20" y1="548.55" x2="187.80" y2="548.55" stroke="#3aaa44" stroke-width="0.6"/>
<line x1="185.20" y1="566.16" x2="187.80" y2="566.16" stroke="#3aaa44" stroke-width="0.6"/>
<circle cx="186.50" cy="557.36" r="1.9" fill="#3aaa44"/>
<line x1="193.30" y1="552.07" x2="193.30" y2="572.62" stroke="#3aaa44" stroke-width="0.6"/>
<line x1="192.00" y1="552.07" x2="194.60" y2="552.07" stroke="#3aaa44" stroke-width="0.6"/>
<line x1="192.00" y1="572.62" x2="194.60" y2="572.62" stroke="#3aaa44" stroke-width="0.6"/>
<circle cx="193.30" cy="562.35" r="1.9" fill="#3aaa44"/>
<line x1="200.10" y1="547.08" x2="200.10" y2="567.63" stroke="#3aaa44" stroke-width="0.6"/>
<line x1="198.80" y1="547.08" x2="201.40" y2="547.08" stroke="#3aaa44" stroke-width="0.6"/>
<line x1="198.80" y1="567.63" x2="201.40" y2="567.63" stroke="#3aaa44" stroke-width="0.6"/>
<circle cx="200.10" cy="557.36" r="1.9" fill="#3aaa44"/>
<line x1="225.80" y1="560.29" x2="225.80" y2="567.92" stroke="#3aaa44" stroke-width="0.6"/>
<line x1="224.50" y1="560.29" x2="227.10" y2="560.29" stroke="#3aaa44" stroke-width="0.6"/>
<line x1="224.50" y1="567.92" x2="227.10" y2="567.92" stroke="#3aaa44" stroke-width="0.6"/>
<circle cx="225.80" cy="564.11" r="1.9" fill="#3aaa44"/>
<polyline points="156.00,557.36 163.70,561.76 170.80,559.70 178.50,566.16 186.50,572.62" fill="none" stroke="#1d3e70" stroke-width="0.8" stroke-linejoin="round"/>
<line x1="156.00" y1="552.95" x2="156.00" y2="561.76" stroke="#1d3e70" stroke-width="0.6"/>
<line x1="154.70" y1="552.95" x2="157.30" y2="552.95" stroke="#1d3e70" stroke-width="0.6"/>
<line x1="154.70" y1="561.76" x2="157.30" y2="561.76" stroke="#1d3e70" stroke-width="0.6"/>
<circle cx="156.00" cy="557.36" r="2.2" fill="#1d3e70"/>
<line x1="163.70" y1="558.82" x2="163.70" y2="564.69" stroke="#1d3e70" stroke-width="0.6"/>
<line x1="162.40" y1="558.82" x2="165.00" y2="558.82" stroke="#1d3e70" stroke-width="0.6"/>
<line x1="162.40" y1="564.69" x2="165.00" y2="564.69" stroke="#1d3e70" stroke-width="0.6"/>
<circle cx="163.70" cy="561.76" r="2.2" fill="#1d3e70"/>
<line x1="170.80" y1="553.83" x2="170.80" y2="565.57" stroke="#1d3e70" stroke-width="0.6"/>
<line x1="169.50" y1="553.83" x2="172.10" y2="553.83" stroke="#1d3e70" stroke-width="0.6"/>
<line x1="169.50" y1="565.57" x2="172.10" y2="565.57" stroke="#1d3e70" stroke-width="0.6"/>
<circle cx="170.80" cy="559.70" r="2.2" fill="#1d3e70"/>
<line x1="178.50" y1="561.76" x2="178.50" y2="570.56" stroke="#1d3e70" stroke-width="0.6"/>
<line x1="177.20" y1="561.76" x2="179.80" y2="561.76" stroke="#1d3e70" stroke-width="0.6"/>
<line x1="177.20" y1="570.56" x2="179.80" y2="570.56" stroke="#1d3e70" stroke-width="0.6"/>
<circle cx="178.50" cy="566.16" r="2.2" fill="#1d3e70"/>
<line x1="186.50" y1="568.22" x2="186.50" y2="577.02" stroke="#1d3e70" stroke-width="0.6"/>
<line x1="185.20" y1="568.22" x2="187.80" y2="568.22" stroke="#1d3e70" stroke-width="0.6"/>
<line x1="185.20" y1="577.02" x2="187.80" y2="577.02" stroke="#1d3e70" stroke-width="0.6"/>
<circle cx="186.50" cy="572.62" r="2.2" fill="#1d3e70"/>
<text x="308.70" y="520.00" font-size="8.6" text-anchor="middle" fill="#2a2a2a" font-weight="normal" stroke="#2a2a2a" stroke-width="0.13">T cells</text>
<line x1="271.80" y1="524.30" x2="271.80" y2="600.50" stroke="#333" stroke-width="1.5"/>
<line x1="268.80" y1="600.40" x2="271.80" y2="600.40" stroke="#333" stroke-width="1.2"/>
<text x="266.50" y="602.77" font-size="7.17" text-anchor="end" fill="#3a3a3a" font-weight="normal" stroke="#3a3a3a" stroke-width="0.06" textLength="3.56" lengthAdjust="spacingAndGlyphs">0</text>
<line x1="268.80" y1="585.77" x2="271.80" y2="585.77" stroke="#333" stroke-width="1.2"/>
<text x="266.50" y="588.14" font-size="7.17" text-anchor="end" fill="#3a3a3a" font-weight="normal" stroke="#3a3a3a" stroke-width="0.06" textLength="7.12" lengthAdjust="spacingAndGlyphs">20</text>
<line x1="268.80" y1="571.15" x2="271.80" y2="571.15" stroke="#333" stroke-width="1.2"/>
<text x="266.50" y="573.52" font-size="7.17" text-anchor="end" fill="#3a3a3a" font-weight="normal" stroke="#3a3a3a" stroke-width="0.06" textLength="7.12" lengthAdjust="spacingAndGlyphs">40</text>
<line x1="268.80" y1="556.52" x2="271.80" y2="556.52" stroke="#333" stroke-width="1.2"/>
<text x="266.50" y="558.89" font-size="7.17" text-anchor="end" fill="#3a3a3a" font-weight="normal" stroke="#3a3a3a" stroke-width="0.06" textLength="7.12" lengthAdjust="spacingAndGlyphs">60</text>
<line x1="268.80" y1="541.90" x2="271.80" y2="541.90" stroke="#333" stroke-width="1.2"/>
<text x="266.50" y="544.26" font-size="7.17" text-anchor="end" fill="#3a3a3a" font-weight="normal" stroke="#3a3a3a" stroke-width="0.06" textLength="7.12" lengthAdjust="spacingAndGlyphs">80</text>
<line x1="268.80" y1="527.27" x2="271.80" y2="527.27" stroke="#333" stroke-width="1.2"/>
<text x="266.50" y="529.64" font-size="7.17" text-anchor="end" fill="#3a3a3a" font-weight="normal" stroke="#3a3a3a" stroke-width="0.06" textLength="10.68" lengthAdjust="spacingAndGlyphs">100</text>
<line x1="271.10" y1="600.50" x2="344.50" y2="600.50" stroke="#333" stroke-width="1.5"/>
<line x1="271.80" y1="600.50" x2="271.80" y2="603.50" stroke="#333" stroke-width="1.2"/>
<text x="271.80" y="612.00" font-size="7.39" text-anchor="middle" fill="#3a3a3a" font-weight="normal" stroke="#3a3a3a" stroke-width="0.06" textLength="5.87" lengthAdjust="spacingAndGlyphs">-5</text>
<line x1="288.71" y1="600.50" x2="288.71" y2="603.50" stroke="#333" stroke-width="1.2"/>
<text x="288.71" y="612.00" font-size="7.39" text-anchor="middle" fill="#3a3a3a" font-weight="normal" stroke="#3a3a3a" stroke-width="0.06" textLength="7.34" lengthAdjust="spacingAndGlyphs">10</text>
<line x1="305.61" y1="600.50" x2="305.61" y2="603.50" stroke="#333" stroke-width="1.2"/>
<text x="305.61" y="612.00" font-size="7.39" text-anchor="middle" fill="#3a3a3a" font-weight="normal" stroke="#3a3a3a" stroke-width="0.06" textLength="7.34" lengthAdjust="spacingAndGlyphs">25</text>
<line x1="322.51" y1="600.50" x2="322.51" y2="603.50" stroke="#333" stroke-width="1.2"/>
<text x="322.51" y="612.00" font-size="7.39" text-anchor="middle" fill="#3a3a3a" font-weight="normal" stroke="#3a3a3a" stroke-width="0.06" textLength="7.34" lengthAdjust="spacingAndGlyphs">40</text>
<line x1="339.42" y1="600.50" x2="339.42" y2="603.50" stroke="#333" stroke-width="1.2"/>
<text x="339.42" y="612.00" font-size="7.39" text-anchor="middle" fill="#3a3a3a" font-weight="normal" stroke="#3a3a3a" stroke-width="0.06" textLength="7.34" lengthAdjust="spacingAndGlyphs">55</text>
<text x="308.50" y="624.20" font-size="9.5" text-anchor="middle" fill="#333" font-weight="normal" stroke="#333" stroke-width="0.13" textLength="77.3" lengthAdjust="spacingAndGlyphs">Days from randomization</text>
<text x="252.80" y="562.60" font-size="8.6" text-anchor="middle" fill="#333" font-weight="normal" stroke="#333" stroke-width="0.13" transform="rotate(-90 252.80 562.60)" textLength="50.7" lengthAdjust="spacingAndGlyphs">% CD45+ Non-B</text>
<polyline points="271.80,557.98 279.50,563.84 286.60,559.45 294.30,555.06 302.30,552.13 309.10,549.21" fill="none" stroke="#d3e8cc" stroke-width="0.8" stroke-linejoin="round"/>
<line x1="271.80" y1="554.33" x2="271.80" y2="561.64" stroke="#c8dcc0" stroke-width="0.6"/>
<line x1="270.50" y1="554.33" x2="273.10" y2="554.33" stroke="#c8dcc0" stroke-width="0.6"/>
<line x1="270.50" y1="561.64" x2="273.10" y2="561.64" stroke="#c8dcc0" stroke-width="0.6"/>
<circle cx="271.80" cy="557.98" r="1.6" fill="#d3e8cc"/>
<line x1="279.50" y1="560.18" x2="279.50" y2="567.49" stroke="#c8dcc0" stroke-width="0.6"/>
<line x1="278.20" y1="560.18" x2="280.80" y2="560.18" stroke="#c8dcc0" stroke-width="0.6"/>
<line x1="278.20" y1="567.49" x2="280.80" y2="567.49" stroke="#c8dcc0" stroke-width="0.6"/>
<circle cx="279.50" cy="563.84" r="1.6" fill="#d3e8cc"/>
<line x1="286.60" y1="555.79" x2="286.60" y2="563.10" stroke="#c8dcc0" stroke-width="0.6"/>
<line x1="285.30" y1="555.79" x2="287.90" y2="555.79" stroke="#c8dcc0" stroke-width="0.6"/>
<line x1="285.30" y1="563.10" x2="287.90" y2="563.10" stroke="#c8dcc0" stroke-width="0.6"/>
<circle cx="286.60" cy="559.45" r="1.6" fill="#d3e8cc"/>
<line x1="294.30" y1="551.40" x2="294.30" y2="558.72" stroke="#c8dcc0" stroke-width="0.6"/>
<line x1="293.00" y1="551.40" x2="295.60" y2="551.40" stroke="#c8dcc0" stroke-width="0.6"/>
<line x1="293.00" y1="558.72" x2="295.60" y2="558.72" stroke="#c8dcc0" stroke-width="0.6"/>
<circle cx="294.30" cy="555.06" r="1.6" fill="#d3e8cc"/>
<line x1="302.30" y1="548.48" x2="302.30" y2="555.79" stroke="#c8dcc0" stroke-width="0.6"/>
<line x1="301.00" y1="548.48" x2="303.60" y2="548.48" stroke="#c8dcc0" stroke-width="0.6"/>
<line x1="301.00" y1="555.79" x2="303.60" y2="555.79" stroke="#c8dcc0" stroke-width="0.6"/>
<circle cx="302.30" cy="552.13" r="1.6" fill="#d3e8cc"/>
<line x1="309.10" y1="545.55" x2="309.10" y2="552.87" stroke="#c8dcc0" stroke-width="0.6"/>
<line x1="307.80" y1="545.55" x2="310.40" y2="545.55" stroke="#c8dcc0" stroke-width="0.6"/>
<line x1="307.80" y1="552.87" x2="310.40" y2="552.87" stroke="#c8dcc0" stroke-width="0.6"/>
<circle cx="309.10" cy="549.21" r="1.6" fill="#d3e8cc"/>
<polyline points="271.80,556.52 279.50,561.35 286.60,557.25 294.30,554.33 302.30,550.67 309.10,547.75" fill="none" stroke="#a6d294" stroke-width="0.8" stroke-linejoin="round"/>
<line x1="271.80" y1="552.87" x2="271.80" y2="560.18" stroke="#a6d294" stroke-width="0.6"/>
<line x1="270.50" y1="552.87" x2="273.10" y2="552.87" stroke="#a6d294" stroke-width="0.6"/>
<line x1="270.50" y1="560.18" x2="273.10" y2="560.18" stroke="#a6d294" stroke-width="0.6"/>
<rect x="269.90" y="554.62" width="3.80" height="3.80" fill="#a6d294"/>
<line x1="279.50" y1="557.69" x2="279.50" y2="565.01" stroke="#a6d294" stroke-width="0.6"/>
<line x1="278.20" y1="557.69" x2="280.80" y2="557.69" stroke="#a6d294" stroke-width="0.6"/>
<line x1="278.20" y1="565.01" x2="280.80" y2="565.01" stroke="#a6d294" stroke-width="0.6"/>
<rect x="277.60" y="559.45" width="3.80" height="3.80" fill="#a6d294"/>
<line x1="286.60" y1="553.60" x2="286.60" y2="560.91" stroke="#a6d294" stroke-width="0.6"/>
<line x1="285.30" y1="553.60" x2="287.90" y2="553.60" stroke="#a6d294" stroke-width="0.6"/>
<line x1="285.30" y1="560.91" x2="287.90" y2="560.91" stroke="#a6d294" stroke-width="0.6"/>
<rect x="284.70" y="555.35" width="3.80" height="3.80" fill="#a6d294"/>
<line x1="294.30" y1="550.67" x2="294.30" y2="557.98" stroke="#a6d294" stroke-width="0.6"/>
<line x1="293.00" y1="550.67" x2="295.60" y2="550.67" stroke="#a6d294" stroke-width="0.6"/>
<line x1="293.00" y1="557.98" x2="295.60" y2="557.98" stroke="#a6d294" stroke-width="0.6"/>
<rect x="292.40" y="552.43" width="3.80" height="3.80" fill="#a6d294"/>
<line x1="302.30" y1="547.02" x2="302.30" y2="554.33" stroke="#a6d294" stroke-width="0.6"/>
<line x1="301.00" y1="547.02" x2="303.60" y2="547.02" stroke="#a6d294" stroke-width="0.6"/>
<line x1="301.00" y1="554.33" x2="303.60" y2="554.33" stroke="#a6d294" stroke-width="0.6"/>
<rect x="300.40" y="548.77" width="3.80" height="3.80" fill="#a6d294"/>
<line x1="309.10" y1="544.09" x2="309.10" y2="551.40" stroke="#a6d294" stroke-width="0.6"/>
<line x1="307.80" y1="544.09" x2="310.40" y2="544.09" stroke="#a6d294" stroke-width="0.6"/>
<line x1="307.80" y1="551.40" x2="310.40" y2="551.40" stroke="#a6d294" stroke-width="0.6"/>
<rect x="307.20" y="545.85" width="3.80" height="3.80" fill="#a6d294"/>
<polyline points="271.80,555.06 279.50,560.18 286.60,555.06 294.30,552.13 302.30,549.21 309.10,547.31 315.90,548.99 341.60,546.28" fill="none" stroke="#3aaa44" stroke-width="0.8" stroke-linejoin="round"/>
<line x1="271.80" y1="552.87" x2="271.80" y2="557.25" stroke="#3aaa44" stroke-width="0.6"/>
<line x1="270.50" y1="552.87" x2="273.10" y2="552.87" stroke="#3aaa44" stroke-width="0.6"/>
<line x1="270.50" y1="557.25" x2="273.10" y2="557.25" stroke="#3aaa44" stroke-width="0.6"/>
<circle cx="271.80" cy="555.06" r="1.9" fill="#3aaa44"/>
<line x1="279.50" y1="557.98" x2="279.50" y2="562.37" stroke="#3aaa44" stroke-width="0.6"/>
<line x1="278.20" y1="557.98" x2="280.80" y2="557.98" stroke="#3aaa44" stroke-width="0.6"/>
<line x1="278.20" y1="562.37" x2="280.80" y2="562.37" stroke="#3aaa44" stroke-width="0.6"/>
<circle cx="279.50" cy="560.18" r="1.9" fill="#3aaa44"/>
<line x1="286.60" y1="552.87" x2="286.60" y2="557.25" stroke="#3aaa44" stroke-width="0.6"/>
<line x1="285.30" y1="552.87" x2="287.90" y2="552.87" stroke="#3aaa44" stroke-width="0.6"/>
<line x1="285.30" y1="557.25" x2="287.90" y2="557.25" stroke="#3aaa44" stroke-width="0.6"/>
<circle cx="286.60" cy="555.06" r="1.9" fill="#3aaa44"/>
<line x1="294.30" y1="548.48" x2="294.30" y2="555.79" stroke="#3aaa44" stroke-width="0.6"/>
<line x1="293.00" y1="548.48" x2="295.60" y2="548.48" stroke="#3aaa44" stroke-width="0.6"/>
<line x1="293.00" y1="555.79" x2="295.60" y2="555.79" stroke="#3aaa44" stroke-width="0.6"/>
<circle cx="294.30" cy="552.13" r="1.9" fill="#3aaa44"/>
<line x1="302.30" y1="546.28" x2="302.30" y2="552.13" stroke="#3aaa44" stroke-width="0.6"/>
<line x1="301.00" y1="546.28" x2="303.60" y2="546.28" stroke="#3aaa44" stroke-width="0.6"/>
<line x1="301.00" y1="552.13" x2="303.60" y2="552.13" stroke="#3aaa44" stroke-width="0.6"/>
<circle cx="302.30" cy="549.21" r="1.9" fill="#3aaa44"/>
<line x1="309.10" y1="542.92" x2="309.10" y2="551.70" stroke="#3aaa44" stroke-width="0.6"/>
<line x1="307.80" y1="542.92" x2="310.40" y2="542.92" stroke="#3aaa44" stroke-width="0.6"/>
<line x1="307.80" y1="551.70" x2="310.40" y2="551.70" stroke="#3aaa44" stroke-width="0.6"/>
<circle cx="309.10" cy="547.31" r="1.9" fill="#3aaa44"/>
<line x1="315.90" y1="546.06" x2="315.90" y2="551.91" stroke="#3aaa44" stroke-width="0.6"/>
<line x1="314.60" y1="546.06" x2="317.20" y2="546.06" stroke="#3aaa44" stroke-width="0.6"/>
<line x1="314.60" y1="551.91" x2="317.20" y2="551.91" stroke="#3aaa44" stroke-width="0.6"/>
<circle cx="315.90" cy="548.99" r="1.9" fill="#3aaa44"/>
<line x1="341.60" y1="541.16" x2="341.60" y2="551.40" stroke="#3aaa44" stroke-width="0.6"/>
<line x1="340.30" y1="541.16" x2="342.90" y2="541.16" stroke="#3aaa44" stroke-width="0.6"/>
<line x1="340.30" y1="551.40" x2="342.90" y2="551.40" stroke="#3aaa44" stroke-width="0.6"/>
<circle cx="341.60" cy="546.28" r="1.9" fill="#3aaa44"/>
<polyline points="271.80,553.16 279.50,556.30 286.60,552.87 294.30,550.82 302.30,547.75" fill="none" stroke="#1d3e70" stroke-width="0.8" stroke-linejoin="round"/>
<line x1="271.80" y1="550.96" x2="271.80" y2="555.35" stroke="#1d3e70" stroke-width="0.6"/>
<line x1="270.50" y1="550.96" x2="273.10" y2="550.96" stroke="#1d3e70" stroke-width="0.6"/>
<line x1="270.50" y1="555.35" x2="273.10" y2="555.35" stroke="#1d3e70" stroke-width="0.6"/>
<circle cx="271.80" cy="553.16" r="2.2" fill="#1d3e70"/>
<line x1="279.50" y1="554.84" x2="279.50" y2="557.77" stroke="#1d3e70" stroke-width="0.6"/>
<line x1="278.20" y1="554.84" x2="280.80" y2="554.84" stroke="#1d3e70" stroke-width="0.6"/>
<line x1="278.20" y1="557.77" x2="280.80" y2="557.77" stroke="#1d3e70" stroke-width="0.6"/>
<circle cx="279.50" cy="556.30" r="2.2" fill="#1d3e70"/>
<line x1="286.60" y1="550.67" x2="286.60" y2="555.06" stroke="#1d3e70" stroke-width="0.6"/>
<line x1="285.30" y1="550.67" x2="287.90" y2="550.67" stroke="#1d3e70" stroke-width="0.6"/>
<line x1="285.30" y1="555.06" x2="287.90" y2="555.06" stroke="#1d3e70" stroke-width="0.6"/>
<circle cx="286.60" cy="552.87" r="2.2" fill="#1d3e70"/>
<line x1="294.30" y1="548.62" x2="294.30" y2="553.01" stroke="#1d3e70" stroke-width="0.6"/>
<line x1="293.00" y1="548.62" x2="295.60" y2="548.62" stroke="#1d3e70" stroke-width="0.6"/>
<line x1="293.00" y1="553.01" x2="295.60" y2="553.01" stroke="#1d3e70" stroke-width="0.6"/>
<circle cx="294.30" cy="550.82" r="2.2" fill="#1d3e70"/>
<line x1="302.30" y1="545.55" x2="302.30" y2="549.94" stroke="#1d3e70" stroke-width="0.6"/>
<line x1="301.00" y1="545.55" x2="303.60" y2="545.55" stroke="#1d3e70" stroke-width="0.6"/>
<line x1="301.00" y1="549.94" x2="303.60" y2="549.94" stroke="#1d3e70" stroke-width="0.6"/>
<circle cx="302.30" cy="547.75" r="2.2" fill="#1d3e70"/>
<line x1="35.50" y1="638.80" x2="45.00" y2="638.80" stroke="#1d3e70" stroke-width="0.9"/>
<circle cx="40.20" cy="638.80" r="1.9" fill="#1d3e70"/>
<text x="48.00" y="641.30" font-size="6.5" text-anchor="start" fill="#2a2a2a" font-weight="normal" stroke="#2a2a2a" stroke-width="0.06" textLength="20.75" lengthAdjust="spacingAndGlyphs">Vehicle</text>
<line x1="35.50" y1="647.13" x2="45.00" y2="647.13" stroke="#d3e8cc" stroke-width="0.9"/>
<circle cx="40.20" cy="647.13" r="1.9" fill="#d3e8cc"/>
<text x="48.00" y="649.63" font-size="6.5" text-anchor="start" fill="#2a2a2a" font-weight="normal" stroke="#2a2a2a" stroke-width="0.06" textLength="64" lengthAdjust="spacingAndGlyphs">ABBV-319, 0.5 mg/kg</text>
<line x1="35.50" y1="655.46" x2="45.00" y2="655.46" stroke="#a6d294" stroke-width="0.9"/>
<rect x="38.30" y="653.56" width="3.80" height="3.80" fill="#a6d294"/>
<text x="48.00" y="657.96" font-size="6.5" text-anchor="start" fill="#2a2a2a" font-weight="normal" stroke="#2a2a2a" stroke-width="0.06" textLength="64" lengthAdjust="spacingAndGlyphs">ABBV-319, 1.5 mg/kg</text>
<line x1="35.50" y1="663.79" x2="45.00" y2="663.79" stroke="#3aaa44" stroke-width="0.9"/>
<circle cx="40.20" cy="663.79" r="1.9" fill="#3aaa44"/>
<text x="48.00" y="666.29" font-size="6.5" text-anchor="start" fill="#2a2a2a" font-weight="normal" stroke="#2a2a2a" stroke-width="0.06" textLength="58.25" lengthAdjust="spacingAndGlyphs">ABBV-319, 5 mg/kg</text>
<text x="360.60" y="512.60" font-size="12" text-anchor="start" fill="#111" stroke="#111" stroke-width="0.35" font-weight="bold">J</text>
<text x="460.20" y="513.30" font-size="9.2" text-anchor="middle" fill="#2a2a2a" font-weight="normal" stroke="#2a2a2a" stroke-width="0.13" textLength="15" lengthAdjust="spacingAndGlyphs">Raji</text>
<line x1="407.50" y1="517.50" x2="407.50" y2="600.80" stroke="#333" stroke-width="1.5"/>
<line x1="404.50" y1="600.50" x2="407.50" y2="600.50" stroke="#333" stroke-width="1.2"/>
<text x="402.10" y="602.87" font-size="7.17" text-anchor="end" fill="#3a3a3a" font-weight="normal" stroke="#3a3a3a" stroke-width="0.06" textLength="3.56" lengthAdjust="spacingAndGlyphs">0</text>
<line x1="404.50" y1="580.40" x2="407.50" y2="580.40" stroke="#333" stroke-width="1.2"/>
<text x="402.10" y="582.77" font-size="7.17" text-anchor="end" fill="#3a3a3a" font-weight="normal" stroke="#3a3a3a" stroke-width="0.06" textLength="10.68" lengthAdjust="spacingAndGlyphs">500</text>
<line x1="404.50" y1="560.30" x2="407.50" y2="560.30" stroke="#333" stroke-width="1.2"/>
<text x="402.10" y="562.67" font-size="7.17" text-anchor="end" fill="#3a3a3a" font-weight="normal" stroke="#3a3a3a" stroke-width="0.06" textLength="14.24" lengthAdjust="spacingAndGlyphs">1000</text>
<line x1="404.50" y1="540.20" x2="407.50" y2="540.20" stroke="#333" stroke-width="1.2"/>
<text x="402.10" y="542.57" font-size="7.17" text-anchor="end" fill="#3a3a3a" font-weight="normal" stroke="#3a3a3a" stroke-width="0.06" textLength="14.24" lengthAdjust="spacingAndGlyphs">1500</text>
<line x1="404.50" y1="520.10" x2="407.50" y2="520.10" stroke="#333" stroke-width="1.2"/>
<text x="402.10" y="522.47" font-size="7.17" text-anchor="end" fill="#3a3a3a" font-weight="normal" stroke="#3a3a3a" stroke-width="0.06" textLength="14.24" lengthAdjust="spacingAndGlyphs">2000</text>
<line x1="406.40" y1="600.80" x2="513.00" y2="600.80" stroke="#333" stroke-width="1.5"/>
<line x1="407.50" y1="600.80" x2="407.50" y2="603.80" stroke="#333" stroke-width="1.2"/>
<text x="407.50" y="612.30" font-size="7.39" text-anchor="middle" fill="#3a3a3a" font-weight="normal" stroke="#3a3a3a" stroke-width="0.06" textLength="3.67" lengthAdjust="spacingAndGlyphs">0</text>
<line x1="440.55" y1="600.80" x2="440.55" y2="603.80" stroke="#333" stroke-width="1.2"/>
<text x="440.55" y="612.30" font-size="7.39" text-anchor="middle" fill="#3a3a3a" font-weight="normal" stroke="#3a3a3a" stroke-width="0.06" textLength="7.34" lengthAdjust="spacingAndGlyphs">10</text>
<line x1="473.60" y1="600.80" x2="473.60" y2="603.80" stroke="#333" stroke-width="1.2"/>
<text x="473.60" y="612.30" font-size="7.39" text-anchor="middle" fill="#3a3a3a" font-weight="normal" stroke="#3a3a3a" stroke-width="0.06" textLength="7.34" lengthAdjust="spacingAndGlyphs">20</text>
<line x1="506.65" y1="600.80" x2="506.65" y2="603.80" stroke="#333" stroke-width="1.2"/>
<text x="506.65" y="612.30" font-size="7.39" text-anchor="middle" fill="#3a3a3a" font-weight="normal" stroke="#3a3a3a" stroke-width="0.06" textLength="7.34" lengthAdjust="spacingAndGlyphs">30</text>
<text x="381.80" y="562.40" font-size="8.5" text-anchor="middle" fill="#333" stroke="#333" stroke-width="0.15" transform="rotate(-90 381.80 562.40)" textLength="65.3" lengthAdjust="spacingAndGlyphs">Tumor volume (mm<tspan font-size="5.27" dy="-3">3</tspan><tspan dy="3">)</tspan></text>
<text x="460.50" y="624.20" font-size="9.5" text-anchor="middle" fill="#333" font-weight="normal" stroke="#333" stroke-width="0.13" textLength="77.3" lengthAdjust="spacingAndGlyphs">Days from randomization</text>
<path d="M407.50,595.80 C410.81,596.06 422.37,597.32 427.33,597.40 C432.29,597.48 433.94,596.47 437.25,596.28 C440.55,596.09 443.86,596.28 447.16,596.28 C450.47,596.28 453.22,596.30 457.07,596.28 C460.93,596.26 466.44,596.35 470.30,596.16 C474.15,595.96 476.35,596.25 480.21,595.11 C484.07,593.97 489.57,591.24 493.43,589.32 C497.29,587.41 501.69,584.57 503.35,583.62" fill="none" stroke="#3aa846" stroke-width="0.9"/>
<circle cx="407.50" cy="595.80" r="2.3" fill="#3aa846"/>
<circle cx="427.33" cy="597.40" r="2.3" fill="#3aa846"/>
<circle cx="437.25" cy="596.28" r="2.3" fill="#3aa846"/>
<circle cx="447.16" cy="596.28" r="2.3" fill="#3aa846"/>
<circle cx="457.07" cy="596.28" r="2.3" fill="#3aa846"/>
<circle cx="470.30" cy="596.16" r="2.3" fill="#3aa846"/>
<circle cx="480.21" cy="595.11" r="2.3" fill="#3aa846"/>
<line x1="493.43" y1="585.71" x2="493.43" y2="592.94" stroke="#8cc08c" stroke-width="0.7"/>
<line x1="491.93" y1="585.71" x2="494.93" y2="585.71" stroke="#8cc08c" stroke-width="0.7"/>
<line x1="491.93" y1="592.94" x2="494.93" y2="592.94" stroke="#8cc08c" stroke-width="0.7"/>
<circle cx="493.43" cy="589.32" r="2.3" fill="#3aa846"/>
<line x1="503.35" y1="575.58" x2="503.35" y2="591.66" stroke="#8cc08c" stroke-width="0.7"/>
<line x1="501.85" y1="575.58" x2="504.85" y2="575.58" stroke="#8cc08c" stroke-width="0.7"/>
<line x1="501.85" y1="591.66" x2="504.85" y2="591.66" stroke="#8cc08c" stroke-width="0.7"/>
<circle cx="503.35" cy="583.62" r="2.3" fill="#3aa846"/>
<path d="M407.50,595.80 C410.81,595.31 422.37,593.66 427.33,592.86 C432.29,592.06 433.94,591.98 437.25,591.01 C440.55,590.04 443.86,588.15 447.16,587.03 C450.47,585.92 453.22,585.49 457.07,584.34 C460.93,583.19 466.44,581.62 470.30,580.16 C474.15,578.70 476.35,577.81 480.21,575.58 C484.07,573.34 489.57,571.72 493.43,566.73 C497.29,561.74 501.69,549.14 503.35,545.63" fill="none" stroke="#4db8e8" stroke-width="0.9"/>
<circle cx="407.50" cy="595.80" r="2.3" fill="#4db8e8"/>
<circle cx="427.33" cy="592.86" r="2.3" fill="#4db8e8"/>
<line x1="437.25" y1="589.81" x2="437.25" y2="592.22" stroke="#8cc8e0" stroke-width="0.7"/>
<line x1="435.75" y1="589.81" x2="438.75" y2="589.81" stroke="#8cc8e0" stroke-width="0.7"/>
<line x1="435.75" y1="592.22" x2="438.75" y2="592.22" stroke="#8cc8e0" stroke-width="0.7"/>
<circle cx="437.25" cy="591.01" r="2.3" fill="#4db8e8"/>
<line x1="447.16" y1="584.62" x2="447.16" y2="589.45" stroke="#8cc8e0" stroke-width="0.7"/>
<line x1="445.66" y1="584.62" x2="448.66" y2="584.62" stroke="#8cc8e0" stroke-width="0.7"/>
<line x1="445.66" y1="589.45" x2="448.66" y2="589.45" stroke="#8cc8e0" stroke-width="0.7"/>
<circle cx="447.16" cy="587.03" r="2.3" fill="#4db8e8"/>
<line x1="457.07" y1="581.12" x2="457.07" y2="587.56" stroke="#8cc8e0" stroke-width="0.7"/>
<line x1="455.57" y1="581.12" x2="458.57" y2="581.12" stroke="#8cc8e0" stroke-width="0.7"/>
<line x1="455.57" y1="587.56" x2="458.57" y2="587.56" stroke="#8cc8e0" stroke-width="0.7"/>
<circle cx="457.07" cy="584.34" r="2.3" fill="#4db8e8"/>
<line x1="470.30" y1="576.14" x2="470.30" y2="584.18" stroke="#8cc8e0" stroke-width="0.7"/>
<line x1="468.80" y1="576.14" x2="471.80" y2="576.14" stroke="#8cc8e0" stroke-width="0.7"/>
<line x1="468.80" y1="584.18" x2="471.80" y2="584.18" stroke="#8cc8e0" stroke-width="0.7"/>
<circle cx="470.30" cy="580.16" r="2.3" fill="#4db8e8"/>
<line x1="480.21" y1="570.35" x2="480.21" y2="580.80" stroke="#8cc8e0" stroke-width="0.7"/>
<line x1="478.71" y1="570.35" x2="481.71" y2="570.35" stroke="#8cc8e0" stroke-width="0.7"/>
<line x1="478.71" y1="580.80" x2="481.71" y2="580.80" stroke="#8cc8e0" stroke-width="0.7"/>
<circle cx="480.21" cy="575.58" r="2.3" fill="#4db8e8"/>
<line x1="493.43" y1="557.08" x2="493.43" y2="576.38" stroke="#8cc8e0" stroke-width="0.7"/>
<line x1="491.93" y1="557.08" x2="494.93" y2="557.08" stroke="#8cc8e0" stroke-width="0.7"/>
<line x1="491.93" y1="576.38" x2="494.93" y2="576.38" stroke="#8cc8e0" stroke-width="0.7"/>
<circle cx="493.43" cy="566.73" r="2.3" fill="#4db8e8"/>
<line x1="503.35" y1="527.13" x2="503.35" y2="564.12" stroke="#8cc8e0" stroke-width="0.7"/>
<line x1="501.85" y1="527.13" x2="504.85" y2="527.13" stroke="#8cc8e0" stroke-width="0.7"/>
<line x1="501.85" y1="564.12" x2="504.85" y2="564.12" stroke="#8cc8e0" stroke-width="0.7"/>
<circle cx="503.35" cy="545.63" r="2.3" fill="#4db8e8"/>
<path d="M407.50,595.80 C410.81,594.45 422.37,589.95 427.33,587.72 C432.29,585.49 433.94,584.90 437.25,582.41 C440.55,579.92 443.86,576.02 447.16,572.76 C450.47,569.51 453.22,566.96 457.07,562.87 C460.93,558.79 468.09,550.68 470.30,548.24" fill="none" stroke="#d27d2d" stroke-width="0.9"/>
<circle cx="407.50" cy="595.80" r="2.3" fill="#d27d2d"/>
<line x1="427.33" y1="586.71" x2="427.33" y2="588.72" stroke="#d9a070" stroke-width="0.7"/>
<line x1="425.83" y1="586.71" x2="428.83" y2="586.71" stroke="#d9a070" stroke-width="0.7"/>
<line x1="425.83" y1="588.72" x2="428.83" y2="588.72" stroke="#d9a070" stroke-width="0.7"/>
<circle cx="427.33" cy="587.72" r="2.3" fill="#d27d2d"/>
<line x1="437.25" y1="580.80" x2="437.25" y2="584.02" stroke="#d9a070" stroke-width="0.7"/>
<line x1="435.75" y1="580.80" x2="438.75" y2="580.80" stroke="#d9a070" stroke-width="0.7"/>
<line x1="435.75" y1="584.02" x2="438.75" y2="584.02" stroke="#d9a070" stroke-width="0.7"/>
<circle cx="437.25" cy="582.41" r="2.3" fill="#d27d2d"/>
<line x1="447.16" y1="570.35" x2="447.16" y2="575.17" stroke="#d9a070" stroke-width="0.7"/>
<line x1="445.66" y1="570.35" x2="448.66" y2="570.35" stroke="#d9a070" stroke-width="0.7"/>
<line x1="445.66" y1="575.17" x2="448.66" y2="575.17" stroke="#d9a070" stroke-width="0.7"/>
<circle cx="447.16" cy="572.76" r="2.3" fill="#d27d2d"/>
<line x1="457.07" y1="560.46" x2="457.07" y2="565.28" stroke="#d9a070" stroke-width="0.7"/>
<line x1="455.57" y1="560.46" x2="458.57" y2="560.46" stroke="#d9a070" stroke-width="0.7"/>
<line x1="455.57" y1="565.28" x2="458.57" y2="565.28" stroke="#d9a070" stroke-width="0.7"/>
<circle cx="457.07" cy="562.87" r="2.3" fill="#d27d2d"/>
<circle cx="470.30" cy="548.24" r="2.3" fill="#d27d2d"/>
<path d="M407.50,595.80 C410.81,595.31 422.37,594.51 427.33,592.86 C432.29,591.21 433.94,588.42 437.25,585.91 C440.55,583.39 443.86,580.87 447.16,577.79 C450.47,574.71 453.22,572.34 457.07,567.42 C460.93,562.49 468.09,551.44 470.30,548.24" fill="none" stroke="#1d3e70" stroke-width="0.9"/>
<line x1="407.50" y1="594.79" x2="407.50" y2="596.80" stroke="#4a5a70" stroke-width="0.7"/>
<line x1="406.00" y1="594.79" x2="409.00" y2="594.79" stroke="#4a5a70" stroke-width="0.7"/>
<line x1="406.00" y1="596.80" x2="409.00" y2="596.80" stroke="#4a5a70" stroke-width="0.7"/>
<circle cx="407.50" cy="595.80" r="2.3" fill="#1d3e70"/>
<line x1="427.33" y1="591.66" x2="427.33" y2="594.07" stroke="#4a5a70" stroke-width="0.7"/>
<line x1="425.83" y1="591.66" x2="428.83" y2="591.66" stroke="#4a5a70" stroke-width="0.7"/>
<line x1="425.83" y1="594.07" x2="428.83" y2="594.07" stroke="#4a5a70" stroke-width="0.7"/>
<circle cx="427.33" cy="592.86" r="2.3" fill="#1d3e70"/>
<line x1="437.25" y1="583.50" x2="437.25" y2="588.32" stroke="#4a5a70" stroke-width="0.7"/>
<line x1="435.75" y1="583.50" x2="438.75" y2="583.50" stroke="#4a5a70" stroke-width="0.7"/>
<line x1="435.75" y1="588.32" x2="438.75" y2="588.32" stroke="#4a5a70" stroke-width="0.7"/>
<circle cx="437.25" cy="585.91" r="2.3" fill="#1d3e70"/>
<line x1="447.16" y1="574.17" x2="447.16" y2="581.40" stroke="#4a5a70" stroke-width="0.7"/>
<line x1="445.66" y1="574.17" x2="448.66" y2="574.17" stroke="#4a5a70" stroke-width="0.7"/>
<line x1="445.66" y1="581.40" x2="448.66" y2="581.40" stroke="#4a5a70" stroke-width="0.7"/>
<circle cx="447.16" cy="577.79" r="2.3" fill="#1d3e70"/>
<line x1="457.07" y1="562.19" x2="457.07" y2="572.64" stroke="#4a5a70" stroke-width="0.7"/>
<line x1="455.57" y1="562.19" x2="458.57" y2="562.19" stroke="#4a5a70" stroke-width="0.7"/>
<line x1="455.57" y1="572.64" x2="458.57" y2="572.64" stroke="#4a5a70" stroke-width="0.7"/>
<circle cx="457.07" cy="567.42" r="2.3" fill="#1d3e70"/>
<line x1="470.30" y1="536.18" x2="470.30" y2="560.30" stroke="#4a5a70" stroke-width="0.7"/>
<line x1="468.80" y1="536.18" x2="471.80" y2="536.18" stroke="#4a5a70" stroke-width="0.7"/>
<line x1="468.80" y1="560.30" x2="471.80" y2="560.30" stroke="#4a5a70" stroke-width="0.7"/>
<circle cx="470.30" cy="548.24" r="2.3" fill="#1d3e70"/>
<line x1="405.80" y1="638.80" x2="415.00" y2="638.80" stroke="#1d3e70" stroke-width="1.0"/>
<circle cx="410.40" cy="638.80" r="2.1" fill="#1d3e70"/>
<text x="418.50" y="641.40" font-size="6.5" text-anchor="start" fill="#2a2a2a" font-weight="normal" stroke="#2a2a2a" stroke-width="0.06" textLength="20.7" lengthAdjust="spacingAndGlyphs">Vehicle</text>
<line x1="405.80" y1="646.90" x2="415.00" y2="646.90" stroke="#d27d2d" stroke-width="1.0"/>
<circle cx="410.40" cy="646.90" r="2.1" fill="#d27d2d"/>
<text x="418.50" y="649.50" font-size="6.5" text-anchor="start" fill="#2a2a2a" font-weight="normal" stroke="#2a2a2a" stroke-width="0.06" textLength="88.8" lengthAdjust="spacingAndGlyphs">Af. Isotype mAb, 5 mg/kg, SD</text>
<line x1="405.80" y1="655.00" x2="415.00" y2="655.00" stroke="#4db8e8" stroke-width="1.0"/>
<circle cx="410.40" cy="655.00" r="2.1" fill="#4db8e8"/>
<text x="418.50" y="657.60" font-size="6.5" text-anchor="start" fill="#2a2a2a" font-weight="normal" stroke="#2a2a2a" stroke-width="0.06" textLength="84.2" lengthAdjust="spacingAndGlyphs">Af. CD19 mAb, 5 mg/kg, SD</text>
<line x1="405.80" y1="663.10" x2="415.00" y2="663.10" stroke="#3aa846" stroke-width="1.0"/>
<circle cx="410.40" cy="663.10" r="2.1" fill="#3aa846"/>
<text x="418.50" y="665.70" font-size="6.5" text-anchor="start" fill="#2a2a2a" font-weight="normal" stroke="#2a2a2a" stroke-width="0.06" textLength="70.3" lengthAdjust="spacingAndGlyphs">ABBV-319, 5 mg/kg, SD</text>
<rect x="0" y="0" width="520" height="1" fill="#505050"/><rect x="0" y="0" width="1.15" height="674" fill="#484848"/><rect x="519" y="0" width="1" height="674" fill="#555"/><rect x="0" y="672.5" width="520" height="1.5" fill="#555"/>
</svg></body></html>
